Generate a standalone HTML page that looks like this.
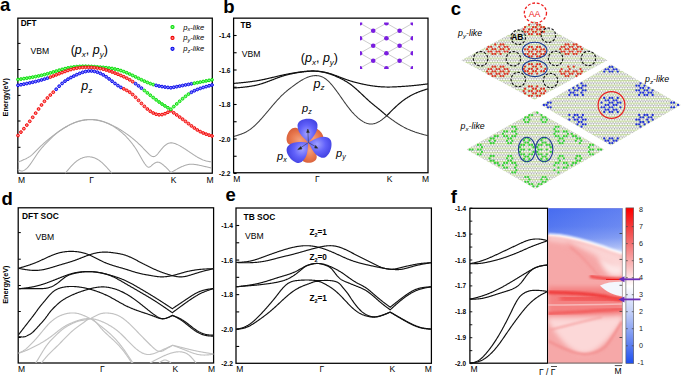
<!DOCTYPE html>
<html><head><meta charset="utf-8"><style>
html,body{margin:0;padding:0;background:#fff;}
svg{display:block;font-family:"Liberation Sans",sans-serif;}
</style></head><body>
<svg width="685" height="375" viewBox="0 0 685 375">
<rect width="685" height="375" fill="#fff"/>
<text x="0.0" y="10.6" font-size="18.5" font-weight="bold" font-style="normal" text-anchor="start" fill="#000" >a</text>
<text x="223.3" y="13.4" font-size="18.5" font-weight="bold" font-style="normal" text-anchor="start" fill="#000" >b</text>
<text x="450.8" y="14.8" font-size="18.5" font-weight="bold" font-style="normal" text-anchor="start" fill="#000" >c</text>
<text x="1.5" y="204.7" font-size="18.5" font-weight="bold" font-style="normal" text-anchor="start" fill="#000" >d</text>
<text x="225.6" y="201.0" font-size="18.5" font-weight="bold" font-style="normal" text-anchor="start" fill="#000" >e</text>
<text x="450.8" y="202.7" font-size="18.5" font-weight="bold" font-style="normal" text-anchor="start" fill="#000" >f</text>
<rect x="17.85" y="18.15" width="194.45" height="155.05" stroke="#000" stroke-width="1.25" fill="none"/>
<line x1="17.85" y1="43.4" x2="20.5" y2="43.4" stroke="#000" stroke-width="1"/>
<line x1="17.85" y1="69.5" x2="20.5" y2="69.5" stroke="#000" stroke-width="1"/>
<line x1="17.85" y1="95.4" x2="20.5" y2="95.4" stroke="#000" stroke-width="1"/>
<line x1="17.85" y1="121" x2="20.5" y2="121" stroke="#000" stroke-width="1"/>
<line x1="17.85" y1="147.3" x2="20.5" y2="147.3" stroke="#000" stroke-width="1"/>
<text x="20.7" y="26" font-size="8.2" font-weight="bold" font-style="normal" text-anchor="start" fill="#000" >DFT</text>
<text x="30.5" y="54.3" font-size="8.6" font-weight="normal" font-style="normal" text-anchor="start" fill="#000" >VBM</text>
<text x="70.7" y="54.2" font-size="12.5" fill="#000">(<tspan font-style="italic">p</tspan><tspan font-size="8" dy="2.5" font-style="italic">x</tspan><tspan dy="-2.5">, </tspan><tspan font-style="italic">p</tspan><tspan font-size="8" dy="2.5" font-style="italic">y</tspan><tspan dy="-2.5">)</tspan></text>
<text x="81.3" y="90" font-size="12.5" font-style="italic" fill="#000">p<tspan font-size="8" dy="2.5">z</tspan></text>
<circle cx="172.5" cy="27.0" r="1.55" fill="#80ff80" stroke="#00d800" stroke-width="1.1"/>
<text x="183.3" y="29.5" font-size="7.6" font-style="italic" fill="#000">p<tspan font-size="5.5" dy="1.6">x</tspan><tspan dy="-1.6">-like</tspan></text>
<circle cx="172.5" cy="37.9" r="1.55" fill="#ff8080" stroke="#f00000" stroke-width="1.1"/>
<text x="183.3" y="40.4" font-size="7.6" font-style="italic" fill="#000">p<tspan font-size="5.5" dy="1.6">y</tspan><tspan dy="-1.6">-like</tspan></text>
<circle cx="172.5" cy="48.8" r="1.55" fill="#8080ff" stroke="#0000e8" stroke-width="1.1"/>
<text x="183.3" y="51.3" font-size="7.6" font-style="italic" fill="#000">p<tspan font-size="5.5" dy="1.6">z</tspan><tspan dy="-1.6">-like</tspan></text>
<path d="M18.00,162.20L18.50,161.99L19.00,161.78L19.50,161.56L20.00,161.35L20.50,161.14L21.00,160.92L21.50,160.71L22.00,160.49L22.50,160.27L23.00,160.05L23.50,159.82L24.00,159.60L24.50,159.37L25.00,159.14L25.50,158.91L26.00,158.66L26.50,158.41L27.00,158.15L27.50,157.88L28.00,157.60L28.50,157.31L29.00,157.00L29.50,156.68L30.00,156.34L30.50,155.98L31.00,155.60L31.50,155.20L32.00,154.78L32.50,154.35L33.00,153.90L33.50,153.43L34.00,152.96L34.50,152.47L35.00,151.97L35.50,151.47L36.00,150.96L36.50,150.45L37.00,149.94L37.50,149.42L38.00,148.91L38.50,148.40L39.00,147.90L39.50,147.40L40.00,146.91L40.50,146.43L41.00,145.95L41.50,145.48L42.00,145.01L42.50,144.55L43.00,144.09L43.50,143.64L44.00,143.20L44.50,142.75L45.00,142.32L45.50,141.88L46.00,141.45L46.50,141.02L47.00,140.60L47.50,140.18L48.00,139.76L48.50,139.34L49.00,138.93L49.50,138.52L50.00,138.11L50.50,137.71L51.00,137.31L51.50,136.91L52.00,136.51L52.50,136.12L53.00,135.73L53.50,135.34L54.00,134.96L54.50,134.58L55.00,134.20L55.50,133.82L56.00,133.45L56.50,133.08L57.00,132.72L57.50,132.35L58.00,131.99L58.50,131.64L59.00,131.28L59.50,130.93L60.00,130.59L60.50,130.25L61.00,129.91L61.50,129.58L62.00,129.25L62.50,128.92L63.00,128.60L63.50,128.28L64.00,127.97L64.50,127.66L65.00,127.36L65.50,127.06L66.00,126.77L66.50,126.48L67.00,126.20L67.50,125.92L68.00,125.65L68.50,125.38L69.00,125.12L69.50,124.86L70.00,124.61L70.50,124.36L71.00,124.12L71.50,123.89L72.00,123.66L72.50,123.43L73.00,123.21L73.50,123.00L74.00,122.80L74.50,122.59L75.00,122.40L75.50,122.21L76.00,122.03L76.50,121.85L77.00,121.68L77.50,121.52L78.00,121.36L78.50,121.21L79.00,121.06L79.50,120.92L80.00,120.79L80.50,120.66L81.00,120.54L81.50,120.43L82.00,120.32L82.50,120.22L83.00,120.12L83.50,120.03L84.00,119.95L84.50,119.87L85.00,119.80L85.50,119.73L86.00,119.67L86.50,119.62L87.00,119.57L87.50,119.53L88.00,119.50L88.50,119.47L89.00,119.45L89.50,119.44L90.00,119.43L90.50,119.42L91.00,119.43L91.50,119.44L92.00,119.46L92.50,119.48L93.00,119.51L93.50,119.54L94.00,119.59L94.50,119.64L95.00,119.69L95.50,119.75L96.00,119.82L96.50,119.89L97.00,119.98L97.50,120.06L98.00,120.16L98.50,120.26L99.00,120.37L99.50,120.48L100.00,120.60L100.50,120.73L101.00,120.86L101.50,121.00L102.00,121.15L102.50,121.30L103.00,121.46L103.50,121.62L104.00,121.79L104.50,121.96L105.00,122.14L105.50,122.33L106.00,122.52L106.50,122.71L107.00,122.91L107.50,123.12L108.00,123.33L108.50,123.54L109.00,123.75L109.50,123.98L110.00,124.20L110.50,124.43L111.00,124.66L111.50,124.90L112.00,125.14L112.50,125.38L113.00,125.63L113.50,125.88L114.00,126.13L114.50,126.39L115.00,126.65L115.50,126.92L116.00,127.19L116.50,127.46L117.00,127.74L117.50,128.02L118.00,128.31L118.50,128.60L119.00,128.90L119.50,129.20L120.00,129.50L120.50,129.81L121.00,130.12L121.50,130.44L122.00,130.76L122.50,131.08L123.00,131.41L123.50,131.74L124.00,132.08L124.50,132.42L125.00,132.76L125.50,133.11L126.00,133.46L126.50,133.82L127.00,134.18L127.50,134.54L128.00,134.90L128.50,135.27L129.00,135.64L129.50,136.02L130.00,136.40L130.50,136.78L131.00,137.17L131.50,137.56L132.00,137.95L132.50,138.35L133.00,138.75L133.50,139.16L134.00,139.57L134.50,139.99L135.00,140.41L135.50,140.84L136.00,141.27L136.50,141.72L137.00,142.16L137.50,142.62L138.00,143.08L138.50,143.54L139.00,144.02L139.50,144.50L140.00,144.99L140.50,145.48L141.00,145.97L141.50,146.47L142.00,146.98L142.50,147.49L143.00,148.00L143.50,148.52L144.00,149.04L144.50,149.56L145.00,150.08L145.50,150.61L146.00,151.13L146.50,151.65L147.00,152.17L147.50,152.68L148.00,153.18L148.50,153.66L149.00,154.13L149.50,154.58L150.00,155.00L150.50,155.39L151.00,155.75L151.50,156.06L152.00,156.31L152.50,156.50L153.00,156.60L153.50,156.62L154.00,156.55L154.50,156.40L155.00,156.17L155.50,155.87L156.00,155.50L156.50,155.07L157.00,154.58L157.50,154.05L158.00,153.48L158.50,152.88L159.00,152.26L159.50,151.63L160.00,151.00L160.50,150.37L161.00,149.76L161.50,149.16L162.00,148.57L162.50,148.00L163.00,147.45L163.50,146.92L164.00,146.42L164.50,145.94L165.00,145.50L165.50,145.09L166.00,144.71L166.50,144.37L167.00,144.06L167.50,143.79L168.00,143.55L168.50,143.34L169.00,143.18L169.50,143.04L170.00,142.94L170.50,142.88L171.00,142.85L171.50,142.86L172.00,142.89L172.50,142.95L173.00,143.04L173.50,143.15L174.00,143.28L174.50,143.43L175.00,143.60L175.50,143.78L176.00,143.97L176.50,144.18L177.00,144.40L177.50,144.63L178.00,144.87L178.50,145.11L179.00,145.37L179.50,145.64L180.00,145.91L180.50,146.19L181.00,146.48L181.50,146.78L182.00,147.08L182.50,147.38L183.00,147.69L183.50,148.00L184.00,148.32L184.50,148.64L185.00,148.97L185.50,149.30L186.00,149.63L186.50,149.96L187.00,150.29L187.50,150.63L188.00,150.97L188.50,151.31L189.00,151.65L189.50,151.99L190.00,152.32L190.50,152.66L191.00,153.00L191.50,153.34L192.00,153.68L192.50,154.01L193.00,154.34L193.50,154.67L194.00,155.00L194.50,155.32L195.00,155.64L195.50,155.96L196.00,156.27L196.50,156.58L197.00,156.88L197.50,157.18L198.00,157.47L198.50,157.75L199.00,158.03L199.50,158.30L200.00,158.56L200.50,158.81L201.00,159.05L201.50,159.28L202.00,159.51L202.50,159.72L203.00,159.93L203.50,160.12L204.00,160.30L204.50,160.47L205.00,160.62L205.50,160.77L206.00,160.90L206.50,161.03L207.00,161.14L207.50,161.25L208.00,161.35L208.50,161.45L209.00,161.54L209.50,161.62L210.00,161.70L210.50,161.78L211.00,161.85L211.50,161.93L212.00,162.00" stroke="#acacac" stroke-width="1.05" fill="none"/>
<path d="M18.00,169.40L18.50,169.72L19.00,170.03L19.50,170.31L20.00,170.56L20.50,170.76L21.00,170.90L21.50,170.97L22.00,170.98L22.50,170.92L23.00,170.80L23.50,170.63L24.00,170.40L24.50,170.12L25.00,169.80L25.50,169.43L26.00,169.03L26.50,168.58L27.00,168.10L27.50,167.58L28.00,167.04L28.50,166.46L29.00,165.85L29.50,165.22L30.00,164.57L30.50,163.89L31.00,163.20L31.50,162.49L32.00,161.76L32.50,161.03L33.00,160.28L33.50,159.52L34.00,158.76L34.50,158.00L35.00,157.24L35.50,156.48L36.00,155.72L36.50,154.97L37.00,154.23L37.50,153.50L38.00,152.78L38.50,152.08L39.00,151.40L39.50,150.74L40.00,150.10L40.50,149.47L41.00,148.87L41.50,148.28L42.00,147.70L42.50,147.13L43.00,146.58L43.50,146.04L44.00,145.50L44.50,144.98L45.00,144.45L45.50,143.94L46.00,143.42L46.50,142.91L47.00,142.40L47.50,141.89L48.00,141.38L48.50,140.86L49.00,140.35L49.50,139.84L50.00,139.34L50.50,138.84L51.00,138.34L51.50,137.85L52.00,137.36L52.50,136.88L53.00,136.40L53.50,135.94L54.00,135.48L54.50,135.04L55.00,134.60L55.50,134.17L56.00,133.76L56.50,133.35L57.00,132.96L57.50,132.57L58.00,132.20L58.50,131.83L59.00,131.47L59.50,131.11L60.00,130.76L60.50,130.42L61.00,130.09L61.50,129.76L62.00,129.44L62.50,129.12L63.00,128.80L63.50,128.49L64.00,128.18L64.50,127.88L65.00,127.58L65.50,127.28L66.00,126.99L66.50,126.70L67.00,126.42L67.50,126.14L68.00,125.87L68.50,125.60L69.00,125.33L69.50,125.07L70.00,124.82L70.50,124.57L71.00,124.33L71.50,124.09L72.00,123.86L72.50,123.64L73.00,123.42L73.50,123.20L74.00,123.00L74.50,122.79L75.00,122.60L75.50,122.41L76.00,122.23L76.50,122.06L77.00,121.89L77.50,121.73L78.00,121.57L78.50,121.42L79.00,121.28L79.50,121.14L80.00,121.01L80.50,120.89L81.00,120.77L81.50,120.66L82.00,120.56L82.50,120.46L83.00,120.37L83.50,120.29L84.00,120.21L84.50,120.13L85.00,120.07L85.50,120.01L86.00,119.95L86.50,119.91L87.00,119.86L87.50,119.83L88.00,119.80L88.50,119.78L89.00,119.76L89.50,119.75L90.00,119.74L90.50,119.74L91.00,119.75L91.50,119.77L92.00,119.78L92.50,119.81L93.00,119.84L93.50,119.88L94.00,119.92L94.50,119.97L95.00,120.03L95.50,120.09L96.00,120.15L96.50,120.23L97.00,120.30L97.50,120.39L98.00,120.48L98.50,120.58L99.00,120.68L99.50,120.79L100.00,120.90L100.50,121.02L101.00,121.15L101.50,121.28L102.00,121.41L102.50,121.56L103.00,121.71L103.50,121.86L104.00,122.03L104.50,122.19L105.00,122.37L105.50,122.55L106.00,122.74L106.50,122.94L107.00,123.14L107.50,123.35L108.00,123.56L108.50,123.79L109.00,124.02L109.50,124.26L110.00,124.50L110.50,124.75L111.00,125.01L111.50,125.28L112.00,125.55L112.50,125.84L113.00,126.13L113.50,126.42L114.00,126.73L114.50,127.04L115.00,127.36L115.50,127.69L116.00,128.03L116.50,128.37L117.00,128.72L117.50,129.08L118.00,129.45L118.50,129.83L119.00,130.21L119.50,130.60L120.00,131.00L120.50,131.41L121.00,131.82L121.50,132.25L122.00,132.68L122.50,133.12L123.00,133.57L123.50,134.03L124.00,134.50L124.50,134.98L125.00,135.47L125.50,135.96L126.00,136.47L126.50,136.99L127.00,137.52L127.50,138.05L128.00,138.60L128.50,139.16L129.00,139.73L129.50,140.31L130.00,140.90L130.50,141.50L131.00,142.12L131.50,142.74L132.00,143.38L132.50,144.04L133.00,144.71L133.50,145.39L134.00,146.09L134.50,146.80L135.00,147.53L135.50,148.28L136.00,149.05L136.50,149.84L137.00,150.64L137.50,151.46L138.00,152.31L138.50,153.17L139.00,154.05L139.50,154.93L140.00,155.83L140.50,156.72L141.00,157.60L141.50,158.48L142.00,159.35L142.50,160.20L143.00,161.03L143.50,161.83L144.00,162.60L144.50,163.34L145.00,164.04L145.50,164.69L146.00,165.30L146.50,165.85L147.00,166.33L147.50,166.73L148.00,167.01L148.50,167.17L149.00,167.19L149.50,167.06L150.00,166.82L150.50,166.49L151.00,166.09L151.50,165.65L152.00,165.20L152.50,164.76L153.00,164.33L153.50,163.93L154.00,163.56L154.50,163.22L155.00,162.91L155.50,162.65L156.00,162.44L156.50,162.28L157.00,162.19L157.50,162.15L158.00,162.17L158.50,162.24L159.00,162.36L159.50,162.54L160.00,162.75L160.50,163.00L161.00,163.29L161.50,163.61L162.00,163.95L162.50,164.33L163.00,164.73L163.50,165.15L164.00,165.58L164.50,166.04L165.00,166.50L165.50,166.97L166.00,167.46L166.50,167.95L167.00,168.45L167.50,168.95L168.00,169.46L168.50,169.98L169.00,170.50L169.50,171.02L170.00,171.55L170.50,172.07L171.00,172.60L171.00,172.60L171.50,172.29L172.00,171.99L172.50,171.68L173.00,171.38L173.50,171.08L174.00,170.78L174.50,170.49L175.00,170.20L175.50,169.92L176.00,169.64L176.50,169.36L177.00,169.09L177.50,168.83L178.00,168.56L178.50,168.30L179.00,168.05L179.50,167.79L180.00,167.54L180.50,167.30L181.00,167.06L181.50,166.82L182.00,166.59L182.50,166.37L183.00,166.15L183.50,165.95L184.00,165.75L184.50,165.56L185.00,165.38L185.50,165.21L186.00,165.06L186.50,164.91L187.00,164.78L187.50,164.66L188.00,164.55L188.50,164.46L189.00,164.39L189.50,164.32L190.00,164.28L190.50,164.25L191.00,164.23L191.50,164.22L192.00,164.23L192.50,164.24L193.00,164.27L193.50,164.31L194.00,164.36L194.50,164.41L195.00,164.47L195.50,164.54L196.00,164.62L196.50,164.70L197.00,164.79L197.50,164.88L198.00,164.98L198.50,165.08L199.00,165.18L199.50,165.28L200.00,165.39L200.50,165.49L201.00,165.60L201.50,165.71L202.00,165.82L202.50,165.93L203.00,166.04L203.50,166.16L204.00,166.27L204.50,166.39L205.00,166.51L205.50,166.62L206.00,166.74L206.50,166.86L207.00,166.98L207.50,167.10L208.00,167.22L208.50,167.34L209.00,167.46L209.50,167.59L210.00,167.71L210.50,167.83L211.00,167.95L211.50,168.08L212.00,168.20" stroke="#acacac" stroke-width="1.05" fill="none"/>
<path d="M65.30,173.20L65.80,172.59L66.30,171.98L66.80,171.38L67.30,170.77L67.80,170.18L68.30,169.58L68.80,168.99L69.30,168.41L69.80,167.83L70.30,167.26L70.80,166.71L71.30,166.16L71.80,165.62L72.30,165.09L72.80,164.58L73.30,164.08L73.80,163.60L74.30,163.13L74.80,162.68L75.30,162.24L75.80,161.82L76.30,161.42L76.80,161.04L77.30,160.67L77.80,160.33L78.30,160.00L78.80,159.68L79.30,159.38L79.80,159.10L80.30,158.84L80.80,158.59L81.30,158.36L81.80,158.15L82.30,157.95L82.80,157.77L83.30,157.60L83.80,157.45L84.30,157.32L84.80,157.20L85.30,157.09L85.80,157.01L86.30,156.93L86.80,156.88L87.30,156.84L87.80,156.81L88.30,156.80L88.80,156.80L89.30,156.82L89.80,156.85L90.30,156.90L90.80,156.96L91.30,157.04L91.80,157.13L92.30,157.24L92.80,157.37L93.30,157.51L93.80,157.67L94.30,157.84L94.80,158.03L95.30,158.24L95.80,158.46L96.30,158.70L96.80,158.95L97.30,159.23L97.80,159.52L98.30,159.82L98.80,160.15L99.30,160.49L99.80,160.85L100.30,161.23L100.80,161.62L101.30,162.04L101.80,162.46L102.30,162.91L102.80,163.36L103.30,163.84L103.80,164.32L104.30,164.82L104.80,165.32L105.30,165.84L105.80,166.37L106.30,166.91L106.80,167.45L107.30,168.01L107.80,168.57L108.30,169.13L108.80,169.70L109.30,170.28L109.80,170.86L110.30,171.44L110.80,172.03L111.30,172.61L111.80,173.20" stroke="#acacac" stroke-width="1.05" fill="none"/>
<circle cx="18.00" cy="79.50" r="1.4" fill="#7cff7c" stroke="#00d800" stroke-width="0.95"/>
<circle cx="20.94" cy="79.06" r="1.4" fill="#7cff7c" stroke="#00d800" stroke-width="0.95"/>
<circle cx="23.88" cy="78.61" r="1.4" fill="#7cff7c" stroke="#00d800" stroke-width="0.95"/>
<circle cx="26.82" cy="78.14" r="1.4" fill="#7cff7c" stroke="#00d800" stroke-width="0.95"/>
<circle cx="29.76" cy="77.66" r="1.4" fill="#7cff7c" stroke="#00d800" stroke-width="0.95"/>
<circle cx="32.70" cy="77.14" r="1.4" fill="#7cff7c" stroke="#00d800" stroke-width="0.95"/>
<circle cx="35.64" cy="76.58" r="1.4" fill="#7cff7c" stroke="#00d800" stroke-width="0.95"/>
<circle cx="38.58" cy="75.97" r="1.4" fill="#7cff7c" stroke="#00d800" stroke-width="0.95"/>
<circle cx="41.52" cy="75.31" r="1.4" fill="#7cff7c" stroke="#00d800" stroke-width="0.95"/>
<circle cx="44.45" cy="74.58" r="1.4" fill="#7cff7c" stroke="#00d800" stroke-width="0.95"/>
<circle cx="47.39" cy="73.79" r="1.4" fill="#7cff7c" stroke="#00d800" stroke-width="0.95"/>
<circle cx="50.33" cy="72.93" r="1.4" fill="#7cff7c" stroke="#00d800" stroke-width="0.95"/>
<circle cx="53.27" cy="72.02" r="1.4" fill="#7cff7c" stroke="#00d800" stroke-width="0.95"/>
<circle cx="56.21" cy="71.11" r="1.4" fill="#7cff7c" stroke="#00d800" stroke-width="0.95"/>
<circle cx="59.15" cy="70.21" r="1.4" fill="#7cff7c" stroke="#00d800" stroke-width="0.95"/>
<circle cx="62.09" cy="69.38" r="1.4" fill="#7cff7c" stroke="#00d800" stroke-width="0.95"/>
<circle cx="65.03" cy="68.62" r="1.4" fill="#7cff7c" stroke="#00d800" stroke-width="0.95"/>
<circle cx="67.97" cy="67.96" r="1.4" fill="#7cff7c" stroke="#00d800" stroke-width="0.95"/>
<circle cx="70.91" cy="67.40" r="1.4" fill="#7cff7c" stroke="#00d800" stroke-width="0.95"/>
<circle cx="73.85" cy="66.95" r="1.4" fill="#7cff7c" stroke="#00d800" stroke-width="0.95"/>
<circle cx="76.79" cy="66.61" r="1.4" fill="#7cff7c" stroke="#00d800" stroke-width="0.95"/>
<circle cx="79.73" cy="66.39" r="1.4" fill="#7cff7c" stroke="#00d800" stroke-width="0.95"/>
<circle cx="82.67" cy="66.27" r="1.4" fill="#7cff7c" stroke="#00d800" stroke-width="0.95"/>
<circle cx="85.61" cy="66.25" r="1.4" fill="#7cff7c" stroke="#00d800" stroke-width="0.95"/>
<circle cx="88.55" cy="66.32" r="1.4" fill="#7cff7c" stroke="#00d800" stroke-width="0.95"/>
<circle cx="91.48" cy="66.45" r="1.4" fill="#7cff7c" stroke="#00d800" stroke-width="0.95"/>
<circle cx="94.42" cy="66.65" r="1.4" fill="#7cff7c" stroke="#00d800" stroke-width="0.95"/>
<circle cx="97.36" cy="66.88" r="1.4" fill="#7cff7c" stroke="#00d800" stroke-width="0.95"/>
<circle cx="100.30" cy="67.13" r="1.4" fill="#7cff7c" stroke="#00d800" stroke-width="0.95"/>
<circle cx="103.24" cy="67.39" r="1.4" fill="#7cff7c" stroke="#00d800" stroke-width="0.95"/>
<circle cx="106.18" cy="67.68" r="1.4" fill="#7cff7c" stroke="#00d800" stroke-width="0.95"/>
<circle cx="109.12" cy="68.04" r="1.4" fill="#7cff7c" stroke="#00d800" stroke-width="0.95"/>
<circle cx="112.06" cy="68.48" r="1.4" fill="#7cff7c" stroke="#00d800" stroke-width="0.95"/>
<circle cx="115.00" cy="69.03" r="1.4" fill="#7cff7c" stroke="#00d800" stroke-width="0.95"/>
<circle cx="117.94" cy="69.72" r="1.4" fill="#7cff7c" stroke="#00d800" stroke-width="0.95"/>
<circle cx="120.88" cy="70.57" r="1.4" fill="#7cff7c" stroke="#00d800" stroke-width="0.95"/>
<circle cx="123.82" cy="71.60" r="1.4" fill="#7cff7c" stroke="#00d800" stroke-width="0.95"/>
<circle cx="126.76" cy="72.77" r="1.4" fill="#7cff7c" stroke="#00d800" stroke-width="0.95"/>
<circle cx="129.70" cy="74.06" r="1.4" fill="#7cff7c" stroke="#00d800" stroke-width="0.95"/>
<circle cx="132.64" cy="75.44" r="1.4" fill="#7cff7c" stroke="#00d800" stroke-width="0.95"/>
<circle cx="135.58" cy="76.88" r="1.4" fill="#7cff7c" stroke="#00d800" stroke-width="0.95"/>
<circle cx="138.52" cy="78.34" r="1.4" fill="#7cff7c" stroke="#00d800" stroke-width="0.95"/>
<circle cx="141.45" cy="79.78" r="1.4" fill="#7cff7c" stroke="#00d800" stroke-width="0.95"/>
<circle cx="144.39" cy="81.16" r="1.4" fill="#7cff7c" stroke="#00d800" stroke-width="0.95"/>
<circle cx="147.33" cy="82.44" r="1.4" fill="#7cff7c" stroke="#00d800" stroke-width="0.95"/>
<circle cx="150.27" cy="83.60" r="1.4" fill="#7cff7c" stroke="#00d800" stroke-width="0.95"/>
<circle cx="153.21" cy="84.58" r="1.4" fill="#7cff7c" stroke="#00d800" stroke-width="0.95"/>
<circle cx="156.15" cy="85.39" r="1.4" fill="#8a8aff" stroke="#0000e8" stroke-width="0.95"/>
<circle cx="159.09" cy="86.05" r="1.4" fill="#8a8aff" stroke="#0000e8" stroke-width="0.95"/>
<circle cx="162.03" cy="86.59" r="1.4" fill="#8a8aff" stroke="#0000e8" stroke-width="0.95"/>
<circle cx="164.97" cy="87.04" r="1.4" fill="#8a8aff" stroke="#0000e8" stroke-width="0.95"/>
<circle cx="167.91" cy="87.43" r="1.4" fill="#8a8aff" stroke="#0000e8" stroke-width="0.95"/>
<circle cx="170.85" cy="87.78" r="1.4" fill="#8a8aff" stroke="#0000e8" stroke-width="0.95"/>
<circle cx="173.79" cy="87.26" r="1.4" fill="#8a8aff" stroke="#0000e8" stroke-width="0.95"/>
<circle cx="176.73" cy="86.68" r="1.4" fill="#8a8aff" stroke="#0000e8" stroke-width="0.95"/>
<circle cx="179.67" cy="86.11" r="1.4" fill="#8a8aff" stroke="#0000e8" stroke-width="0.95"/>
<circle cx="182.61" cy="85.54" r="1.4" fill="#8a8aff" stroke="#0000e8" stroke-width="0.95"/>
<circle cx="185.55" cy="84.96" r="1.4" fill="#8a8aff" stroke="#0000e8" stroke-width="0.95"/>
<circle cx="188.48" cy="84.39" r="1.4" fill="#8a8aff" stroke="#0000e8" stroke-width="0.95"/>
<circle cx="191.42" cy="83.82" r="1.4" fill="#8a8aff" stroke="#0000e8" stroke-width="0.95"/>
<circle cx="194.36" cy="83.24" r="1.4" fill="#7cff7c" stroke="#00d800" stroke-width="0.95"/>
<circle cx="197.30" cy="82.67" r="1.4" fill="#7cff7c" stroke="#00d800" stroke-width="0.95"/>
<circle cx="200.24" cy="82.10" r="1.4" fill="#7cff7c" stroke="#00d800" stroke-width="0.95"/>
<circle cx="203.18" cy="81.52" r="1.4" fill="#7cff7c" stroke="#00d800" stroke-width="0.95"/>
<circle cx="206.12" cy="80.95" r="1.4" fill="#7cff7c" stroke="#00d800" stroke-width="0.95"/>
<circle cx="209.06" cy="80.37" r="1.4" fill="#7cff7c" stroke="#00d800" stroke-width="0.95"/>
<circle cx="212.00" cy="79.80" r="1.4" fill="#7cff7c" stroke="#00d800" stroke-width="0.95"/>
<circle cx="18.00" cy="135.50" r="1.4" fill="#ff8a8a" stroke="#f00000" stroke-width="0.95"/>
<circle cx="20.94" cy="132.12" r="1.4" fill="#ff8a8a" stroke="#f00000" stroke-width="0.95"/>
<circle cx="23.88" cy="128.67" r="1.4" fill="#ff8a8a" stroke="#f00000" stroke-width="0.95"/>
<circle cx="26.82" cy="125.10" r="1.4" fill="#ff8a8a" stroke="#f00000" stroke-width="0.95"/>
<circle cx="29.76" cy="121.32" r="1.4" fill="#ff8a8a" stroke="#f00000" stroke-width="0.95"/>
<circle cx="32.70" cy="117.31" r="1.4" fill="#ff8a8a" stroke="#f00000" stroke-width="0.95"/>
<circle cx="35.64" cy="113.16" r="1.4" fill="#ff8a8a" stroke="#f00000" stroke-width="0.95"/>
<circle cx="38.58" cy="109.02" r="1.4" fill="#ff8a8a" stroke="#f00000" stroke-width="0.95"/>
<circle cx="41.52" cy="105.01" r="1.4" fill="#ff8a8a" stroke="#f00000" stroke-width="0.95"/>
<circle cx="44.45" cy="101.29" r="1.4" fill="#ff8a8a" stroke="#f00000" stroke-width="0.95"/>
<circle cx="47.39" cy="97.99" r="1.4" fill="#ff8a8a" stroke="#f00000" stroke-width="0.95"/>
<circle cx="50.33" cy="95.05" r="1.4" fill="#ff8a8a" stroke="#f00000" stroke-width="0.95"/>
<circle cx="53.27" cy="92.22" r="1.4" fill="#ff8a8a" stroke="#f00000" stroke-width="0.95"/>
<circle cx="56.21" cy="89.24" r="1.4" fill="#8a8aff" stroke="#0000e8" stroke-width="0.95"/>
<circle cx="59.15" cy="86.20" r="1.4" fill="#8a8aff" stroke="#0000e8" stroke-width="0.95"/>
<circle cx="62.09" cy="83.44" r="1.4" fill="#8a8aff" stroke="#0000e8" stroke-width="0.95"/>
<circle cx="65.03" cy="81.13" r="1.4" fill="#8a8aff" stroke="#0000e8" stroke-width="0.95"/>
<circle cx="67.97" cy="79.19" r="1.4" fill="#8a8aff" stroke="#0000e8" stroke-width="0.95"/>
<circle cx="70.91" cy="77.53" r="1.4" fill="#8a8aff" stroke="#0000e8" stroke-width="0.95"/>
<circle cx="73.85" cy="76.05" r="1.4" fill="#8a8aff" stroke="#0000e8" stroke-width="0.95"/>
<circle cx="76.79" cy="74.67" r="1.4" fill="#8a8aff" stroke="#0000e8" stroke-width="0.95"/>
<circle cx="79.73" cy="73.40" r="1.4" fill="#8a8aff" stroke="#0000e8" stroke-width="0.95"/>
<circle cx="82.67" cy="72.31" r="1.4" fill="#8a8aff" stroke="#0000e8" stroke-width="0.95"/>
<circle cx="85.61" cy="71.50" r="1.4" fill="#8a8aff" stroke="#0000e8" stroke-width="0.95"/>
<circle cx="88.55" cy="71.03" r="1.4" fill="#8a8aff" stroke="#0000e8" stroke-width="0.95"/>
<circle cx="91.48" cy="71.00" r="1.4" fill="#8a8aff" stroke="#0000e8" stroke-width="0.95"/>
<circle cx="94.42" cy="71.39" r="1.4" fill="#8a8aff" stroke="#0000e8" stroke-width="0.95"/>
<circle cx="97.36" cy="72.19" r="1.4" fill="#8a8aff" stroke="#0000e8" stroke-width="0.95"/>
<circle cx="100.30" cy="73.37" r="1.4" fill="#8a8aff" stroke="#0000e8" stroke-width="0.95"/>
<circle cx="103.24" cy="74.91" r="1.4" fill="#8a8aff" stroke="#0000e8" stroke-width="0.95"/>
<circle cx="106.18" cy="76.79" r="1.4" fill="#8a8aff" stroke="#0000e8" stroke-width="0.95"/>
<circle cx="109.12" cy="78.94" r="1.4" fill="#8a8aff" stroke="#0000e8" stroke-width="0.95"/>
<circle cx="112.06" cy="81.21" r="1.4" fill="#8a8aff" stroke="#0000e8" stroke-width="0.95"/>
<circle cx="115.00" cy="83.47" r="1.4" fill="#8a8aff" stroke="#0000e8" stroke-width="0.95"/>
<circle cx="117.94" cy="85.57" r="1.4" fill="#8a8aff" stroke="#0000e8" stroke-width="0.95"/>
<circle cx="120.88" cy="87.39" r="1.4" fill="#8a8aff" stroke="#0000e8" stroke-width="0.95"/>
<circle cx="123.82" cy="88.90" r="1.4" fill="#ff8a8a" stroke="#f00000" stroke-width="0.95"/>
<circle cx="126.76" cy="90.40" r="1.4" fill="#ff8a8a" stroke="#f00000" stroke-width="0.95"/>
<circle cx="129.70" cy="92.19" r="1.4" fill="#ff8a8a" stroke="#f00000" stroke-width="0.95"/>
<circle cx="132.64" cy="94.52" r="1.4" fill="#ff8a8a" stroke="#f00000" stroke-width="0.95"/>
<circle cx="135.58" cy="97.30" r="1.4" fill="#ff8a8a" stroke="#f00000" stroke-width="0.95"/>
<circle cx="138.52" cy="100.34" r="1.4" fill="#ff8a8a" stroke="#f00000" stroke-width="0.95"/>
<circle cx="141.45" cy="103.43" r="1.4" fill="#ff8a8a" stroke="#f00000" stroke-width="0.95"/>
<circle cx="144.39" cy="106.36" r="1.4" fill="#ff8a8a" stroke="#f00000" stroke-width="0.95"/>
<circle cx="147.33" cy="109.00" r="1.4" fill="#ff8a8a" stroke="#f00000" stroke-width="0.95"/>
<circle cx="150.27" cy="111.25" r="1.4" fill="#ff8a8a" stroke="#f00000" stroke-width="0.95"/>
<circle cx="153.21" cy="113.02" r="1.4" fill="#ff8a8a" stroke="#f00000" stroke-width="0.95"/>
<circle cx="156.15" cy="114.23" r="1.4" fill="#ff8a8a" stroke="#f00000" stroke-width="0.95"/>
<circle cx="159.09" cy="114.78" r="1.4" fill="#ff8a8a" stroke="#f00000" stroke-width="0.95"/>
<circle cx="162.03" cy="114.59" r="1.4" fill="#ff8a8a" stroke="#f00000" stroke-width="0.95"/>
<circle cx="164.97" cy="113.68" r="1.4" fill="#ff8a8a" stroke="#f00000" stroke-width="0.95"/>
<circle cx="167.91" cy="112.27" r="1.4" fill="#ff8a8a" stroke="#f00000" stroke-width="0.95"/>
<circle cx="170.85" cy="110.80" r="1.4" fill="#ff8a8a" stroke="#f00000" stroke-width="0.95"/>
<circle cx="173.79" cy="112.87" r="1.4" fill="#ff8a8a" stroke="#f00000" stroke-width="0.95"/>
<circle cx="176.73" cy="114.95" r="1.4" fill="#ff8a8a" stroke="#f00000" stroke-width="0.95"/>
<circle cx="179.67" cy="117.06" r="1.4" fill="#ff8a8a" stroke="#f00000" stroke-width="0.95"/>
<circle cx="182.61" cy="119.21" r="1.4" fill="#ff8a8a" stroke="#f00000" stroke-width="0.95"/>
<circle cx="185.55" cy="121.41" r="1.4" fill="#ff8a8a" stroke="#f00000" stroke-width="0.95"/>
<circle cx="188.48" cy="123.66" r="1.4" fill="#ff8a8a" stroke="#f00000" stroke-width="0.95"/>
<circle cx="191.42" cy="125.89" r="1.4" fill="#ff8a8a" stroke="#f00000" stroke-width="0.95"/>
<circle cx="194.36" cy="128.01" r="1.4" fill="#ff8a8a" stroke="#f00000" stroke-width="0.95"/>
<circle cx="197.30" cy="129.95" r="1.4" fill="#ff8a8a" stroke="#f00000" stroke-width="0.95"/>
<circle cx="200.24" cy="131.63" r="1.4" fill="#ff8a8a" stroke="#f00000" stroke-width="0.95"/>
<circle cx="203.18" cy="133.00" r="1.4" fill="#ff8a8a" stroke="#f00000" stroke-width="0.95"/>
<circle cx="206.12" cy="134.14" r="1.4" fill="#ff8a8a" stroke="#f00000" stroke-width="0.95"/>
<circle cx="209.06" cy="135.11" r="1.4" fill="#ff8a8a" stroke="#f00000" stroke-width="0.95"/>
<circle cx="212.00" cy="136.00" r="1.4" fill="#ff8a8a" stroke="#f00000" stroke-width="0.95"/>
<circle cx="18.00" cy="85.30" r="1.4" fill="#8a8aff" stroke="#0000e8" stroke-width="0.95"/>
<circle cx="20.94" cy="84.72" r="1.4" fill="#8a8aff" stroke="#0000e8" stroke-width="0.95"/>
<circle cx="23.88" cy="84.14" r="1.4" fill="#8a8aff" stroke="#0000e8" stroke-width="0.95"/>
<circle cx="26.82" cy="83.53" r="1.4" fill="#8a8aff" stroke="#0000e8" stroke-width="0.95"/>
<circle cx="29.76" cy="82.91" r="1.4" fill="#8a8aff" stroke="#0000e8" stroke-width="0.95"/>
<circle cx="32.70" cy="82.25" r="1.4" fill="#8a8aff" stroke="#0000e8" stroke-width="0.95"/>
<circle cx="35.64" cy="81.54" r="1.4" fill="#8a8aff" stroke="#0000e8" stroke-width="0.95"/>
<circle cx="38.58" cy="80.79" r="1.4" fill="#8a8aff" stroke="#0000e8" stroke-width="0.95"/>
<circle cx="41.52" cy="79.98" r="1.4" fill="#8a8aff" stroke="#0000e8" stroke-width="0.95"/>
<circle cx="44.45" cy="79.11" r="1.4" fill="#8a8aff" stroke="#0000e8" stroke-width="0.95"/>
<circle cx="47.39" cy="78.15" r="1.4" fill="#8a8aff" stroke="#0000e8" stroke-width="0.95"/>
<circle cx="50.33" cy="77.12" r="1.4" fill="#ff8a8a" stroke="#f00000" stroke-width="0.95"/>
<circle cx="53.27" cy="76.01" r="1.4" fill="#ff8a8a" stroke="#f00000" stroke-width="0.95"/>
<circle cx="56.21" cy="74.87" r="1.4" fill="#ff8a8a" stroke="#f00000" stroke-width="0.95"/>
<circle cx="59.15" cy="73.70" r="1.4" fill="#ff8a8a" stroke="#f00000" stroke-width="0.95"/>
<circle cx="62.09" cy="72.56" r="1.4" fill="#ff8a8a" stroke="#f00000" stroke-width="0.95"/>
<circle cx="65.03" cy="71.46" r="1.4" fill="#ff8a8a" stroke="#f00000" stroke-width="0.95"/>
<circle cx="67.97" cy="70.44" r="1.4" fill="#ff8a8a" stroke="#f00000" stroke-width="0.95"/>
<circle cx="70.91" cy="69.53" r="1.4" fill="#ff8a8a" stroke="#f00000" stroke-width="0.95"/>
<circle cx="73.85" cy="68.76" r="1.4" fill="#ff8a8a" stroke="#f00000" stroke-width="0.95"/>
<circle cx="76.79" cy="68.15" r="1.4" fill="#ff8a8a" stroke="#f00000" stroke-width="0.95"/>
<circle cx="79.73" cy="67.72" r="1.4" fill="#ff8a8a" stroke="#f00000" stroke-width="0.95"/>
<circle cx="82.67" cy="67.44" r="1.4" fill="#ff8a8a" stroke="#f00000" stroke-width="0.95"/>
<circle cx="85.61" cy="67.31" r="1.4" fill="#ff8a8a" stroke="#f00000" stroke-width="0.95"/>
<circle cx="88.55" cy="67.31" r="1.4" fill="#ff8a8a" stroke="#f00000" stroke-width="0.95"/>
<circle cx="91.48" cy="67.42" r="1.4" fill="#ff8a8a" stroke="#f00000" stroke-width="0.95"/>
<circle cx="94.42" cy="67.67" r="1.4" fill="#ff8a8a" stroke="#f00000" stroke-width="0.95"/>
<circle cx="97.36" cy="68.04" r="1.4" fill="#ff8a8a" stroke="#f00000" stroke-width="0.95"/>
<circle cx="100.30" cy="68.56" r="1.4" fill="#ff8a8a" stroke="#f00000" stroke-width="0.95"/>
<circle cx="103.24" cy="69.22" r="1.4" fill="#ff8a8a" stroke="#f00000" stroke-width="0.95"/>
<circle cx="106.18" cy="70.02" r="1.4" fill="#ff8a8a" stroke="#f00000" stroke-width="0.95"/>
<circle cx="109.12" cy="70.93" r="1.4" fill="#ff8a8a" stroke="#f00000" stroke-width="0.95"/>
<circle cx="112.06" cy="71.95" r="1.4" fill="#ff8a8a" stroke="#f00000" stroke-width="0.95"/>
<circle cx="115.00" cy="73.06" r="1.4" fill="#ff8a8a" stroke="#f00000" stroke-width="0.95"/>
<circle cx="117.94" cy="74.24" r="1.4" fill="#ff8a8a" stroke="#f00000" stroke-width="0.95"/>
<circle cx="120.88" cy="75.48" r="1.4" fill="#ff8a8a" stroke="#f00000" stroke-width="0.95"/>
<circle cx="123.82" cy="76.78" r="1.4" fill="#ff8a8a" stroke="#f00000" stroke-width="0.95"/>
<circle cx="126.76" cy="78.21" r="1.4" fill="#ff8a8a" stroke="#f00000" stroke-width="0.95"/>
<circle cx="129.70" cy="79.82" r="1.4" fill="#ff8a8a" stroke="#f00000" stroke-width="0.95"/>
<circle cx="132.64" cy="81.66" r="1.4" fill="#ff8a8a" stroke="#f00000" stroke-width="0.95"/>
<circle cx="135.58" cy="83.69" r="1.4" fill="#8a8aff" stroke="#0000e8" stroke-width="0.95"/>
<circle cx="138.52" cy="85.88" r="1.4" fill="#8a8aff" stroke="#0000e8" stroke-width="0.95"/>
<circle cx="141.45" cy="88.17" r="1.4" fill="#8a8aff" stroke="#0000e8" stroke-width="0.95"/>
<circle cx="144.39" cy="90.52" r="1.4" fill="#7cff7c" stroke="#00d800" stroke-width="0.95"/>
<circle cx="147.33" cy="92.89" r="1.4" fill="#7cff7c" stroke="#00d800" stroke-width="0.95"/>
<circle cx="150.27" cy="95.25" r="1.4" fill="#7cff7c" stroke="#00d800" stroke-width="0.95"/>
<circle cx="153.21" cy="97.58" r="1.4" fill="#7cff7c" stroke="#00d800" stroke-width="0.95"/>
<circle cx="156.15" cy="99.84" r="1.4" fill="#7cff7c" stroke="#00d800" stroke-width="0.95"/>
<circle cx="159.09" cy="102.01" r="1.4" fill="#7cff7c" stroke="#00d800" stroke-width="0.95"/>
<circle cx="162.03" cy="104.05" r="1.4" fill="#7cff7c" stroke="#00d800" stroke-width="0.95"/>
<circle cx="164.97" cy="105.96" r="1.4" fill="#7cff7c" stroke="#00d800" stroke-width="0.95"/>
<circle cx="167.91" cy="107.75" r="1.4" fill="#7cff7c" stroke="#00d800" stroke-width="0.95"/>
<circle cx="170.85" cy="109.26" r="1.4" fill="#7cff7c" stroke="#00d800" stroke-width="0.95"/>
<circle cx="173.79" cy="106.58" r="1.4" fill="#7cff7c" stroke="#00d800" stroke-width="0.95"/>
<circle cx="176.73" cy="103.92" r="1.4" fill="#7cff7c" stroke="#00d800" stroke-width="0.95"/>
<circle cx="179.67" cy="101.29" r="1.4" fill="#7cff7c" stroke="#00d800" stroke-width="0.95"/>
<circle cx="182.61" cy="98.74" r="1.4" fill="#7cff7c" stroke="#00d800" stroke-width="0.95"/>
<circle cx="185.55" cy="96.32" r="1.4" fill="#7cff7c" stroke="#00d800" stroke-width="0.95"/>
<circle cx="188.48" cy="94.13" r="1.4" fill="#7cff7c" stroke="#00d800" stroke-width="0.95"/>
<circle cx="191.42" cy="92.27" r="1.4" fill="#8a8aff" stroke="#0000e8" stroke-width="0.95"/>
<circle cx="194.36" cy="90.74" r="1.4" fill="#8a8aff" stroke="#0000e8" stroke-width="0.95"/>
<circle cx="197.30" cy="89.49" r="1.4" fill="#8a8aff" stroke="#0000e8" stroke-width="0.95"/>
<circle cx="200.24" cy="88.42" r="1.4" fill="#8a8aff" stroke="#0000e8" stroke-width="0.95"/>
<circle cx="203.18" cy="87.46" r="1.4" fill="#8a8aff" stroke="#0000e8" stroke-width="0.95"/>
<circle cx="206.12" cy="86.60" r="1.4" fill="#8a8aff" stroke="#0000e8" stroke-width="0.95"/>
<circle cx="209.06" cy="85.78" r="1.4" fill="#8a8aff" stroke="#0000e8" stroke-width="0.95"/>
<circle cx="212.00" cy="85.00" r="1.4" fill="#8a8aff" stroke="#0000e8" stroke-width="0.95"/>
<text x="18" y="182.5" font-size="8.5" font-weight="normal" font-style="normal" text-anchor="start" fill="#000" >M</text>
<text x="89.3" y="182.5" font-size="8.5" font-weight="normal" font-style="normal" text-anchor="start" fill="#000" >Γ</text>
<text x="170.7" y="182.5" font-size="8.5" font-weight="normal" font-style="normal" text-anchor="start" fill="#000" >K</text>
<text x="206.6" y="182.5" font-size="8.5" font-weight="normal" font-style="normal" text-anchor="start" fill="#000" >M</text>
<text transform="translate(8.4,97.3) rotate(-90)" font-size="7.25" font-weight="bold" text-anchor="middle">Energy(eV)</text>
<rect x="233.6" y="18.15" width="194.4" height="154.6" stroke="#000" stroke-width="1.25" fill="none"/>
<line x1="233.6" y1="35.50" x2="236.6" y2="35.50" stroke="#000" stroke-width="1.1"/>
<line x1="233.6" y1="52.75" x2="236.6" y2="52.75" stroke="#000" stroke-width="1.1"/>
<line x1="233.6" y1="70.00" x2="236.6" y2="70.00" stroke="#000" stroke-width="1.1"/>
<line x1="233.6" y1="87.25" x2="236.6" y2="87.25" stroke="#000" stroke-width="1.1"/>
<line x1="233.6" y1="104.50" x2="236.6" y2="104.50" stroke="#000" stroke-width="1.1"/>
<line x1="233.6" y1="121.75" x2="236.6" y2="121.75" stroke="#000" stroke-width="1.1"/>
<line x1="233.6" y1="139.00" x2="236.6" y2="139.00" stroke="#000" stroke-width="1.1"/>
<line x1="233.6" y1="156.25" x2="236.6" y2="156.25" stroke="#000" stroke-width="1.1"/>
<line x1="233.6" y1="173.50" x2="236.6" y2="173.50" stroke="#000" stroke-width="1.1"/>
<text x="230.5" y="38.0" font-size="7.4" font-weight="bold" font-style="normal" text-anchor="end" fill="#000" textLength="11.4" lengthAdjust="spacingAndGlyphs">-1.4</text>
<text x="230.5" y="72.50000000000003" font-size="7.4" font-weight="bold" font-style="normal" text-anchor="end" fill="#000" textLength="11.4" lengthAdjust="spacingAndGlyphs">-1.6</text>
<text x="230.5" y="107.00000000000003" font-size="7.4" font-weight="bold" font-style="normal" text-anchor="end" fill="#000" textLength="11.4" lengthAdjust="spacingAndGlyphs">-1.8</text>
<text x="230.5" y="141.5" font-size="7.4" font-weight="bold" font-style="normal" text-anchor="end" fill="#000" textLength="11.4" lengthAdjust="spacingAndGlyphs">-2.0</text>
<text x="230.5" y="176.00000000000006" font-size="7.4" font-weight="bold" font-style="normal" text-anchor="end" fill="#000" textLength="11.4" lengthAdjust="spacingAndGlyphs">-2.2</text>
<text x="240.5" y="28" font-size="8.2" font-weight="bold" font-style="normal" text-anchor="start" fill="#000" >TB</text>
<text x="241.8" y="57.2" font-size="8.6" font-weight="normal" font-style="normal" text-anchor="start" fill="#000" >VBM</text>
<text x="300.8" y="62" font-size="12.5" fill="#000">(<tspan font-style="italic">p</tspan><tspan font-size="8" dy="2.5" font-style="italic">x</tspan><tspan dy="-2.5">, </tspan><tspan font-style="italic">p</tspan><tspan font-size="8" dy="2.5" font-style="italic">y</tspan><tspan dy="-2.5">)</tspan></text>
<text x="313.6" y="87.5" font-size="12.5" font-style="italic" fill="#000">p<tspan font-size="8" dy="2.5">z</tspan></text>
<path d="M234.00,83.40L234.50,83.35L235.00,83.31L235.50,83.26L236.00,83.22L236.50,83.17L237.00,83.13L237.50,83.08L238.00,83.03L238.50,82.99L239.00,82.94L239.50,82.89L240.00,82.84L240.50,82.80L241.00,82.75L241.50,82.70L242.00,82.65L242.50,82.60L243.00,82.55L243.50,82.50L244.00,82.44L244.50,82.39L245.00,82.34L245.50,82.28L246.00,82.23L246.50,82.17L247.00,82.11L247.50,82.06L248.00,82.00L248.50,81.94L249.00,81.88L249.50,81.81L250.00,81.75L250.50,81.69L251.00,81.62L251.50,81.56L252.00,81.49L252.50,81.42L253.00,81.35L253.50,81.28L254.00,81.20L254.50,81.13L255.00,81.05L255.50,80.97L256.00,80.89L256.50,80.81L257.00,80.73L257.50,80.65L258.00,80.56L258.50,80.47L259.00,80.38L259.50,80.29L260.00,80.20L260.50,80.11L261.00,80.01L261.50,79.91L262.00,79.81L262.50,79.71L263.00,79.61L263.50,79.50L264.00,79.40L264.50,79.29L265.00,79.18L265.50,79.07L266.00,78.96L266.50,78.85L267.00,78.73L267.50,78.62L268.00,78.51L268.50,78.39L269.00,78.27L269.50,78.16L270.00,78.04L270.50,77.92L271.00,77.80L271.50,77.69L272.00,77.57L272.50,77.45L273.00,77.33L273.50,77.21L274.00,77.09L274.50,76.97L275.00,76.85L275.50,76.73L276.00,76.61L276.50,76.49L277.00,76.37L277.50,76.25L278.00,76.14L278.50,76.02L279.00,75.90L279.50,75.79L280.00,75.67L280.50,75.56L281.00,75.44L281.50,75.33L282.00,75.22L282.50,75.11L283.00,75.00L283.50,74.89L284.00,74.79L284.50,74.68L285.00,74.58L285.50,74.47L286.00,74.37L286.50,74.27L287.00,74.17L287.50,74.07L288.00,73.97L288.50,73.88L289.00,73.78L289.50,73.69L290.00,73.60L290.50,73.51L291.00,73.42L291.50,73.33L292.00,73.24L292.50,73.15L293.00,73.07L293.50,72.98L294.00,72.90L294.50,72.82L295.00,72.74L295.50,72.66L296.00,72.58L296.50,72.51L297.00,72.43L297.50,72.36L298.00,72.28L298.50,72.21L299.00,72.14L299.50,72.07L300.00,72.00L300.50,71.93L301.00,71.87L301.50,71.80L302.00,71.74L302.50,71.68L303.00,71.62L303.50,71.56L304.00,71.50L304.50,71.45L305.00,71.40L305.50,71.35L306.00,71.30L306.50,71.25L307.00,71.21L307.50,71.17L308.00,71.14L308.50,71.10L309.00,71.07L309.50,71.05L310.00,71.02L310.50,71.00L311.00,70.99L311.50,70.97L312.00,70.97L312.50,70.96L313.00,70.96L313.50,70.96L314.00,70.97L314.50,70.98L315.00,71.00L315.50,71.02L316.00,71.05L316.50,71.08L317.00,71.11L317.50,71.15L318.00,71.20L318.50,71.25L319.00,71.30L319.50,71.36L320.00,71.42L320.50,71.49L321.00,71.56L321.50,71.63L322.00,71.71L322.50,71.80L323.00,71.89L323.50,71.98L324.00,72.08L324.50,72.18L325.00,72.29L325.50,72.40L326.00,72.52L326.50,72.64L327.00,72.76L327.50,72.89L328.00,73.02L328.50,73.16L329.00,73.30L329.50,73.45L330.00,73.60L330.50,73.75L331.00,73.91L331.50,74.08L332.00,74.24L332.50,74.41L333.00,74.58L333.50,74.76L334.00,74.94L334.50,75.12L335.00,75.30L335.50,75.49L336.00,75.67L336.50,75.86L337.00,76.05L337.50,76.24L338.00,76.43L338.50,76.62L339.00,76.82L339.50,77.01L340.00,77.20L340.50,77.39L341.00,77.58L341.50,77.77L342.00,77.96L342.50,78.15L343.00,78.34L343.50,78.53L344.00,78.71L344.50,78.90L345.00,79.08L345.50,79.26L346.00,79.44L346.50,79.62L347.00,79.80L347.50,79.97L348.00,80.14L348.50,80.31L349.00,80.48L349.50,80.64L350.00,80.80L350.50,80.96L351.00,81.11L351.50,81.26L352.00,81.41L352.50,81.56L353.00,81.71L353.50,81.85L354.00,81.99L354.50,82.12L355.00,82.26L355.50,82.39L356.00,82.52L356.50,82.65L357.00,82.78L357.50,82.90L358.00,83.02L358.50,83.15L359.00,83.27L359.50,83.38L360.00,83.50L360.50,83.62L361.00,83.73L361.50,83.84L362.00,83.95L362.50,84.06L363.00,84.17L363.50,84.28L364.00,84.38L364.50,84.48L365.00,84.58L365.50,84.68L366.00,84.78L366.50,84.88L367.00,84.97L367.50,85.07L368.00,85.16L368.50,85.25L369.00,85.33L369.50,85.42L370.00,85.50L370.50,85.58L371.00,85.66L371.50,85.74L372.00,85.81L372.50,85.88L373.00,85.96L373.50,86.02L374.00,86.09L374.50,86.16L375.00,86.22L375.50,86.28L376.00,86.34L376.50,86.39L377.00,86.44L377.50,86.50L378.00,86.55L378.50,86.59L379.00,86.64L379.50,86.68L380.00,86.72L380.50,86.76L381.00,86.79L381.50,86.82L382.00,86.86L382.50,86.88L383.00,86.91L383.50,86.93L384.00,86.95L384.50,86.97L385.00,86.99L385.50,87.00L386.00,87.01L386.50,87.02L387.00,87.03L387.50,87.03L388.00,87.04L388.50,87.04L389.00,87.03L389.50,87.03L390.00,87.02L390.50,87.01L391.00,87.00L391.50,86.99L392.00,86.98L392.50,86.97L393.00,86.95L393.50,86.93L394.00,86.91L394.50,86.89L395.00,86.87L395.50,86.85L396.00,86.82L396.50,86.80L397.00,86.77L397.50,86.75L398.00,86.72L398.50,86.69L399.00,86.66L399.50,86.63L400.00,86.60L400.50,86.57L401.00,86.54L401.50,86.51L402.00,86.47L402.50,86.44L403.00,86.41L403.50,86.37L404.00,86.34L404.50,86.30L405.00,86.27L405.50,86.23L406.00,86.19L406.50,86.15L407.00,86.12L407.50,86.08L408.00,86.04L408.50,86.00L409.00,85.95L409.50,85.91L410.00,85.87L410.50,85.83L411.00,85.78L411.50,85.74L412.00,85.69L412.50,85.64L413.00,85.60L413.50,85.55L414.00,85.50L414.50,85.45L415.00,85.40L415.50,85.35L416.00,85.30L416.50,85.24L417.00,85.19L417.50,85.14L418.00,85.08L418.50,85.03L419.00,84.97L419.50,84.91L420.00,84.86L420.50,84.80L421.00,84.74L421.50,84.68L422.00,84.62L422.50,84.56L423.00,84.51L423.50,84.45L424.00,84.39L424.50,84.33L425.00,84.27L425.50,84.20L426.00,84.14L426.50,84.08L427.00,84.02L427.50,83.96L428.00,83.90" stroke="#111" stroke-width="1.2" fill="none"/>
<path d="M234.00,88.00L234.50,87.96L235.00,87.92L235.50,87.89L236.00,87.85L236.50,87.81L237.00,87.77L237.50,87.73L238.01,87.69L238.51,87.65L239.01,87.61L239.51,87.56L240.01,87.52L240.51,87.48L241.01,87.43L241.51,87.38L242.01,87.34L242.51,87.29L243.01,87.24L243.51,87.19L244.01,87.13L244.51,87.08L245.01,87.02L245.52,86.96L246.02,86.91L246.52,86.84L247.02,86.78L247.52,86.71L248.02,86.65L248.52,86.58L249.02,86.51L249.52,86.43L250.02,86.35L250.52,86.27L251.02,86.19L251.52,86.11L252.02,86.02L252.52,85.93L253.02,85.84L253.53,85.74L254.03,85.64L254.53,85.54L255.03,85.44L255.53,85.33L256.03,85.22L256.53,85.10L257.03,84.98L257.53,84.86L258.03,84.73L258.53,84.60L259.03,84.47L259.53,84.33L260.03,84.19L260.53,84.04L261.04,83.90L261.54,83.74L262.04,83.59L262.54,83.43L263.04,83.26L263.54,83.10L264.04,82.93L264.54,82.75L265.04,82.58L265.54,82.40L266.04,82.22L266.54,82.04L267.04,81.86L267.54,81.68L268.04,81.49L268.55,81.30L269.05,81.11L269.55,80.92L270.05,80.73L270.55,80.54L271.05,80.35L271.55,80.15L272.05,79.96L272.55,79.77L273.05,79.57L273.55,79.38L274.05,79.19L274.55,79.00L275.05,78.81L275.55,78.62L276.06,78.43L276.56,78.24L277.06,78.05L277.56,77.87L278.06,77.68L278.56,77.50L279.06,77.32L279.56,77.15L280.06,76.97L280.56,76.80L281.06,76.63L281.56,76.46L282.06,76.30L282.56,76.14L283.06,75.98L283.56,75.83L284.07,75.68L284.57,75.53L285.07,75.39L285.57,75.24L286.07,75.11L286.57,74.97L287.07,74.84L287.57,74.71L288.07,74.59L288.57,74.47L289.07,74.35L289.57,74.23L290.07,74.12L290.57,74.00L291.07,73.89L291.58,73.79L292.08,73.68L292.58,73.58L293.08,73.48L293.58,73.38L294.08,73.29L294.58,73.20L295.08,73.10L295.58,73.01L296.08,72.93L296.58,72.84L297.08,72.76L297.58,72.68L298.08,72.59L298.58,72.52L299.09,72.44L299.59,72.36L300.09,72.29L300.59,72.21L301.09,72.14L301.59,72.07L302.09,72.00L302.59,71.94L303.09,71.87L303.59,71.81L304.09,71.75L304.59,71.69L305.09,71.63L305.59,71.58L306.09,71.53L306.60,71.48L307.10,71.43L307.60,71.39L308.10,71.35L308.60,71.32L309.10,71.28L309.60,71.26L310.10,71.23L310.60,71.21L311.10,71.19L311.60,71.18L312.10,71.17L312.60,71.16L313.10,71.16L313.60,71.17L314.10,71.17L314.61,71.19L315.11,71.20L315.61,71.23L316.11,71.25L316.61,71.29L317.11,71.32L317.61,71.37L318.11,71.41L318.61,71.47L319.11,71.52L319.61,71.59L320.11,71.65L320.61,71.72L321.11,71.80L321.61,71.88L322.12,71.97L322.62,72.06L323.12,72.16L323.62,72.26L324.12,72.37L324.62,72.48L325.12,72.60L325.62,72.72L326.12,72.85L326.62,72.98L327.12,73.12L327.62,73.26L328.12,73.40L328.62,73.56L329.12,73.71L329.63,73.88L330.13,74.04L330.63,74.21L331.13,74.39L331.63,74.57L332.13,74.76L332.63,74.95L333.13,75.15L333.63,75.35L334.13,75.55L334.63,75.76L335.13,75.97L335.63,76.18L336.13,76.40L336.63,76.62L337.14,76.85L337.64,77.08L338.14,77.31L338.64,77.55L339.14,77.78L339.64,78.02L340.14,78.27L340.64,78.51L341.14,78.76L341.64,79.01L342.14,79.27L342.64,79.53L343.14,79.79L343.64,80.06L344.14,80.33L344.64,80.61L345.15,80.90L345.65,81.19L346.15,81.48L346.65,81.78L347.15,82.09L347.65,82.41L348.15,82.73L348.65,83.06L349.15,83.40L349.65,83.75L350.15,84.11L350.65,84.48L351.15,84.85L351.65,85.23L352.15,85.62L352.66,86.02L353.16,86.42L353.66,86.84L354.16,87.25L354.66,87.68L355.16,88.11L355.66,88.54L356.16,88.99L356.66,89.43L357.16,89.88L357.66,90.34L358.16,90.79L358.66,91.25L359.16,91.72L359.66,92.19L360.17,92.66L360.67,93.13L361.17,93.60L361.67,94.07L362.17,94.55L362.67,95.03L363.17,95.50L363.67,95.98L364.17,96.45L364.67,96.93L365.17,97.40L365.67,97.87L366.17,98.34L366.67,98.80L367.17,99.26L367.68,99.72L368.18,100.18L368.68,100.63L369.18,101.08L369.68,101.52L370.18,101.95L370.68,102.39L371.18,102.81L371.68,103.23L372.18,103.65L372.68,104.06L373.18,104.47L373.68,104.88L374.18,105.29L374.68,105.69L375.18,106.10L375.69,106.50L376.19,106.90L376.69,107.30L377.19,107.70L377.69,108.11L378.19,108.51L378.69,108.92L379.19,109.33L379.69,109.74L380.19,110.16L380.69,110.58L381.19,111.00L381.69,111.43L382.19,111.86L382.69,112.29L383.20,112.72L383.70,113.16L384.20,113.60L384.70,114.04L385.20,114.48L385.70,114.92L386.20,115.36L386.70,115.80L386.70,115.80L387.20,115.28L387.71,114.77L388.21,114.25L388.71,113.73L389.22,113.22L389.72,112.71L390.23,112.19L390.73,111.69L391.23,111.18L391.74,110.67L392.24,110.17L392.74,109.67L393.25,109.18L393.75,108.69L394.25,108.20L394.76,107.71L395.26,107.23L395.77,106.76L396.27,106.29L396.77,105.83L397.28,105.37L397.78,104.92L398.28,104.47L398.79,104.03L399.29,103.60L399.80,103.17L400.30,102.75L400.80,102.34L401.31,101.94L401.81,101.54L402.31,101.15L402.82,100.77L403.32,100.39L403.82,100.02L404.33,99.66L404.83,99.31L405.34,98.96L405.84,98.62L406.34,98.28L406.85,97.96L407.35,97.63L407.85,97.32L408.36,97.01L408.86,96.71L409.36,96.41L409.87,96.12L410.37,95.84L410.88,95.56L411.38,95.29L411.88,95.02L412.39,94.76L412.89,94.51L413.39,94.26L413.90,94.01L414.40,93.78L414.90,93.54L415.41,93.32L415.91,93.09L416.42,92.88L416.92,92.67L417.42,92.46L417.93,92.26L418.43,92.06L418.93,91.86L419.44,91.67L419.94,91.48L420.45,91.30L420.95,91.12L421.45,90.94L421.96,90.77L422.46,90.59L422.96,90.42L423.47,90.26L423.97,90.09L424.47,89.92L424.98,89.76L425.48,89.60L425.99,89.44L426.49,89.28L426.99,89.12L427.50,88.96L428.00,88.80" stroke="#111" stroke-width="1.2" fill="none"/>
<path d="M234.00,136.40L234.50,136.25L235.00,136.11L235.50,135.96L236.00,135.81L236.50,135.66L237.00,135.51L237.50,135.35L238.01,135.19L238.51,135.03L239.01,134.87L239.51,134.70L240.01,134.53L240.51,134.35L241.01,134.17L241.51,133.98L242.01,133.78L242.51,133.58L243.01,133.37L243.51,133.15L244.01,132.93L244.51,132.70L245.01,132.46L245.52,132.21L246.02,131.95L246.52,131.68L247.02,131.40L247.52,131.11L248.02,130.81L248.52,130.50L249.02,130.17L249.52,129.83L250.02,129.49L250.52,129.12L251.02,128.75L251.52,128.36L252.02,127.96L252.52,127.55L253.02,127.13L253.53,126.70L254.03,126.25L254.53,125.80L255.03,125.33L255.53,124.86L256.03,124.38L256.53,123.89L257.03,123.39L257.53,122.88L258.03,122.36L258.53,121.84L259.03,121.31L259.53,120.77L260.03,120.23L260.53,119.68L261.04,119.13L261.54,118.57L262.04,118.00L262.54,117.43L263.04,116.86L263.54,116.28L264.04,115.70L264.54,115.12L265.04,114.53L265.54,113.94L266.04,113.35L266.54,112.76L267.04,112.16L267.54,111.57L268.04,110.97L268.55,110.37L269.05,109.78L269.55,109.18L270.05,108.58L270.55,107.99L271.05,107.39L271.55,106.80L272.05,106.21L272.55,105.62L273.05,105.03L273.55,104.45L274.05,103.87L274.55,103.29L275.05,102.72L275.55,102.15L276.06,101.58L276.56,101.02L277.06,100.46L277.56,99.91L278.06,99.37L278.56,98.83L279.06,98.29L279.56,97.77L280.06,97.25L280.56,96.73L281.06,96.23L281.56,95.73L282.06,95.24L282.56,94.76L283.06,94.28L283.56,93.82L284.07,93.36L284.57,92.91L285.07,92.46L285.57,92.03L286.07,91.59L286.57,91.17L287.07,90.75L287.57,90.34L288.07,89.93L288.57,89.52L289.07,89.13L289.57,88.73L290.07,88.34L290.57,87.96L291.07,87.57L291.58,87.20L292.08,86.82L292.58,86.45L293.08,86.08L293.58,85.71L294.08,85.34L294.58,84.98L295.08,84.62L295.58,84.26L296.08,83.90L296.58,83.55L297.08,83.20L297.58,82.85L298.08,82.51L298.58,82.17L299.09,81.84L299.59,81.51L300.09,81.19L300.59,80.88L301.09,80.57L301.59,80.26L302.09,79.97L302.59,79.68L303.09,79.40L303.59,79.12L304.09,78.86L304.59,78.60L305.09,78.35L305.59,78.12L306.09,77.89L306.60,77.67L307.10,77.46L307.60,77.26L308.10,77.07L308.60,76.89L309.10,76.72L309.60,76.56L310.10,76.41L310.60,76.28L311.10,76.16L311.60,76.04L312.10,75.94L312.60,75.86L313.10,75.78L313.60,75.72L314.10,75.67L314.61,75.63L315.11,75.61L315.61,75.60L316.11,75.60L316.61,75.62L317.11,75.65L317.61,75.70L318.11,75.76L318.61,75.84L319.11,75.94L319.61,76.05L320.11,76.18L320.61,76.32L321.11,76.49L321.61,76.67L322.12,76.88L322.62,77.10L323.12,77.35L323.62,77.61L324.12,77.90L324.62,78.20L325.12,78.53L325.62,78.89L326.12,79.26L326.62,79.66L327.12,80.08L327.62,80.52L328.12,80.98L328.62,81.46L329.12,81.96L329.63,82.47L330.13,83.00L330.63,83.55L331.13,84.11L331.63,84.69L332.13,85.28L332.63,85.88L333.13,86.50L333.63,87.13L334.13,87.76L334.63,88.41L335.13,89.07L335.63,89.73L336.13,90.41L336.63,91.08L337.14,91.77L337.64,92.46L338.14,93.16L338.64,93.86L339.14,94.57L339.64,95.27L340.14,95.98L340.64,96.70L341.14,97.41L341.64,98.12L342.14,98.84L342.64,99.55L343.14,100.26L343.64,100.97L344.14,101.68L344.64,102.38L345.15,103.08L345.65,103.77L346.15,104.46L346.65,105.14L347.15,105.82L347.65,106.48L348.15,107.14L348.65,107.79L349.15,108.44L349.65,109.07L350.15,109.69L350.65,110.30L351.15,110.89L351.65,111.48L352.15,112.06L352.66,112.62L353.16,113.17L353.66,113.71L354.16,114.24L354.66,114.75L355.16,115.26L355.66,115.75L356.16,116.23L356.66,116.70L357.16,117.15L357.66,117.60L358.16,118.03L358.66,118.45L359.16,118.85L359.66,119.24L360.17,119.62L360.67,119.99L361.17,120.34L361.67,120.68L362.17,121.01L362.67,121.32L363.17,121.62L363.67,121.90L364.17,122.16L364.67,122.41L365.17,122.65L365.67,122.86L366.17,123.06L366.67,123.24L367.17,123.40L367.68,123.55L368.18,123.67L368.68,123.78L369.18,123.87L369.68,123.93L370.18,123.98L370.68,124.01L371.18,124.01L371.68,124.00L372.18,123.96L372.68,123.90L373.18,123.83L373.68,123.73L374.18,123.62L374.68,123.49L375.18,123.34L375.69,123.17L376.19,122.98L376.69,122.77L377.19,122.55L377.69,122.31L378.19,122.06L378.69,121.79L379.19,121.50L379.69,121.20L380.19,120.88L380.69,120.54L381.19,120.20L381.69,119.84L382.19,119.46L382.69,119.08L383.20,118.69L383.70,118.29L384.20,117.89L384.70,117.48L385.20,117.06L385.70,116.64L386.20,116.22L386.70,115.80L386.70,115.80L387.20,116.17L387.71,116.54L388.21,116.91L388.71,117.28L389.22,117.65L389.72,118.02L390.23,118.38L390.73,118.75L391.23,119.11L391.74,119.48L392.24,119.84L392.74,120.19L393.25,120.55L393.75,120.90L394.25,121.25L394.76,121.60L395.26,121.95L395.77,122.29L396.27,122.63L396.77,122.96L397.28,123.29L397.78,123.62L398.28,123.94L398.79,124.26L399.29,124.57L399.80,124.88L400.30,125.18L400.80,125.48L401.31,125.77L401.81,126.06L402.31,126.34L402.82,126.62L403.32,126.89L403.82,127.16L404.33,127.42L404.83,127.68L405.34,127.94L405.84,128.19L406.34,128.43L406.85,128.68L407.35,128.91L407.85,129.14L408.36,129.37L408.86,129.60L409.36,129.82L409.87,130.03L410.37,130.24L410.88,130.45L411.38,130.65L411.88,130.85L412.39,131.05L412.89,131.24L413.39,131.43L413.90,131.61L414.40,131.79L414.90,131.97L415.41,132.14L415.91,132.31L416.42,132.48L416.92,132.64L417.42,132.80L417.93,132.96L418.43,133.11L418.93,133.26L419.44,133.41L419.94,133.56L420.45,133.70L420.95,133.85L421.45,133.99L421.96,134.12L422.46,134.26L422.96,134.40L423.47,134.53L423.97,134.66L424.47,134.80L424.98,134.93L425.48,135.06L425.99,135.19L426.49,135.32L426.99,135.44L427.50,135.57L428.00,135.70" stroke="#3c3c3c" stroke-width="1.05" fill="none"/>
<text x="233.3" y="182.3" font-size="8.5" font-weight="normal" font-style="normal" text-anchor="start" fill="#000" >M</text>
<text x="315" y="182.3" font-size="8.5" font-weight="normal" font-style="normal" text-anchor="start" fill="#000" >Γ</text>
<text x="386.7" y="182.3" font-size="8.5" font-weight="normal" font-style="normal" text-anchor="start" fill="#000" >K</text>
<text x="422" y="182.3" font-size="8.5" font-weight="normal" font-style="normal" text-anchor="start" fill="#000" >M</text>
<clipPath id="latclip"><rect x="360" y="22.5" width="53" height="46.5"/></clipPath>
<g clip-path="url(#latclip)"><line x1="360" y1="23.2" x2="373.2" y2="30.7" stroke="#aaa" stroke-width="0.6"/><line x1="360" y1="38.2" x2="373.2" y2="30.7" stroke="#aaa" stroke-width="0.6"/><line x1="360" y1="38.2" x2="373.2" y2="45.7" stroke="#aaa" stroke-width="0.6"/><line x1="360" y1="53.2" x2="373.2" y2="45.7" stroke="#aaa" stroke-width="0.6"/><line x1="360" y1="53.2" x2="373.2" y2="60.7" stroke="#aaa" stroke-width="0.6"/><line x1="360" y1="68.2" x2="373.2" y2="60.7" stroke="#aaa" stroke-width="0.6"/><line x1="373.2" y1="30.7" x2="386.4" y2="23.2" stroke="#aaa" stroke-width="0.6"/><line x1="373.2" y1="30.7" x2="386.4" y2="38.2" stroke="#aaa" stroke-width="0.6"/><line x1="373.2" y1="45.7" x2="386.4" y2="38.2" stroke="#aaa" stroke-width="0.6"/><line x1="373.2" y1="45.7" x2="386.4" y2="53.2" stroke="#aaa" stroke-width="0.6"/><line x1="373.2" y1="60.7" x2="386.4" y2="53.2" stroke="#aaa" stroke-width="0.6"/><line x1="373.2" y1="60.7" x2="386.4" y2="68.2" stroke="#aaa" stroke-width="0.6"/><line x1="386.4" y1="23.2" x2="399.6" y2="30.7" stroke="#aaa" stroke-width="0.6"/><line x1="386.4" y1="38.2" x2="399.6" y2="30.7" stroke="#aaa" stroke-width="0.6"/><line x1="386.4" y1="38.2" x2="399.6" y2="45.7" stroke="#aaa" stroke-width="0.6"/><line x1="386.4" y1="53.2" x2="399.6" y2="45.7" stroke="#aaa" stroke-width="0.6"/><line x1="386.4" y1="53.2" x2="399.6" y2="60.7" stroke="#aaa" stroke-width="0.6"/><line x1="386.4" y1="68.2" x2="399.6" y2="60.7" stroke="#aaa" stroke-width="0.6"/><line x1="399.6" y1="30.7" x2="412.8" y2="23.2" stroke="#aaa" stroke-width="0.6"/><line x1="399.6" y1="30.7" x2="412.8" y2="38.2" stroke="#aaa" stroke-width="0.6"/><line x1="399.6" y1="45.7" x2="412.8" y2="38.2" stroke="#aaa" stroke-width="0.6"/><line x1="399.6" y1="45.7" x2="412.8" y2="53.2" stroke="#aaa" stroke-width="0.6"/><line x1="399.6" y1="60.7" x2="412.8" y2="53.2" stroke="#aaa" stroke-width="0.6"/><line x1="399.6" y1="60.7" x2="412.8" y2="68.2" stroke="#aaa" stroke-width="0.6"/><circle cx="360" cy="23.2" r="2.3" fill="#7a1de0"/><circle cx="360" cy="38.2" r="2.3" fill="#7a1de0"/><circle cx="360" cy="53.2" r="2.3" fill="#7a1de0"/><circle cx="360" cy="68.2" r="2.3" fill="#7a1de0"/><circle cx="373.2" cy="30.7" r="2.3" fill="#7a1de0"/><circle cx="373.2" cy="45.7" r="2.3" fill="#7a1de0"/><circle cx="373.2" cy="60.7" r="2.3" fill="#7a1de0"/><circle cx="386.4" cy="23.2" r="2.3" fill="#7a1de0"/><circle cx="386.4" cy="38.2" r="2.3" fill="#7a1de0"/><circle cx="386.4" cy="53.2" r="2.3" fill="#7a1de0"/><circle cx="386.4" cy="68.2" r="2.3" fill="#7a1de0"/><circle cx="399.6" cy="30.7" r="2.3" fill="#7a1de0"/><circle cx="399.6" cy="45.7" r="2.3" fill="#7a1de0"/><circle cx="399.6" cy="60.7" r="2.3" fill="#7a1de0"/><circle cx="412.8" cy="23.2" r="2.3" fill="#7a1de0"/><circle cx="412.8" cy="38.2" r="2.3" fill="#7a1de0"/><circle cx="412.8" cy="53.2" r="2.3" fill="#7a1de0"/><circle cx="412.8" cy="68.2" r="2.3" fill="#7a1de0"/></g>
<defs>
<radialGradient id="blu" cx="45%" cy="62%" r="65%"><stop offset="0" stop-color="#a0a0ff"/><stop offset="0.55" stop-color="#6262fa"/><stop offset="1" stop-color="#4444e4"/></radialGradient>
<radialGradient id="org" cx="45%" cy="60%" r="65%"><stop offset="0" stop-color="#f4a07c"/><stop offset="0.6" stop-color="#e8784e"/><stop offset="1" stop-color="#d8603a"/></radialGradient>
</defs>
<g transform="translate(308.4,142.6)">
<path d="M0,0 C-2.76,-3.60 -9.20,-8.40 -9.02,-16.32 C-8.74,-24.48 8.74,-24.48 9.02,-16.32 C9.20,-8.40 2.76,-3.60 0,0 Z" fill="url(#org)" transform="rotate(-67.5)"/>
<path d="M0,0 C-2.25,-2.62 -7.50,-6.12 -7.35,-11.90 C-7.12,-17.85 7.12,-17.85 7.35,-11.90 C7.50,-6.12 2.25,-2.62 0,0 Z" fill="url(#org)" transform="rotate(50)"/>
<path d="M0,0 C-2.40,-3.23 -8.00,-7.52 -7.84,-14.62 C-7.60,-21.93 7.60,-21.93 7.84,-14.62 C8.00,-7.52 2.40,-3.23 0,0 Z" fill="url(#org)" transform="rotate(178)"/>
<path d="M0,0 C-3.06,-3.82 -10.20,-8.92 -10.00,-17.34 C-9.69,-26.01 9.69,-26.01 10.00,-17.34 C10.20,-8.92 3.06,-3.82 0,0 Z" fill="url(#blu)" transform="rotate(-3)"/>
<path d="M0,0 C-3.24,-3.82 -10.80,-8.92 -10.58,-17.34 C-10.26,-26.01 10.26,-26.01 10.58,-17.34 C10.80,-8.92 3.24,-3.82 0,0 Z" fill="url(#blu)" transform="rotate(-130)"/>
<path d="M0,0 C-3.24,-3.75 -10.80,-8.75 -10.58,-17.00 C-10.26,-25.50 10.26,-25.50 10.58,-17.00 C10.80,-8.75 3.24,-3.75 0,0 Z" fill="url(#blu)" transform="rotate(107)"/>
<g stroke="#333" stroke-width="0.55" fill="#222">
<line x1="0" y1="0" x2="-0.5" y2="-11"/><path d="M-1.8,-10 L-0.6,-13.6 L0.9,-10 Z"/>
<line x1="0" y1="0" x2="-8.4" y2="5.6"/><path d="M-7.6,4 L-10.7,7 L-6.4,6.4 Z"/>
<line x1="0" y1="0" x2="7.4" y2="4.1"/><path d="M6.2,5.4 L9.4,5.6 L7.2,2.8 Z"/>
</g>
</g>
<text x="302" y="112" font-size="11" font-style="italic">p<tspan font-size="7" dy="2">z</tspan></text>
<text x="277" y="160" font-size="11" font-style="italic">p<tspan font-size="7" dy="2">x</tspan></text>
<text x="336" y="157" font-size="11" font-style="italic">p<tspan font-size="7" dy="2">y</tspan></text>
<rect x="18.2" y="207.8" width="195.4" height="155.2" stroke="#000" stroke-width="1.25" fill="none"/>
<line x1="18.2" y1="232.6" x2="20.8" y2="232.6" stroke="#000" stroke-width="1"/>
<line x1="18.2" y1="259.2" x2="20.8" y2="259.2" stroke="#000" stroke-width="1"/>
<line x1="18.2" y1="285.5" x2="20.8" y2="285.5" stroke="#000" stroke-width="1"/>
<line x1="18.2" y1="311.5" x2="20.8" y2="311.5" stroke="#000" stroke-width="1"/>
<line x1="18.2" y1="337.5" x2="20.8" y2="337.5" stroke="#000" stroke-width="1"/>
<text x="22" y="219.3" font-size="8.4" font-weight="bold" font-style="normal" text-anchor="start" fill="#000" >DFT SOC</text>
<text x="35.5" y="239.5" font-size="8.6" font-weight="normal" font-style="normal" text-anchor="start" fill="#000" >VBM</text>
<text transform="translate(8.4,284.6) rotate(-90)" font-size="7.25" font-weight="bold" text-anchor="middle">Energy(eV)</text>
<text x="18" y="372" font-size="8.5" font-weight="normal" font-style="normal" text-anchor="start" fill="#000" >M</text>
<text x="100" y="372" font-size="8.5" font-weight="normal" font-style="normal" text-anchor="start" fill="#000" >Γ</text>
<text x="172.4" y="372" font-size="8.5" font-weight="normal" font-style="normal" text-anchor="start" fill="#000" >K</text>
<text x="208" y="372" font-size="8.5" font-weight="normal" font-style="normal" text-anchor="start" fill="#000" >M</text>
<rect x="236.0" y="208.0" width="195.4" height="155.3" stroke="#000" stroke-width="1.25" fill="none"/>
<line x1="236.2" y1="225.50" x2="239.2" y2="225.50" stroke="#000" stroke-width="1.1"/>
<line x1="236.2" y1="242.78" x2="239.2" y2="242.78" stroke="#000" stroke-width="1.1"/>
<line x1="236.2" y1="260.06" x2="239.2" y2="260.06" stroke="#000" stroke-width="1.1"/>
<line x1="236.2" y1="277.34" x2="239.2" y2="277.34" stroke="#000" stroke-width="1.1"/>
<line x1="236.2" y1="294.62" x2="239.2" y2="294.62" stroke="#000" stroke-width="1.1"/>
<line x1="236.2" y1="311.90" x2="239.2" y2="311.90" stroke="#000" stroke-width="1.1"/>
<line x1="236.2" y1="329.18" x2="239.2" y2="329.18" stroke="#000" stroke-width="1.1"/>
<line x1="236.2" y1="346.46" x2="239.2" y2="346.46" stroke="#000" stroke-width="1.1"/>
<text x="232.9" y="228.0" font-size="7.4" font-weight="bold" font-style="normal" text-anchor="end" fill="#000" textLength="11.6" lengthAdjust="spacingAndGlyphs">-1.4</text>
<text x="232.9" y="262.56000000000006" font-size="7.4" font-weight="bold" font-style="normal" text-anchor="end" fill="#000" textLength="11.6" lengthAdjust="spacingAndGlyphs">-1.6</text>
<text x="232.9" y="297.12" font-size="7.4" font-weight="bold" font-style="normal" text-anchor="end" fill="#000" textLength="11.6" lengthAdjust="spacingAndGlyphs">-1.8</text>
<text x="232.9" y="331.68" font-size="7.4" font-weight="bold" font-style="normal" text-anchor="end" fill="#000" textLength="11.6" lengthAdjust="spacingAndGlyphs">-2.0</text>
<text x="232.9" y="366.24000000000007" font-size="7.4" font-weight="bold" font-style="normal" text-anchor="end" fill="#000" textLength="11.6" lengthAdjust="spacingAndGlyphs">-2.2</text>
<text x="243.6" y="220" font-size="8.4" font-weight="bold" font-style="normal" text-anchor="start" fill="#000" >TB SOC</text>
<text x="245" y="239.3" font-size="8.6" font-weight="normal" font-style="normal" text-anchor="start" fill="#000" >VBM</text>
<text x="309.5" y="235" font-size="8.2" font-weight="bold">Z<tspan font-size="5.5" dy="1.8">2</tspan><tspan dy="-1.8">=1</tspan></text>
<text x="309.5" y="259.8" font-size="8.2" font-weight="bold">Z<tspan font-size="5.5" dy="1.8">2</tspan><tspan dy="-1.8">=0</tspan></text>
<text x="309.5" y="301" font-size="8.2" font-weight="bold">Z<tspan font-size="5.5" dy="1.8">2</tspan><tspan dy="-1.8">=1</tspan></text>
<text x="236.2" y="372" font-size="8.5" font-weight="normal" font-style="normal" text-anchor="start" fill="#000" >M</text>
<text x="319.5" y="372" font-size="8.5" font-weight="normal" font-style="normal" text-anchor="start" fill="#000" >Γ</text>
<text x="389.5" y="372" font-size="8.5" font-weight="normal" font-style="normal" text-anchor="start" fill="#000" >K</text>
<text x="424.8" y="372" font-size="8.5" font-weight="normal" font-style="normal" text-anchor="start" fill="#000" >M</text>
<rect x="469.9" y="208.3" width="77.7" height="154.9" stroke="#000" stroke-width="1.25" fill="none"/>
<line x1="469.9" y1="208.20" x2="472.3" y2="208.20" stroke="#000" stroke-width="0.9"/>
<line x1="469.9" y1="221.15" x2="472.3" y2="221.15" stroke="#000" stroke-width="0.9"/>
<line x1="469.9" y1="234.10" x2="472.3" y2="234.10" stroke="#000" stroke-width="0.9"/>
<line x1="469.9" y1="247.05" x2="472.3" y2="247.05" stroke="#000" stroke-width="0.9"/>
<line x1="469.9" y1="260.00" x2="472.3" y2="260.00" stroke="#000" stroke-width="0.9"/>
<line x1="469.9" y1="272.95" x2="472.3" y2="272.95" stroke="#000" stroke-width="0.9"/>
<line x1="469.9" y1="285.90" x2="472.3" y2="285.90" stroke="#000" stroke-width="0.9"/>
<line x1="469.9" y1="298.85" x2="472.3" y2="298.85" stroke="#000" stroke-width="0.9"/>
<line x1="469.9" y1="311.80" x2="472.3" y2="311.80" stroke="#000" stroke-width="0.9"/>
<line x1="469.9" y1="324.75" x2="472.3" y2="324.75" stroke="#000" stroke-width="0.9"/>
<line x1="469.9" y1="337.70" x2="472.3" y2="337.70" stroke="#000" stroke-width="0.9"/>
<line x1="469.9" y1="350.65" x2="472.3" y2="350.65" stroke="#000" stroke-width="0.9"/>
<line x1="469.9" y1="363.60" x2="472.3" y2="363.60" stroke="#000" stroke-width="0.9"/>
<text x="466" y="210.7" font-size="7.4" font-weight="bold" font-style="normal" text-anchor="end" fill="#000" textLength="11.0" lengthAdjust="spacingAndGlyphs">-1.4</text>
<text x="466" y="236.60000000000002" font-size="7.4" font-weight="bold" font-style="normal" text-anchor="end" fill="#000" textLength="11.0" lengthAdjust="spacingAndGlyphs">-1.5</text>
<text x="466" y="262.5" font-size="7.4" font-weight="bold" font-style="normal" text-anchor="end" fill="#000" textLength="11.0" lengthAdjust="spacingAndGlyphs">-1.6</text>
<text x="466" y="288.4" font-size="7.4" font-weight="bold" font-style="normal" text-anchor="end" fill="#000" textLength="11.0" lengthAdjust="spacingAndGlyphs">-1.7</text>
<text x="466" y="314.29999999999995" font-size="7.4" font-weight="bold" font-style="normal" text-anchor="end" fill="#000" textLength="11.0" lengthAdjust="spacingAndGlyphs">-1.8</text>
<text x="466" y="340.2" font-size="7.4" font-weight="bold" font-style="normal" text-anchor="end" fill="#000" textLength="11.0" lengthAdjust="spacingAndGlyphs">-1.9</text>
<text x="466" y="366.1" font-size="7.4" font-weight="bold" font-style="normal" text-anchor="end" fill="#000" textLength="11.0" lengthAdjust="spacingAndGlyphs">-2.0</text>
<text x="470.5" y="372.3" font-size="8.5" font-weight="normal" font-style="normal" text-anchor="start" fill="#000" >M</text>
<path d="M18.50,268.30L19.00,268.15L19.50,268.01L20.00,267.86L20.50,267.72L21.00,267.57L21.50,267.42L22.01,267.28L22.51,267.13L23.01,266.98L23.51,266.83L24.01,266.68L24.51,266.53L25.01,266.38L25.51,266.22L26.01,266.07L26.51,265.91L27.01,265.75L27.51,265.59L28.01,265.43L28.52,265.26L29.02,265.10L29.52,264.93L30.02,264.76L30.52,264.59L31.02,264.41L31.52,264.23L32.02,264.05L32.52,263.87L33.02,263.69L33.52,263.50L34.02,263.31L34.52,263.11L35.03,262.92L35.53,262.72L36.03,262.51L36.53,262.31L37.03,262.09L37.53,261.88L38.03,261.66L38.53,261.44L39.03,261.22L39.53,261.00L40.03,260.77L40.53,260.54L41.03,260.32L41.54,260.08L42.04,259.85L42.54,259.62L43.04,259.39L43.54,259.15L44.04,258.92L44.54,258.68L45.04,258.45L45.54,258.22L46.04,257.98L46.54,257.75L47.04,257.52L47.54,257.29L48.05,257.06L48.55,256.84L49.05,256.61L49.55,256.39L50.05,256.17L50.55,255.96L51.05,255.74L51.55,255.53L52.05,255.33L52.55,255.12L53.05,254.92L53.55,254.73L54.05,254.54L54.56,254.35L55.06,254.17L55.56,253.99L56.06,253.82L56.56,253.66L57.06,253.50L57.56,253.34L58.06,253.19L58.56,253.05L59.06,252.92L59.56,252.79L60.06,252.66L60.56,252.54L61.07,252.43L61.57,252.33L62.07,252.23L62.57,252.13L63.07,252.04L63.57,251.96L64.07,251.88L64.57,251.81L65.07,251.75L65.57,251.69L66.07,251.63L66.57,251.58L67.07,251.54L67.58,251.50L68.08,251.46L68.58,251.43L69.08,251.41L69.58,251.39L70.08,251.38L70.58,251.37L71.08,251.37L71.58,251.37L72.08,251.38L72.58,251.39L73.08,251.40L73.58,251.42L74.09,251.45L74.59,251.48L75.09,251.52L75.59,251.56L76.09,251.60L76.59,251.65L77.09,251.71L77.59,251.77L78.09,251.84L78.59,251.91L79.09,251.99L79.59,252.07L80.09,252.16L80.60,252.26L81.10,252.36L81.60,252.47L82.10,252.58L82.60,252.70L83.10,252.83L83.60,252.96L84.10,253.10L84.60,253.25L85.10,253.40L85.60,253.56L86.10,253.72L86.60,253.90L87.11,254.07L87.61,254.26L88.11,254.45L88.61,254.65L89.11,254.86L89.61,255.08L90.11,255.30L90.61,255.53L91.11,255.76L91.61,256.00L92.11,256.24L92.61,256.49L93.11,256.74L93.62,257.00L94.12,257.25L94.62,257.51L95.12,257.77L95.62,258.04L96.12,258.30L96.62,258.56L97.12,258.82L97.62,259.09L98.12,259.35L98.62,259.60L99.12,259.86L99.62,260.11L100.13,260.36L100.63,260.61L101.13,260.85L101.63,261.09L102.13,261.32L102.63,261.55L103.13,261.77L103.63,262.00L104.13,262.21L104.63,262.43L105.13,262.64L105.63,262.85L106.13,263.05L106.64,263.25L107.14,263.45L107.64,263.64L108.14,263.83L108.64,264.01L109.14,264.19L109.64,264.37L110.14,264.55L110.64,264.72L111.14,264.89L111.64,265.06L112.14,265.22L112.64,265.38L113.15,265.54L113.65,265.69L114.15,265.85L114.65,266.00L115.15,266.15L115.65,266.30L116.15,266.44L116.65,266.59L117.15,266.73L117.65,266.88L118.15,267.02L118.65,267.16L119.15,267.31L119.66,267.45L120.16,267.59L120.66,267.73L121.16,267.88L121.66,268.02L122.16,268.16L122.66,268.31L123.16,268.45L123.66,268.60L124.16,268.75L124.66,268.90L125.16,269.05L125.66,269.20L126.17,269.36L126.67,269.51L127.17,269.67L127.67,269.83L128.17,269.99L128.67,270.15L129.17,270.31L129.67,270.47L130.17,270.63L130.67,270.79L131.17,270.95L131.67,271.11L132.17,271.27L132.68,271.43L133.18,271.58L133.68,271.74L134.18,271.89L134.68,272.05L135.18,272.20L135.68,272.34L136.18,272.49L136.68,272.63L137.18,272.77L137.68,272.91L138.18,273.04L138.68,273.17L139.19,273.30L139.69,273.42L140.19,273.54L140.69,273.66L141.19,273.77L141.69,273.88L142.19,273.99L142.69,274.09L143.19,274.19L143.69,274.28L144.19,274.38L144.69,274.47L145.19,274.56L145.70,274.65L146.20,274.74L146.70,274.83L147.20,274.92L147.70,275.00L148.20,275.09L148.70,275.17L149.20,275.26L149.70,275.35L150.20,275.44L150.70,275.52L151.20,275.61L151.70,275.70L152.21,275.79L152.71,275.88L153.21,275.96L153.71,276.05L154.21,276.13L154.71,276.21L155.21,276.28L155.71,276.36L156.21,276.43L156.71,276.49L157.21,276.56L157.71,276.61L158.21,276.66L158.72,276.71L159.22,276.75L159.72,276.78L160.22,276.81L160.72,276.83L161.22,276.84L161.72,276.85L162.22,276.85L162.72,276.84L163.22,276.83L163.72,276.81L164.22,276.78L164.72,276.75L165.23,276.71L165.73,276.67L166.23,276.62L166.73,276.57L167.23,276.50L167.73,276.44L168.23,276.37L168.73,276.29L169.23,276.21L169.73,276.12L170.23,276.03L170.73,275.93L171.23,275.83L171.74,275.72L172.24,275.61L172.74,275.50L173.24,275.38L173.74,275.26L174.24,275.13L174.74,275.00L175.24,274.87L175.74,274.73L176.24,274.60L176.74,274.46L177.24,274.31L177.74,274.17L178.25,274.03L178.75,273.88L179.25,273.74L179.75,273.59L180.25,273.44L180.75,273.30L181.25,273.15L181.75,273.00L182.25,272.86L182.75,272.72L183.25,272.58L183.75,272.44L184.25,272.30L184.76,272.16L185.26,272.03L185.76,271.90L186.26,271.78L186.76,271.65L187.26,271.53L187.76,271.42L188.26,271.30L188.76,271.19L189.26,271.08L189.76,270.97L190.26,270.87L190.76,270.77L191.27,270.67L191.77,270.58L192.27,270.48L192.77,270.39L193.27,270.31L193.77,270.22L194.27,270.14L194.77,270.06L195.27,269.99L195.77,269.91L196.27,269.84L196.77,269.77L197.27,269.71L197.78,269.65L198.28,269.59L198.78,269.53L199.28,269.47L199.78,269.42L200.28,269.37L200.78,269.33L201.28,269.28L201.78,269.24L202.28,269.20L202.78,269.16L203.28,269.13L203.78,269.09L204.29,269.06L204.79,269.03L205.29,269.00L205.79,268.98L206.29,268.95L206.79,268.93L207.29,268.91L207.79,268.89L208.29,268.87L208.79,268.85L209.29,268.83L209.79,268.81L210.29,268.80L210.80,268.78L211.30,268.77L211.80,268.75L212.30,268.74L212.80,268.73L213.30,268.71L213.80,268.70" stroke="#111" stroke-width="1.15" fill="none"/>
<path d="M18.50,268.30L19.00,268.40L19.50,268.49L20.00,268.59L20.50,268.69L21.00,268.78L21.50,268.88L22.01,268.97L22.51,269.06L23.01,269.15L23.51,269.24L24.01,269.33L24.51,269.41L25.01,269.50L25.51,269.58L26.01,269.65L26.51,269.73L27.01,269.80L27.51,269.87L28.01,269.94L28.52,270.00L29.02,270.06L29.52,270.11L30.02,270.16L30.52,270.21L31.02,270.25L31.52,270.29L32.02,270.33L32.52,270.35L33.02,270.38L33.52,270.40L34.02,270.41L34.52,270.42L35.03,270.42L35.53,270.42L36.03,270.41L36.53,270.39L37.03,270.37L37.53,270.34L38.03,270.31L38.53,270.27L39.03,270.22L39.53,270.17L40.03,270.11L40.53,270.05L41.03,269.98L41.54,269.91L42.04,269.83L42.54,269.75L43.04,269.66L43.54,269.57L44.04,269.47L44.54,269.37L45.04,269.26L45.54,269.15L46.04,269.03L46.54,268.91L47.04,268.79L47.54,268.66L48.05,268.53L48.55,268.39L49.05,268.25L49.55,268.11L50.05,267.97L50.55,267.82L51.05,267.67L51.55,267.52L52.05,267.37L52.55,267.21L53.05,267.05L53.55,266.90L54.05,266.74L54.56,266.58L55.06,266.43L55.56,266.27L56.06,266.11L56.56,265.95L57.06,265.80L57.56,265.64L58.06,265.49L58.56,265.34L59.06,265.19L59.56,265.04L60.06,264.89L60.56,264.74L61.07,264.60L61.57,264.45L62.07,264.30L62.57,264.16L63.07,264.01L63.57,263.87L64.07,263.72L64.57,263.58L65.07,263.43L65.57,263.29L66.07,263.14L66.57,263.00L67.07,262.85L67.58,262.70L68.08,262.55L68.58,262.40L69.08,262.25L69.58,262.09L70.08,261.94L70.58,261.78L71.08,261.62L71.58,261.46L72.08,261.30L72.58,261.13L73.08,260.97L73.58,260.80L74.09,260.62L74.59,260.45L75.09,260.27L75.59,260.09L76.09,259.90L76.59,259.72L77.09,259.53L77.59,259.34L78.09,259.15L78.59,258.95L79.09,258.76L79.59,258.56L80.09,258.36L80.60,258.16L81.10,257.97L81.60,257.77L82.10,257.57L82.60,257.37L83.10,257.17L83.60,256.98L84.10,256.78L84.60,256.59L85.10,256.39L85.60,256.20L86.10,256.01L86.60,255.83L87.11,255.64L87.61,255.46L88.11,255.28L88.61,255.10L89.11,254.93L89.61,254.76L90.11,254.60L90.61,254.44L91.11,254.28L91.61,254.13L92.11,253.98L92.61,253.83L93.11,253.70L93.62,253.56L94.12,253.43L94.62,253.31L95.12,253.19L95.62,253.08L96.12,252.97L96.62,252.87L97.12,252.78L97.62,252.69L98.12,252.61L98.62,252.53L99.12,252.46L99.62,252.40L100.13,252.34L100.63,252.29L101.13,252.25L101.63,252.21L102.13,252.18L102.63,252.15L103.13,252.13L103.63,252.11L104.13,252.10L104.63,252.10L105.13,252.10L105.63,252.11L106.13,252.12L106.64,252.14L107.14,252.16L107.64,252.19L108.14,252.22L108.64,252.26L109.14,252.30L109.64,252.34L110.14,252.39L110.64,252.44L111.14,252.50L111.64,252.56L112.14,252.62L112.64,252.68L113.15,252.74L113.65,252.81L114.15,252.88L114.65,252.95L115.15,253.02L115.65,253.09L116.15,253.17L116.65,253.25L117.15,253.32L117.65,253.41L118.15,253.49L118.65,253.58L119.15,253.67L119.66,253.76L120.16,253.86L120.66,253.96L121.16,254.07L121.66,254.19L122.16,254.31L122.66,254.43L123.16,254.56L123.66,254.70L124.16,254.84L124.66,254.99L125.16,255.15L125.66,255.32L126.17,255.49L126.67,255.67L127.17,255.86L127.67,256.06L128.17,256.26L128.67,256.46L129.17,256.67L129.67,256.89L130.17,257.11L130.67,257.34L131.17,257.57L131.67,257.81L132.17,258.05L132.68,258.29L133.18,258.54L133.68,258.79L134.18,259.04L134.68,259.30L135.18,259.56L135.68,259.82L136.18,260.08L136.68,260.34L137.18,260.60L137.68,260.87L138.18,261.14L138.68,261.40L139.19,261.67L139.69,261.93L140.19,262.20L140.69,262.46L141.19,262.73L141.69,262.99L142.19,263.25L142.69,263.51L143.19,263.78L143.69,264.03L144.19,264.29L144.69,264.55L145.19,264.81L145.70,265.06L146.20,265.32L146.70,265.57L147.20,265.82L147.70,266.07L148.20,266.31L148.70,266.56L149.20,266.81L149.70,267.05L150.20,267.29L150.70,267.53L151.20,267.77L151.70,268.00L152.21,268.24L152.71,268.47L153.21,268.70L153.71,268.92L154.21,269.15L154.71,269.37L155.21,269.59L155.71,269.81L156.21,270.03L156.71,270.24L157.21,270.45L157.71,270.66L158.21,270.87L158.72,271.07L159.22,271.27L159.72,271.47L160.22,271.67L160.72,271.86L161.22,272.05L161.72,272.24L162.22,272.43L162.72,272.61L163.22,272.79L163.72,272.97L164.22,273.14L164.72,273.32L165.23,273.49L165.73,273.66L166.23,273.82L166.73,273.98L167.23,274.14L167.73,274.30L168.23,274.45L168.73,274.60L169.23,274.75L169.73,274.90L170.23,275.04L170.73,275.18L171.23,275.32L171.74,275.45L172.24,275.58L172.74,275.71L173.24,275.84L173.74,275.96L174.24,276.07L174.74,276.18L175.24,276.29L175.74,276.39L176.24,276.48L176.74,276.57L177.24,276.64L177.74,276.71L178.25,276.77L178.75,276.82L179.25,276.86L179.75,276.89L180.25,276.90L180.75,276.91L181.25,276.90L181.75,276.88L182.25,276.85L182.75,276.80L183.25,276.75L183.75,276.68L184.25,276.60L184.76,276.52L185.26,276.42L185.76,276.32L186.26,276.21L186.76,276.09L187.26,275.96L187.76,275.83L188.26,275.70L188.76,275.56L189.26,275.42L189.76,275.27L190.26,275.12L190.76,274.97L191.27,274.82L191.77,274.66L192.27,274.51L192.77,274.35L193.27,274.19L193.77,274.03L194.27,273.88L194.77,273.72L195.27,273.56L195.77,273.40L196.27,273.24L196.77,273.08L197.27,272.93L197.78,272.77L198.28,272.62L198.78,272.46L199.28,272.31L199.78,272.16L200.28,272.02L200.78,271.88L201.28,271.73L201.78,271.60L202.28,271.46L202.78,271.32L203.28,271.19L203.78,271.06L204.29,270.93L204.79,270.80L205.29,270.68L205.79,270.55L206.29,270.43L206.79,270.31L207.29,270.19L207.79,270.07L208.29,269.95L208.79,269.84L209.29,269.72L209.79,269.60L210.29,269.49L210.80,269.38L211.30,269.26L211.80,269.15L212.30,269.04L212.80,268.92L213.30,268.81L213.80,268.70" stroke="#111" stroke-width="1.15" fill="none"/>
<path d="M18.50,288.80L19.00,288.75L19.50,288.69L20.00,288.64L20.50,288.58L21.00,288.53L21.51,288.47L22.01,288.42L22.51,288.36L23.01,288.30L23.51,288.24L24.01,288.18L24.51,288.12L25.01,288.06L25.51,287.99L26.01,287.93L26.52,287.86L27.02,287.79L27.52,287.72L28.02,287.65L28.52,287.58L29.02,287.50L29.52,287.42L30.02,287.34L30.52,287.26L31.02,287.18L31.53,287.09L32.03,287.00L32.53,286.90L33.03,286.81L33.53,286.71L34.03,286.61L34.53,286.50L35.03,286.39L35.53,286.28L36.03,286.16L36.54,286.04L37.04,285.92L37.54,285.79L38.04,285.66L38.54,285.53L39.04,285.39L39.54,285.25L40.04,285.11L40.54,284.96L41.04,284.81L41.54,284.66L42.05,284.50L42.55,284.35L43.05,284.19L43.55,284.02L44.05,283.86L44.55,283.69L45.05,283.52L45.55,283.35L46.05,283.17L46.55,282.99L47.06,282.82L47.56,282.64L48.06,282.45L48.56,282.27L49.06,282.08L49.56,281.89L50.06,281.71L50.56,281.52L51.06,281.32L51.56,281.13L52.07,280.94L52.57,280.74L53.07,280.55L53.57,280.35L54.07,280.15L54.57,279.95L55.07,279.75L55.57,279.55L56.07,279.35L56.57,279.15L57.08,278.95L57.58,278.75L58.08,278.55L58.58,278.35L59.08,278.15L59.58,277.94L60.08,277.74L60.58,277.54L61.08,277.35L61.58,277.15L62.09,276.95L62.59,276.76L63.09,276.56L63.59,276.37L64.09,276.18L64.59,275.99L65.09,275.80L65.59,275.62L66.09,275.44L66.59,275.26L67.09,275.08L67.60,274.91L68.10,274.74L68.60,274.57L69.10,274.41L69.60,274.25L70.10,274.09L70.60,273.94L71.10,273.79L71.60,273.65L72.10,273.51L72.61,273.38L73.11,273.25L73.61,273.12L74.11,273.00L74.61,272.89L75.11,272.78L75.61,272.67L76.11,272.57L76.61,272.48L77.11,272.39L77.62,272.31L78.12,272.23L78.62,272.16L79.12,272.09L79.62,272.03L80.12,271.97L80.62,271.92L81.12,271.87L81.62,271.82L82.12,271.78L82.63,271.75L83.13,271.71L83.63,271.68L84.13,271.66L84.63,271.64L85.13,271.62L85.63,271.61L86.13,271.60L86.63,271.59L87.13,271.58L87.63,271.58L88.14,271.59L88.64,271.59L89.14,271.60L89.64,271.61L90.14,271.62L90.64,271.64L91.14,271.66L91.64,271.68L92.14,271.71L92.64,271.74L93.15,271.77L93.65,271.80L94.15,271.84L94.65,271.89L95.15,271.93L95.65,271.98L96.15,272.04L96.65,272.10L97.15,272.16L97.65,272.23L98.16,272.30L98.66,272.37L99.16,272.45L99.66,272.54L100.16,272.63L100.66,272.72L101.16,272.82L101.66,272.93L102.16,273.03L102.66,273.14L103.17,273.26L103.67,273.38L104.17,273.50L104.67,273.63L105.17,273.75L105.67,273.88L106.17,274.02L106.67,274.15L107.17,274.29L107.67,274.43L108.17,274.57L108.68,274.72L109.18,274.86L109.68,275.01L110.18,275.15L110.68,275.30L111.18,275.45L111.68,275.60L112.18,275.75L112.68,275.90L113.18,276.05L113.69,276.21L114.19,276.37L114.69,276.52L115.19,276.69L115.69,276.85L116.19,277.01L116.69,277.18L117.19,277.35L117.69,277.52L118.19,277.70L118.70,277.87L119.20,278.05L119.70,278.24L120.20,278.43L120.70,278.62L121.20,278.81L121.70,279.01L122.20,279.21L122.70,279.41L123.20,279.62L123.71,279.83L124.21,280.05L124.71,280.27L125.21,280.49L125.71,280.72L126.21,280.96L126.71,281.20L127.21,281.44L127.71,281.68L128.21,281.93L128.71,282.18L129.22,282.44L129.72,282.70L130.22,282.96L130.72,283.23L131.22,283.50L131.72,283.77L132.22,284.04L132.72,284.32L133.22,284.59L133.72,284.87L134.23,285.16L134.73,285.44L135.23,285.73L135.73,286.01L136.23,286.30L136.73,286.59L137.23,286.88L137.73,287.17L138.23,287.47L138.73,287.76L139.24,288.05L139.74,288.35L140.24,288.64L140.74,288.93L141.24,289.23L141.74,289.52L142.24,289.82L142.74,290.11L143.24,290.41L143.74,290.70L144.25,291.00L144.75,291.30L145.25,291.59L145.75,291.89L146.25,292.19L146.75,292.49L147.25,292.78L147.75,293.08L148.25,293.38L148.75,293.68L149.26,293.99L149.76,294.29L150.26,294.59L150.76,294.89L151.26,295.20L151.76,295.50L152.26,295.81L152.76,296.12L153.26,296.42L153.76,296.73L154.26,297.04L154.77,297.35L155.27,297.67L155.77,297.98L156.27,298.29L156.77,298.61L157.27,298.92L157.77,299.24L158.27,299.56L158.77,299.88L159.27,300.20L159.78,300.52L160.28,300.84L160.78,301.16L161.28,301.48L161.78,301.81L162.28,302.13L162.78,302.46L163.28,302.78L163.78,303.11L164.28,303.43L164.79,303.76L165.29,304.09L165.79,304.41L166.29,304.74L166.79,305.07L167.29,305.40L167.79,305.73L168.29,306.06L168.79,306.39L169.29,306.72L169.80,307.05L170.30,307.38L170.80,307.71L171.30,308.04L171.80,308.37L172.30,308.70L172.30,308.70L172.80,308.36L173.31,308.03L173.81,307.69L174.31,307.36L174.82,307.02L175.32,306.69L175.83,306.35L176.33,306.02L176.83,305.68L177.34,305.35L177.84,305.01L178.34,304.67L178.85,304.34L179.35,304.00L179.85,303.66L180.36,303.32L180.86,302.99L181.37,302.65L181.87,302.31L182.37,301.97L182.88,301.63L183.38,301.29L183.88,300.95L184.39,300.61L184.89,300.27L185.40,299.93L185.90,299.59L186.40,299.25L186.91,298.91L187.41,298.57L187.91,298.23L188.42,297.90L188.92,297.56L189.42,297.23L189.93,296.90L190.43,296.57L190.94,296.25L191.44,295.93L191.94,295.61L192.45,295.30L192.95,294.99L193.45,294.69L193.96,294.40L194.46,294.11L194.96,293.82L195.47,293.54L195.97,293.27L196.48,293.01L196.98,292.76L197.48,292.51L197.99,292.27L198.49,292.04L198.99,291.81L199.50,291.60L200.00,291.40L200.50,291.21L201.01,291.02L201.51,290.85L202.02,290.68L202.52,290.53L203.02,290.38L203.53,290.24L204.03,290.11L204.53,289.98L205.04,289.86L205.54,289.75L206.05,289.64L206.55,289.54L207.05,289.44L207.56,289.35L208.06,289.27L208.56,289.18L209.07,289.10L209.57,289.03L210.07,288.96L210.58,288.89L211.08,288.82L211.59,288.75L212.09,288.69L212.59,288.62L213.10,288.56L213.60,288.50" stroke="#111" stroke-width="1.15" fill="none"/>
<path d="M18.50,288.80L19.00,288.79L19.50,288.78L20.00,288.76L20.50,288.75L21.00,288.74L21.51,288.73L22.01,288.72L22.51,288.71L23.01,288.70L23.51,288.69L24.01,288.68L24.51,288.67L25.01,288.66L25.51,288.65L26.01,288.64L26.52,288.63L27.02,288.62L27.52,288.62L28.02,288.61L28.52,288.60L29.02,288.60L29.52,288.59L30.02,288.59L30.52,288.58L31.02,288.58L31.53,288.58L32.03,288.58L32.53,288.58L33.03,288.58L33.53,288.58L34.03,288.58L34.53,288.58L35.03,288.59L35.53,288.59L36.03,288.60L36.54,288.60L37.04,288.61L37.54,288.62L38.04,288.63L38.54,288.63L39.04,288.64L39.54,288.64L40.04,288.64L40.54,288.64L41.04,288.63L41.54,288.62L42.05,288.61L42.55,288.59L43.05,288.56L43.55,288.53L44.05,288.49L44.55,288.44L45.05,288.38L45.55,288.32L46.05,288.24L46.55,288.16L47.06,288.07L47.56,287.96L48.06,287.84L48.56,287.71L49.06,287.57L49.56,287.42L50.06,287.25L50.56,287.07L51.06,286.87L51.56,286.66L52.07,286.43L52.57,286.19L53.07,285.94L53.57,285.67L54.07,285.40L54.57,285.10L55.07,284.80L55.57,284.48L56.07,284.15L56.57,283.81L57.08,283.46L57.58,283.09L58.08,282.72L58.58,282.33L59.08,281.93L59.58,281.53L60.08,281.13L60.58,280.72L61.08,280.31L61.58,279.90L62.09,279.49L62.59,279.09L63.09,278.70L63.59,278.31L64.09,277.93L64.59,277.57L65.09,277.22L65.59,276.88L66.09,276.57L66.59,276.27L67.09,275.99L67.60,275.72L68.10,275.48L68.60,275.25L69.10,275.04L69.60,274.84L70.10,274.65L70.60,274.47L71.10,274.31L71.60,274.15L72.10,274.01L72.61,273.87L73.11,273.74L73.61,273.62L74.11,273.50L74.61,273.39L75.11,273.28L75.61,273.17L76.11,273.06L76.61,272.96L77.11,272.86L77.62,272.76L78.12,272.67L78.62,272.58L79.12,272.49L79.62,272.40L80.12,272.32L80.62,272.25L81.12,272.17L81.62,272.10L82.12,272.04L82.63,271.98L83.13,271.92L83.63,271.87L84.13,271.82L84.63,271.77L85.13,271.73L85.63,271.70L86.13,271.67L86.63,271.64L87.13,271.62L87.63,271.61L88.14,271.60L88.64,271.60L89.14,271.60L89.64,271.61L90.14,271.62L90.64,271.64L91.14,271.66L91.64,271.69L92.14,271.73L92.64,271.76L93.15,271.81L93.65,271.86L94.15,271.91L94.65,271.97L95.15,272.03L95.65,272.09L96.15,272.16L96.65,272.23L97.15,272.31L97.65,272.39L98.16,272.47L98.66,272.56L99.16,272.64L99.66,272.74L100.16,272.83L100.66,272.93L101.16,273.03L101.66,273.13L102.16,273.24L102.66,273.34L103.17,273.46L103.67,273.58L104.17,273.70L104.67,273.82L105.17,273.95L105.67,274.09L106.17,274.23L106.67,274.38L107.17,274.53L107.67,274.69L108.17,274.85L108.68,275.02L109.18,275.20L109.68,275.38L110.18,275.57L110.68,275.77L111.18,275.97L111.68,276.18L112.18,276.40L112.68,276.62L113.18,276.85L113.69,277.08L114.19,277.32L114.69,277.57L115.19,277.81L115.69,278.07L116.19,278.33L116.69,278.59L117.19,278.85L117.69,279.12L118.19,279.40L118.70,279.67L119.20,279.95L119.70,280.23L120.20,280.51L120.70,280.80L121.20,281.09L121.70,281.38L122.20,281.67L122.70,281.96L123.20,282.25L123.71,282.54L124.21,282.84L124.71,283.13L125.21,283.42L125.71,283.71L126.21,284.01L126.71,284.30L127.21,284.59L127.71,284.88L128.21,285.17L128.71,285.46L129.22,285.76L129.72,286.05L130.22,286.34L130.72,286.63L131.22,286.92L131.72,287.21L132.22,287.50L132.72,287.79L133.22,288.08L133.72,288.37L134.23,288.66L134.73,288.95L135.23,289.24L135.73,289.53L136.23,289.82L136.73,290.11L137.23,290.40L137.73,290.69L138.23,290.98L138.73,291.27L139.24,291.56L139.74,291.85L140.24,292.14L140.74,292.43L141.24,292.72L141.74,293.01L142.24,293.30L142.74,293.59L143.24,293.89L143.74,294.18L144.25,294.47L144.75,294.77L145.25,295.06L145.75,295.36L146.25,295.65L146.75,295.95L147.25,296.25L147.75,296.54L148.25,296.84L148.75,297.14L149.26,297.45L149.76,297.75L150.26,298.05L150.76,298.36L151.26,298.66L151.76,298.97L152.26,299.28L152.76,299.59L153.26,299.90L153.76,300.22L154.26,300.53L154.77,300.85L155.27,301.17L155.77,301.49L156.27,301.81L156.77,302.14L157.27,302.46L157.77,302.79L158.27,303.12L158.77,303.45L159.27,303.78L159.78,304.11L160.28,304.44L160.78,304.78L161.28,305.11L161.78,305.45L162.28,305.79L162.78,306.13L163.28,306.47L163.78,306.81L164.28,307.15L164.79,307.50L165.29,307.84L165.79,308.18L166.29,308.53L166.79,308.87L167.29,309.22L167.79,309.57L168.29,309.91L168.79,310.26L169.29,310.61L169.80,310.96L170.30,311.31L170.80,311.65L171.30,312.00L171.80,312.35L172.30,312.70L172.30,312.70L172.80,312.33L173.31,311.96L173.81,311.58L174.31,311.21L174.82,310.84L175.32,310.47L175.83,310.10L176.33,309.73L176.83,309.35L177.34,308.98L177.84,308.61L178.34,308.24L178.85,307.87L179.35,307.50L179.85,307.14L180.36,306.77L180.86,306.40L181.37,306.03L181.87,305.67L182.37,305.30L182.88,304.93L183.38,304.57L183.88,304.20L184.39,303.84L184.89,303.48L185.40,303.12L185.90,302.76L186.40,302.40L186.91,302.04L187.41,301.68L187.91,301.32L188.42,300.97L188.92,300.62L189.42,300.27L189.93,299.92L190.43,299.58L190.94,299.24L191.44,298.90L191.94,298.57L192.45,298.23L192.95,297.91L193.45,297.58L193.96,297.26L194.46,296.95L194.96,296.63L195.47,296.33L195.97,296.02L196.48,295.73L196.98,295.43L197.48,295.15L197.99,294.87L198.49,294.59L198.99,294.32L199.50,294.06L200.00,293.80L200.50,293.55L201.01,293.30L201.51,293.06L202.02,292.83L202.52,292.60L203.02,292.38L203.53,292.16L204.03,291.95L204.53,291.74L205.04,291.54L205.54,291.34L206.05,291.14L206.55,290.95L207.05,290.76L207.56,290.58L208.06,290.39L208.56,290.21L209.07,290.03L209.57,289.86L210.07,289.68L210.58,289.51L211.08,289.34L211.59,289.17L212.09,289.00L212.59,288.83L213.10,288.67L213.60,288.50" stroke="#111" stroke-width="1.15" fill="none"/>
<path d="M18.50,334.80L19.00,334.15L19.50,333.50L20.00,332.84L20.50,332.19L21.00,331.54L21.51,330.89L22.01,330.24L22.51,329.59L23.01,328.94L23.51,328.29L24.01,327.64L24.51,327.00L25.01,326.35L25.51,325.71L26.01,325.06L26.52,324.42L27.02,323.78L27.52,323.14L28.02,322.50L28.52,321.86L29.02,321.22L29.52,320.58L30.02,319.94L30.52,319.30L31.02,318.66L31.53,318.01L32.03,317.36L32.53,316.70L33.03,316.05L33.53,315.38L34.03,314.71L34.53,314.04L35.03,313.36L35.53,312.67L36.03,311.98L36.54,311.28L37.04,310.59L37.54,309.89L38.04,309.21L38.54,308.52L39.04,307.85L39.54,307.19L40.04,306.55L40.54,305.91L41.04,305.30L41.54,304.69L42.05,304.09L42.55,303.50L43.05,302.91L43.55,302.32L44.05,301.73L44.55,301.14L45.05,300.54L45.55,299.93L46.05,299.32L46.55,298.71L47.06,298.09L47.56,297.48L48.06,296.88L48.56,296.28L49.06,295.70L49.56,295.13L50.06,294.58L50.56,294.05L51.06,293.54L51.56,293.05L52.07,292.59L52.57,292.16L53.07,291.74L53.57,291.35L54.07,290.99L54.57,290.64L55.07,290.31L55.57,290.01L56.07,289.72L56.57,289.46L57.08,289.21L57.58,288.98L58.08,288.76L58.58,288.56L59.08,288.38L59.58,288.21L60.08,288.05L60.58,287.90L61.08,287.76L61.58,287.63L62.09,287.51L62.59,287.39L63.09,287.29L63.59,287.19L64.09,287.10L64.59,287.01L65.09,286.94L65.59,286.86L66.09,286.80L66.59,286.74L67.09,286.69L67.60,286.65L68.10,286.61L68.60,286.57L69.10,286.54L69.60,286.52L70.10,286.50L70.60,286.49L71.10,286.49L71.60,286.48L72.10,286.49L72.61,286.50L73.11,286.51L73.61,286.53L74.11,286.55L74.61,286.58L75.11,286.61L75.61,286.64L76.11,286.68L76.61,286.73L77.11,286.77L77.62,286.82L78.12,286.88L78.62,286.94L79.12,287.00L79.62,287.07L80.12,287.14L80.62,287.21L81.12,287.29L81.62,287.37L82.12,287.46L82.63,287.55L83.13,287.64L83.63,287.73L84.13,287.83L84.63,287.93L85.13,288.04L85.63,288.14L86.13,288.26L86.63,288.37L87.13,288.49L87.63,288.61L88.14,288.73L88.64,288.86L89.14,288.98L89.64,289.12L90.14,289.25L90.64,289.39L91.14,289.53L91.64,289.67L92.14,289.81L92.64,289.96L93.15,290.11L93.65,290.26L94.15,290.42L94.65,290.58L95.15,290.74L95.65,290.91L96.15,291.08L96.65,291.25L97.15,291.42L97.65,291.60L98.16,291.78L98.66,291.96L99.16,292.15L99.66,292.34L100.16,292.53L100.66,292.73L101.16,292.93L101.66,293.13L102.16,293.34L102.66,293.55L103.17,293.76L103.67,293.98L104.17,294.20L104.67,294.42L105.17,294.64L105.67,294.87L106.17,295.11L106.67,295.34L107.17,295.58L107.67,295.82L108.17,296.07L108.68,296.32L109.18,296.58L109.68,296.83L110.18,297.09L110.68,297.36L111.18,297.63L111.68,297.90L112.18,298.17L112.68,298.45L113.18,298.72L113.69,299.00L114.19,299.29L114.69,299.57L115.19,299.85L115.69,300.14L116.19,300.42L116.69,300.71L117.19,301.00L117.69,301.28L118.19,301.57L118.70,301.86L119.20,302.14L119.70,302.43L120.20,302.71L120.70,302.99L121.20,303.27L121.70,303.55L122.20,303.82L122.70,304.09L123.20,304.36L123.71,304.63L124.21,304.89L124.71,305.15L125.21,305.41L125.71,305.66L126.21,305.90L126.71,306.15L127.21,306.39L127.71,306.62L128.21,306.86L128.71,307.08L129.22,307.31L129.72,307.53L130.22,307.75L130.72,307.97L131.22,308.18L131.72,308.39L132.22,308.60L132.72,308.80L133.22,309.00L133.72,309.20L134.23,309.40L134.73,309.59L135.23,309.78L135.73,309.97L136.23,310.16L136.73,310.34L137.23,310.52L137.73,310.71L138.23,310.88L138.73,311.06L139.24,311.24L139.74,311.41L140.24,311.58L140.74,311.75L141.24,311.92L141.74,312.09L142.24,312.26L142.74,312.42L143.24,312.59L143.74,312.75L144.25,312.92L144.75,313.08L145.25,313.25L145.75,313.41L146.25,313.58L146.75,313.74L147.25,313.91L147.75,314.08L148.25,314.25L148.75,314.42L149.26,314.59L149.76,314.76L150.26,314.94L150.76,315.11L151.26,315.29L151.76,315.47L152.26,315.65L152.76,315.84L153.26,316.03L153.76,316.22L154.26,316.41L154.77,316.61L155.27,316.81L155.77,317.01L156.27,317.21L156.77,317.41L157.27,317.61L157.77,317.79L158.27,317.97L158.77,318.14L159.27,318.30L159.78,318.43L160.28,318.56L160.78,318.66L161.28,318.73L161.78,318.79L162.28,318.81L162.78,318.81L163.28,318.78L163.78,318.73L164.28,318.65L164.79,318.56L165.29,318.44L165.79,318.30L166.29,318.15L166.79,317.98L167.29,317.79L167.79,317.59L168.29,317.38L168.79,317.15L169.29,316.92L169.80,316.68L170.30,316.43L170.80,316.18L171.30,315.92L171.80,315.66L172.30,315.40L172.30,315.40L172.80,315.58L173.31,315.77L173.81,315.95L174.31,316.14L174.82,316.33L175.32,316.52L175.83,316.72L176.33,316.92L176.83,317.13L177.34,317.34L177.84,317.56L178.34,317.79L178.85,318.03L179.35,318.27L179.85,318.52L180.36,318.79L180.86,319.06L181.37,319.35L181.87,319.64L182.37,319.95L182.88,320.26L183.38,320.58L183.88,320.91L184.39,321.25L184.89,321.59L185.40,321.95L185.90,322.31L186.40,322.68L186.91,323.05L187.41,323.43L187.91,323.81L188.42,324.20L188.92,324.59L189.42,324.99L189.93,325.38L190.43,325.78L190.94,326.17L191.44,326.57L191.94,326.96L192.45,327.35L192.95,327.73L193.45,328.12L193.96,328.49L194.46,328.86L194.96,329.22L195.47,329.58L195.97,329.92L196.48,330.26L196.98,330.59L197.48,330.90L197.99,331.20L198.49,331.50L198.99,331.78L199.50,332.05L200.00,332.30L200.50,332.55L201.01,332.78L201.51,333.00L202.02,333.21L202.52,333.41L203.02,333.59L203.53,333.77L204.03,333.93L204.53,334.07L205.04,334.21L205.54,334.33L206.05,334.44L206.55,334.54L207.05,334.63L207.56,334.71L208.06,334.79L208.56,334.85L209.07,334.91L209.57,334.95L210.07,335.00L210.58,335.04L211.08,335.07L211.59,335.10L212.09,335.13L212.59,335.15L213.10,335.18L213.60,335.20" stroke="#111" stroke-width="1.15" fill="none"/>
<path d="M18.50,336.60L19.00,336.67L19.50,336.74L20.00,336.80L20.50,336.85L21.00,336.90L21.51,336.93L22.01,336.95L22.51,336.96L23.01,336.94L23.51,336.89L24.01,336.83L24.51,336.73L25.01,336.60L25.51,336.43L26.01,336.24L26.52,336.02L27.02,335.79L27.52,335.54L28.02,335.29L28.52,335.04L29.02,334.78L29.52,334.51L30.02,334.22L30.52,333.92L31.02,333.58L31.53,333.22L32.03,332.82L32.53,332.40L33.03,331.95L33.53,331.48L34.03,330.99L34.53,330.49L35.03,329.97L35.53,329.43L36.03,328.89L36.54,328.34L37.04,327.78L37.54,327.22L38.04,326.66L38.54,326.11L39.04,325.56L39.54,325.01L40.04,324.47L40.54,323.93L41.04,323.39L41.54,322.85L42.05,322.30L42.55,321.74L43.05,321.17L43.55,320.59L44.05,319.99L44.55,319.37L45.05,318.73L45.55,318.07L46.05,317.40L46.55,316.70L47.06,316.01L47.56,315.30L48.06,314.60L48.56,313.91L49.06,313.23L49.56,312.57L50.06,311.92L50.56,311.30L51.06,310.71L51.56,310.14L52.07,309.58L52.57,309.04L53.07,308.52L53.57,308.01L54.07,307.51L54.57,307.02L55.07,306.53L55.57,306.05L56.07,305.57L56.57,305.10L57.08,304.64L57.58,304.18L58.08,303.73L58.58,303.29L59.08,302.86L59.58,302.44L60.08,302.03L60.58,301.64L61.08,301.25L61.58,300.88L62.09,300.53L62.59,300.19L63.09,299.86L63.59,299.54L64.09,299.23L64.59,298.93L65.09,298.64L65.59,298.36L66.09,298.09L66.59,297.82L67.09,297.55L67.60,297.29L68.10,297.03L68.60,296.77L69.10,296.52L69.60,296.27L70.10,296.02L70.60,295.78L71.10,295.54L71.60,295.30L72.10,295.07L72.61,294.84L73.11,294.62L73.61,294.39L74.11,294.18L74.61,293.96L75.11,293.75L75.61,293.55L76.11,293.35L76.61,293.15L77.11,292.95L77.62,292.76L78.12,292.57L78.62,292.39L79.12,292.20L79.62,292.02L80.12,291.85L80.62,291.67L81.12,291.50L81.62,291.33L82.12,291.16L82.63,290.99L83.13,290.83L83.63,290.66L84.13,290.50L84.63,290.34L85.13,290.19L85.63,290.03L86.13,289.88L86.63,289.73L87.13,289.58L87.63,289.44L88.14,289.30L88.64,289.15L89.14,289.02L89.64,288.88L90.14,288.75L90.64,288.62L91.14,288.49L91.64,288.37L92.14,288.25L92.64,288.14L93.15,288.02L93.65,287.92L94.15,287.81L94.65,287.71L95.15,287.62L95.65,287.53L96.15,287.45L96.65,287.37L97.15,287.29L97.65,287.22L98.16,287.16L98.66,287.11L99.16,287.06L99.66,287.01L100.16,286.98L100.66,286.95L101.16,286.92L101.66,286.91L102.16,286.90L102.66,286.90L103.17,286.90L103.67,286.92L104.17,286.94L104.67,286.97L105.17,287.00L105.67,287.04L106.17,287.09L106.67,287.15L107.17,287.21L107.67,287.28L108.17,287.35L108.68,287.44L109.18,287.52L109.68,287.62L110.18,287.72L110.68,287.83L111.18,287.94L111.68,288.06L112.18,288.19L112.68,288.32L113.18,288.46L113.69,288.60L114.19,288.75L114.69,288.90L115.19,289.06L115.69,289.23L116.19,289.40L116.69,289.57L117.19,289.75L117.69,289.94L118.19,290.13L118.70,290.33L119.20,290.53L119.70,290.74L120.20,290.96L120.70,291.18L121.20,291.40L121.70,291.64L122.20,291.87L122.70,292.12L123.20,292.36L123.71,292.62L124.21,292.88L124.71,293.14L125.21,293.41L125.71,293.69L126.21,293.97L126.71,294.26L127.21,294.55L127.71,294.85L128.21,295.15L128.71,295.46L129.22,295.78L129.72,296.09L130.22,296.42L130.72,296.74L131.22,297.07L131.72,297.41L132.22,297.75L132.72,298.10L133.22,298.44L133.72,298.80L134.23,299.15L134.73,299.51L135.23,299.88L135.73,300.24L136.23,300.61L136.73,300.99L137.23,301.36L137.73,301.74L138.23,302.13L138.73,302.51L139.24,302.90L139.74,303.29L140.24,303.69L140.74,304.08L141.24,304.48L141.74,304.88L142.24,305.28L142.74,305.69L143.24,306.09L143.74,306.49L144.25,306.90L144.75,307.30L145.25,307.71L145.75,308.11L146.25,308.52L146.75,308.92L147.25,309.32L147.75,309.73L148.25,310.12L148.75,310.52L149.26,310.92L149.76,311.31L150.26,311.70L150.76,312.09L151.26,312.47L151.76,312.85L152.26,313.22L152.76,313.60L153.26,313.96L153.76,314.33L154.26,314.68L154.77,315.04L155.27,315.38L155.77,315.72L156.27,316.06L156.77,316.38L157.27,316.69L157.77,316.98L158.27,317.26L158.77,317.52L159.27,317.75L159.78,317.97L160.28,318.16L160.78,318.32L161.28,318.46L161.78,318.56L162.28,318.64L162.78,318.68L163.28,318.68L163.78,318.66L164.28,318.62L164.79,318.54L165.29,318.44L165.79,318.32L166.29,318.18L166.79,318.01L167.29,317.83L167.79,317.64L168.29,317.43L168.79,317.20L169.29,316.96L169.80,316.72L170.30,316.46L170.80,316.20L171.30,315.94L171.80,315.67L172.30,315.40L172.30,315.40L172.80,315.63L173.31,315.87L173.81,316.10L174.31,316.34L174.82,316.58L175.32,316.83L175.83,317.08L176.33,317.33L176.83,317.59L177.34,317.86L177.84,318.13L178.34,318.41L178.85,318.70L179.35,319.00L179.85,319.31L180.36,319.63L180.86,319.96L181.37,320.30L181.87,320.65L182.37,321.00L182.88,321.37L183.38,321.74L183.88,322.12L184.39,322.50L184.89,322.89L185.40,323.28L185.90,323.68L186.40,324.08L186.91,324.48L187.41,324.89L187.91,325.29L188.42,325.70L188.92,326.10L189.42,326.51L189.93,326.91L190.43,327.31L190.94,327.71L191.44,328.10L191.94,328.49L192.45,328.88L192.95,329.25L193.45,329.63L193.96,329.99L194.46,330.35L194.96,330.69L195.47,331.03L195.97,331.36L196.48,331.68L196.98,331.99L197.48,332.28L197.99,332.57L198.49,332.84L198.99,333.10L199.50,333.35L200.00,333.58L200.50,333.81L201.01,334.02L201.51,334.22L202.02,334.41L202.52,334.59L203.02,334.76L203.53,334.91L204.03,335.05L204.53,335.19L205.04,335.31L205.54,335.42L206.05,335.52L206.55,335.61L207.05,335.69L207.56,335.76L208.06,335.83L208.56,335.88L209.07,335.93L209.57,335.98L210.07,336.02L210.58,336.05L211.08,336.08L211.59,336.11L212.09,336.13L212.59,336.16L213.10,336.18L213.60,336.20" stroke="#111" stroke-width="1.15" fill="none"/>
<clipPath id="clipd"><rect x="18.2" y="207.8" width="195.4" height="155.2"/></clipPath>
<g clip-path="url(#clipd)">
<path d="M18.50,353.20L19.00,352.97L19.50,352.73L20.00,352.49L20.50,352.25L21.00,352.00L21.50,351.74L22.00,351.47L22.50,351.20L23.00,350.91L23.50,350.60L24.00,350.29L24.50,349.95L25.00,349.60L25.50,349.23L26.00,348.84L26.50,348.43L27.00,348.01L27.50,347.57L28.00,347.12L28.50,346.66L29.00,346.18L29.50,345.70L30.00,345.20L30.50,344.71L31.00,344.20L31.50,343.69L32.00,343.18L32.50,342.66L33.00,342.13L33.50,341.60L34.00,341.07L34.50,340.53L35.00,339.98L35.50,339.43L36.00,338.87L36.50,338.31L37.00,337.74L37.50,337.16L38.00,336.58L38.50,335.99L39.00,335.40L39.50,334.80L40.00,334.19L40.50,333.58L41.00,332.97L41.50,332.35L42.00,331.74L42.50,331.12L43.00,330.51L43.50,329.90L44.00,329.29L44.50,328.69L45.00,328.09L45.50,327.51L46.00,326.93L46.50,326.36L47.00,325.80L47.50,325.25L48.00,324.72L48.50,324.20L49.00,323.69L49.50,323.20L50.00,322.71L50.50,322.24L51.00,321.79L51.50,321.34L52.00,320.91L52.50,320.49L53.00,320.09L53.50,319.70L54.00,319.32L54.50,318.95L55.00,318.60L55.50,318.26L56.00,317.94L56.50,317.63L57.00,317.33L57.50,317.04L58.00,316.76L58.50,316.50L59.00,316.25L59.50,316.01L60.00,315.78L60.50,315.56L61.00,315.35L61.50,315.15L62.00,314.96L62.50,314.77L63.00,314.60L63.50,314.44L64.00,314.28L64.50,314.13L65.00,313.99L65.50,313.86L66.00,313.74L66.50,313.63L67.00,313.52L67.50,313.43L68.00,313.34L68.50,313.26L69.00,313.19L69.50,313.13L70.00,313.08L70.50,313.03L71.00,313.00L71.50,312.97L72.00,312.96L72.50,312.95L73.00,312.95L73.50,312.97L74.00,312.99L74.50,313.02L75.00,313.07L75.50,313.12L76.00,313.18L76.50,313.26L77.00,313.34L77.50,313.44L78.00,313.55L78.50,313.67L79.00,313.80L79.50,313.94L80.00,314.10L80.50,314.26L81.00,314.44L81.50,314.62L82.00,314.81L82.50,315.01L83.00,315.22L83.50,315.43L84.00,315.64L84.50,315.86L85.00,316.09L85.50,316.31L86.00,316.54L86.50,316.77L87.00,317.00L87.50,317.23L88.00,317.46L88.50,317.69L89.00,317.93L89.50,318.18L90.00,318.44L90.50,318.71L91.00,318.99L91.50,319.29L92.00,319.60L92.50,319.91L93.00,320.24L93.50,320.58L94.00,320.93L94.50,321.28L95.00,321.65L95.50,322.01L96.00,322.39L96.50,322.77L97.00,323.15L97.50,323.54L98.00,323.93L98.50,324.32L99.00,324.71L99.50,325.11L100.00,325.50L100.50,325.89L101.00,326.28L101.50,326.68L102.00,327.07L102.50,327.46L103.00,327.85L103.50,328.25L104.00,328.65L104.50,329.05L105.00,329.45L105.50,329.85L106.00,330.26L106.50,330.67L107.00,331.09L107.50,331.51L108.00,331.94L108.50,332.37L109.00,332.81L109.50,333.25L110.00,333.70L110.50,334.16L111.00,334.62L111.50,335.10L112.00,335.58L112.50,336.07L113.00,336.56L113.50,337.07L114.00,337.58L114.50,338.11L115.00,338.64L115.50,339.18L116.00,339.73L116.50,340.29L117.00,340.85L117.50,341.43L118.00,342.01L118.50,342.60L119.00,343.20L119.50,343.81L120.00,344.43L120.50,345.06L121.00,345.70L121.50,346.34L122.00,347.00L122.50,347.66L123.00,348.34L123.50,349.02L124.00,349.71L124.50,350.41L125.00,351.11L125.50,351.82L126.00,352.54L126.50,353.26L127.00,353.99L127.50,354.72L128.00,355.46L128.50,356.20L129.00,356.95L129.50,357.70L130.00,358.45L130.50,359.20L131.00,359.96L131.50,360.72L132.00,361.48L132.50,362.24L133.00,363.00" stroke="#c2c2c2" stroke-width="1.15" fill="none"/>
<path d="M35.80,363.00L36.30,362.17L36.80,361.33L37.30,360.50L37.81,359.66L38.31,358.83L38.81,357.99L39.31,357.15L39.81,356.31L40.31,355.48L40.81,354.64L41.32,353.80L41.82,352.97L42.32,352.14L42.82,351.32L43.32,350.51L43.82,349.71L44.32,348.92L44.83,348.14L45.33,347.39L45.83,346.65L46.33,345.93L46.83,345.23L47.33,344.55L47.84,343.90L48.34,343.27L48.84,342.66L49.34,342.07L49.84,341.49L50.34,340.93L50.84,340.38L51.35,339.85L51.85,339.33L52.35,338.82L52.85,338.31L53.35,337.81L53.85,337.32L54.35,336.83L54.86,336.34L55.36,335.85L55.86,335.37L56.36,334.88L56.86,334.40L57.36,333.92L57.86,333.44L58.37,332.97L58.87,332.51L59.37,332.05L59.87,331.60L60.37,331.16L60.87,330.72L61.37,330.30L61.88,329.88L62.38,329.48L62.88,329.09L63.38,328.72L63.88,328.35L64.38,328.00L64.88,327.66L65.39,327.33L65.89,327.01L66.39,326.70L66.89,326.40L67.39,326.11L67.89,325.83L68.40,325.55L68.90,325.28L69.40,325.01L69.90,324.75L70.40,324.50L70.90,324.25L71.40,324.00L71.91,323.76L72.41,323.52L72.91,323.28L73.41,323.05L73.91,322.83L74.41,322.61L74.91,322.40L75.42,322.19L75.92,322.00L76.42,321.81L76.92,321.63L77.42,321.46L77.92,321.30L78.42,321.16L78.93,321.02L79.43,320.89L79.93,320.78L80.43,320.68L80.93,320.58L81.43,320.49L81.93,320.41L82.44,320.33L82.94,320.25L83.44,320.17L83.94,320.10L84.44,320.02L84.94,319.94L85.45,319.86L85.95,319.77L86.45,319.68L86.95,319.58L87.45,319.46L87.95,319.34L88.45,319.21L88.96,319.07L89.46,318.90L89.96,318.73L90.46,318.54L90.96,318.33L91.46,318.10L91.96,317.86L92.47,317.62L92.97,317.36L93.47,317.09L93.97,316.82L94.47,316.55L94.97,316.28L95.47,316.01L95.98,315.74L96.48,315.47L96.98,315.22L97.48,314.97L97.98,314.73L98.48,314.51L98.98,314.31L99.49,314.12L99.99,313.94L100.49,313.79L100.99,313.65L101.49,313.53L101.99,313.42L102.49,313.32L103.00,313.24L103.50,313.17L104.00,313.12L104.50,313.08L105.00,313.05L105.50,313.03L106.01,313.02L106.51,313.02L107.01,313.03L107.51,313.05L108.01,313.07L108.51,313.11L109.01,313.15L109.52,313.20L110.02,313.26L110.52,313.33L111.02,313.40L111.52,313.49L112.02,313.58L112.52,313.68L113.03,313.79L113.53,313.91L114.03,314.05L114.53,314.19L115.03,314.34L115.53,314.51L116.03,314.68L116.54,314.87L117.04,315.07L117.54,315.28L118.04,315.50L118.54,315.74L119.04,315.99L119.54,316.25L120.05,316.53L120.55,316.82L121.05,317.12L121.55,317.43L122.05,317.76L122.55,318.10L123.05,318.45L123.56,318.82L124.06,319.19L124.56,319.58L125.06,319.97L125.56,320.38L126.06,320.79L126.57,321.21L127.07,321.64L127.57,322.08L128.07,322.53L128.57,322.99L129.07,323.45L129.57,323.92L130.08,324.39L130.58,324.87L131.08,325.36L131.58,325.85L132.08,326.35L132.58,326.85L133.08,327.35L133.59,327.86L134.09,328.37L134.59,328.88L135.09,329.40L135.59,329.92L136.09,330.43L136.59,330.95L137.10,331.48L137.60,332.00L138.10,332.52L138.60,333.04L139.10,333.56L139.60,334.08L140.10,334.60L140.61,335.12L141.11,335.64L141.61,336.16L142.11,336.67L142.61,337.19L143.11,337.71L143.62,338.22L144.12,338.73L144.62,339.24L145.12,339.75L145.62,340.26L146.12,340.76L146.62,341.27L147.13,341.77L147.63,342.27L148.13,342.76L148.63,343.26L149.13,343.75L149.63,344.24L150.13,344.73L150.64,345.21L151.14,345.69L151.64,346.17L152.14,346.64L152.64,347.11L153.14,347.58L153.64,348.03L154.15,348.48L154.65,348.90L155.15,349.31L155.65,349.69L156.15,350.04L156.65,350.37L157.15,350.66L157.66,350.91L158.16,351.12L158.66,351.29L159.16,351.41L159.66,351.48L160.16,351.50L160.66,351.46L161.17,351.37L161.67,351.24L162.17,351.07L162.67,350.86L163.17,350.63L163.67,350.37L164.18,350.09L164.68,349.80L165.18,349.50L165.68,349.19L166.18,348.89L166.68,348.60L167.18,348.30L167.69,348.02L168.19,347.73L168.69,347.45L169.19,347.18L169.69,346.90L170.19,346.63L170.69,346.36L171.20,346.10L171.70,345.83L172.20,345.57L172.70,345.30L172.70,345.30L173.20,345.41L173.71,345.53L174.21,345.64L174.72,345.76L175.22,345.87L175.73,345.99L176.23,346.10L176.74,346.22L177.24,346.34L177.75,346.46L178.25,346.58L178.76,346.70L179.26,346.82L179.77,346.94L180.27,347.07L180.78,347.19L181.28,347.32L181.79,347.45L182.29,347.58L182.80,347.71L183.30,347.84L183.81,347.97L184.31,348.10L184.82,348.23L185.32,348.37L185.83,348.50L186.33,348.63L186.84,348.76L187.34,348.89L187.85,349.02L188.35,349.14L188.86,349.27L189.36,349.40L189.87,349.52L190.37,349.64L190.88,349.76L191.38,349.88L191.89,350.00L192.39,350.11L192.90,350.23L193.40,350.34L193.91,350.45L194.41,350.56L194.92,350.67L195.42,350.77L195.93,350.88L196.43,350.98L196.94,351.09L197.44,351.19L197.95,351.29L198.45,351.39L198.96,351.48L199.46,351.58L199.97,351.68L200.47,351.77L200.98,351.87L201.48,351.96L201.99,352.05L202.49,352.14L203.00,352.23L203.50,352.32L204.01,352.41L204.51,352.50L205.02,352.58L205.52,352.67L206.03,352.76L206.53,352.84L207.04,352.93L207.54,353.01L208.05,353.10L208.55,353.18L209.06,353.26L209.56,353.35L210.07,353.43L210.57,353.51L211.08,353.59L211.58,353.67L212.09,353.76L212.59,353.84L213.10,353.92L213.60,354.00" stroke="#c2c2c2" stroke-width="1.15" fill="none"/>
<path d="M18.50,353.20L19.00,353.05L19.50,352.89L20.00,352.74L20.50,352.58L21.00,352.43L21.50,352.26L22.00,352.10L22.51,351.93L23.01,351.76L23.51,351.58L24.01,351.39L24.51,351.20L25.01,351.00L25.51,350.79L26.01,350.57L26.51,350.35L27.01,350.13L27.51,349.89L28.01,349.66L28.51,349.42L29.01,349.17L29.51,348.93L30.01,348.68L30.52,348.44L31.02,348.19L31.52,347.95L32.02,347.70L32.52,347.46L33.02,347.21L33.52,346.97L34.02,346.73L34.52,346.48L35.02,346.23L35.52,345.99L36.02,345.74L36.52,345.48L37.02,345.23L37.52,344.97L38.03,344.71L38.53,344.45L39.03,344.19L39.53,343.92L40.03,343.64L40.53,343.37L41.03,343.08L41.53,342.80L42.03,342.51L42.53,342.22L43.03,341.92L43.53,341.62L44.03,341.31L44.53,341.00L45.03,340.68L45.54,340.36L46.04,340.04L46.54,339.71L47.04,339.38L47.54,339.04L48.04,338.69L48.54,338.34L49.04,337.99L49.54,337.64L50.04,337.27L50.54,336.91L51.04,336.54L51.54,336.17L52.04,335.79L52.54,335.41L53.04,335.03L53.55,334.64L54.05,334.25L54.55,333.86L55.05,333.46L55.55,333.06L56.05,332.66L56.55,332.26L57.05,331.86L57.55,331.46L58.05,331.06L58.55,330.67L59.05,330.28L59.55,329.89L60.05,329.50L60.55,329.13L61.06,328.76L61.56,328.39L62.06,328.04L62.56,327.70L63.06,327.36L63.56,327.04L64.06,326.73L64.56,326.42L65.06,326.13L65.56,325.85L66.06,325.57L66.56,325.30L67.06,325.04L67.56,324.79L68.06,324.54L68.56,324.30L69.07,324.07L69.57,323.84L70.07,323.61L70.57,323.39L71.07,323.17L71.57,322.95L72.07,322.74L72.57,322.53L73.07,322.33L73.57,322.12L74.07,321.92L74.57,321.73L75.07,321.54L75.57,321.35L76.07,321.17L76.58,320.99L77.08,320.82L77.58,320.65L78.08,320.49L78.58,320.33L79.08,320.18L79.58,320.03L80.08,319.89L80.58,319.75L81.08,319.62L81.58,319.50L82.08,319.38L82.58,319.27L83.08,319.17L83.58,319.08L84.09,318.99L84.59,318.91L85.09,318.83L85.59,318.77L86.09,318.71L86.59,318.67L87.09,318.63L87.59,318.60L88.09,318.58L88.59,318.57L89.09,318.56L89.59,318.57L90.09,318.59L90.59,318.62L91.09,318.66L91.59,318.70L92.10,318.76L92.60,318.83L93.10,318.91L93.60,319.00L94.10,319.09L94.60,319.19L95.10,319.31L95.60,319.43L96.10,319.56L96.60,319.70L97.10,319.84L97.60,319.99L98.10,320.15L98.60,320.32L99.10,320.50L99.61,320.68L100.11,320.86L100.61,321.06L101.11,321.26L101.61,321.46L102.11,321.68L102.61,321.89L103.11,322.12L103.61,322.34L104.11,322.58L104.61,322.81L105.11,323.05L105.61,323.30L106.11,323.55L106.61,323.81L107.11,324.07L107.62,324.33L108.12,324.60L108.62,324.88L109.12,325.16L109.62,325.45L110.12,325.74L110.62,326.04L111.12,326.35L111.62,326.66L112.12,326.98L112.62,327.30L113.12,327.64L113.62,327.98L114.12,328.32L114.62,328.68L115.13,329.04L115.63,329.41L116.13,329.79L116.63,330.17L117.13,330.57L117.63,330.97L118.13,331.38L118.63,331.80L119.13,332.23L119.63,332.67L120.13,333.12L120.63,333.58L121.13,334.04L121.63,334.52L122.13,335.00L122.64,335.48L123.14,335.98L123.64,336.48L124.14,336.98L124.64,337.49L125.14,338.00L125.64,338.52L126.14,339.03L126.64,339.55L127.14,340.07L127.64,340.59L128.14,341.11L128.64,341.63L129.14,342.15L129.64,342.66L130.14,343.17L130.65,343.68L131.15,344.18L131.65,344.68L132.15,345.17L132.65,345.66L133.15,346.14L133.65,346.61L134.15,347.08L134.65,347.53L135.15,347.98L135.65,348.41L136.15,348.84L136.65,349.25L137.15,349.65L137.65,350.04L138.16,350.42L138.66,350.78L139.16,351.13L139.66,351.46L140.16,351.78L140.66,352.08L141.16,352.37L141.66,352.64L142.16,352.90L142.66,353.13L143.16,353.35L143.66,353.56L144.16,353.74L144.66,353.91L145.16,354.06L145.66,354.18L146.17,354.29L146.67,354.38L147.17,354.45L147.67,354.49L148.17,354.52L148.67,354.52L149.17,354.50L149.67,354.47L150.17,354.42L150.67,354.34L151.17,354.26L151.67,354.15L152.17,354.04L152.67,353.91L153.17,353.76L153.68,353.61L154.18,353.44L154.68,353.27L155.18,353.08L155.68,352.89L156.18,352.68L156.68,352.48L157.18,352.26L157.68,352.05L158.18,351.82L158.68,351.60L159.18,351.37L159.68,351.14L160.18,350.92L160.68,350.69L161.19,350.46L161.69,350.23L162.19,350.01L162.69,349.78L163.19,349.56L163.69,349.33L164.19,349.10L164.69,348.88L165.19,348.65L165.69,348.43L166.19,348.21L166.69,347.98L167.19,347.76L167.69,347.53L168.19,347.31L168.69,347.09L169.20,346.86L169.70,346.64L170.20,346.42L170.70,346.19L171.20,345.97L171.70,345.75L172.20,345.52L172.70,345.30L172.70,345.30L173.20,345.49L173.71,345.68L174.21,345.87L174.72,346.06L175.22,346.25L175.73,346.43L176.23,346.62L176.74,346.81L177.24,347.00L177.75,347.20L178.25,347.39L178.76,347.58L179.26,347.77L179.77,347.96L180.27,348.16L180.78,348.35L181.28,348.54L181.79,348.74L182.29,348.94L182.80,349.13L183.30,349.33L183.81,349.53L184.31,349.73L184.82,349.93L185.32,350.13L185.83,350.33L186.33,350.53L186.84,350.74L187.34,350.94L187.85,351.14L188.35,351.34L188.86,351.54L189.36,351.74L189.87,351.93L190.37,352.12L190.88,352.31L191.38,352.50L191.89,352.68L192.39,352.86L192.90,353.03L193.40,353.20L193.91,353.37L194.41,353.52L194.92,353.68L195.42,353.82L195.93,353.96L196.43,354.09L196.94,354.22L197.44,354.34L197.95,354.45L198.45,354.55L198.96,354.64L199.46,354.72L199.97,354.80L200.47,354.86L200.98,354.91L201.48,354.96L201.99,354.99L202.49,355.02L203.00,355.04L203.50,355.05L204.01,355.05L204.51,355.05L205.02,355.04L205.52,355.02L206.03,355.00L206.53,354.97L207.04,354.94L207.54,354.90L208.05,354.86L208.55,354.81L209.06,354.76L209.56,354.71L210.07,354.65L210.57,354.59L211.08,354.53L211.58,354.46L212.09,354.40L212.59,354.33L213.10,354.27L213.60,354.20" stroke="#c2c2c2" stroke-width="1.15" fill="none"/>
<path d="M41.40,363.00L41.90,362.37L42.40,361.73L42.91,361.10L43.41,360.48L43.91,359.86L44.41,359.24L44.92,358.63L45.42,358.03L45.92,357.44L46.42,356.86L46.92,356.28L47.43,355.73L47.93,355.18L48.43,354.65L48.93,354.12L49.44,353.60L49.94,353.10L50.44,352.59L50.94,352.10L51.44,351.61L51.95,351.12L52.45,350.64L52.95,350.16L53.45,349.68L53.96,349.20L54.46,348.72L54.96,348.24L55.46,347.75L55.96,347.27L56.47,346.78L56.97,346.28L57.47,345.79L57.97,345.29L58.48,344.79L58.98,344.29L59.48,343.79L59.98,343.28L60.48,342.77L60.99,342.26L61.49,341.75L61.99,341.24L62.49,340.72L63.00,340.20L63.50,339.69L64.00,339.17L64.50,338.65L65.00,338.13L65.51,337.61L66.01,337.09L66.51,336.58L67.01,336.07L67.52,335.56L68.02,335.06L68.52,334.56L69.02,334.07L69.52,333.58L70.03,333.11L70.53,332.63L71.03,332.17L71.53,331.72L72.04,331.27L72.54,330.84L73.04,330.41L73.54,329.98L74.04,329.57L74.55,329.16L75.05,328.76L75.55,328.37L76.05,327.98L76.56,327.60L77.06,327.22L77.56,326.85L78.06,326.48L78.56,326.11L79.07,325.75L79.57,325.40L80.07,325.04L80.57,324.69L81.08,324.34L81.58,323.98L82.08,323.63L82.58,323.27L83.08,322.91L83.59,322.55L84.09,322.18L84.59,321.81L85.09,321.43L85.60,321.04L86.10,320.66L86.60,320.28L87.10,319.93L87.60,319.60L88.11,319.30L88.61,319.04L89.11,318.84L89.61,318.69L90.12,318.61L90.62,318.60L91.12,318.67L91.62,318.81L92.12,319.01L92.63,319.27L93.13,319.58L93.63,319.95L94.13,320.36L94.64,320.82L95.14,321.31L95.64,321.83L96.14,322.38L96.64,322.95L97.15,323.54L97.65,324.14L98.15,324.76L98.65,325.37L99.16,325.98L99.66,326.59L100.16,327.19L100.66,327.77L101.16,328.35L101.67,328.90L102.17,329.45L102.67,329.99L103.17,330.52L103.68,331.04L104.18,331.55L104.68,332.05L105.18,332.54L105.68,333.03L106.19,333.51L106.69,333.98L107.19,334.45L107.69,334.92L108.20,335.38L108.70,335.84L109.20,336.30L109.70,336.75L110.20,337.21L110.71,337.66L111.21,338.11L111.71,338.57L112.21,339.03L112.72,339.49L113.22,339.95L113.72,340.42L114.22,340.89L114.72,341.36L115.23,341.84L115.73,342.33L116.23,342.82L116.73,343.33L117.24,343.84L117.74,344.36L118.24,344.88L118.74,345.42L119.24,345.97L119.75,346.52L120.25,347.09L120.75,347.67L121.25,348.26L121.76,348.85L122.26,349.46L122.76,350.09L123.26,350.72L123.76,351.36L124.27,352.02L124.77,352.69L125.27,353.37L125.77,354.06L126.28,354.77L126.78,355.48L127.28,356.21L127.78,356.94L128.28,357.68L128.79,358.43L129.29,359.18L129.79,359.94L130.29,360.70L130.80,361.47L131.30,362.23L131.80,363.00" stroke="#c2c2c2" stroke-width="1.15" fill="none"/>
<path d="M150.00,363.00L150.50,362.73L151.00,362.46L151.50,362.19L152.00,361.92L152.50,361.65L153.00,361.38L153.50,361.11L154.00,360.84L154.50,360.58L155.00,360.31L155.50,360.04L156.00,359.78L156.50,359.52L157.00,359.26L157.50,359.00L158.00,358.74L158.50,358.49L159.00,358.24L159.50,357.99L160.00,357.74L160.50,357.49L161.00,357.25L161.50,357.01L162.00,356.77L162.50,356.53L163.00,356.30L163.50,356.07L164.00,355.84L164.50,355.62L165.00,355.40L165.50,355.18L166.00,354.97L166.50,354.76L167.00,354.56L167.50,354.36L168.00,354.17L168.50,353.98L169.00,353.79L169.50,353.62L170.00,353.45L170.50,353.28L171.00,353.13L171.50,352.97L172.00,352.83L172.50,352.70L173.00,352.57L173.50,352.45L174.00,352.34L174.50,352.24L175.00,352.15L175.50,352.06L176.00,351.99L176.50,351.93L177.00,351.88L177.50,351.84L178.00,351.81L178.50,351.79L179.00,351.78L179.50,351.78L180.00,351.80L180.50,351.83L181.00,351.87L181.50,351.93L182.00,352.00L182.50,352.09L183.00,352.20L183.50,352.32L184.00,352.46L184.50,352.63L185.00,352.81L185.50,353.02L186.00,353.24L186.50,353.50L187.00,353.77L187.50,354.07L188.00,354.40L188.50,354.76L189.00,355.14L189.50,355.56L190.00,356.00L190.50,356.47L191.00,356.98L191.50,357.51L192.00,358.06L192.50,358.63L193.00,359.22L193.50,359.83L194.00,360.45L194.50,361.08L195.00,361.71L195.50,362.35L196.00,363.00" stroke="#c2c2c2" stroke-width="1.15" fill="none"/>
<path d="M159.00,363.00L159.50,362.63L160.00,362.26L160.50,361.90L161.00,361.56L161.50,361.23L162.00,360.94L162.50,360.67L163.00,360.44L163.50,360.26L164.00,360.12L164.50,360.03L165.00,360.00L165.50,360.03L166.00,360.12L166.50,360.26L167.00,360.44L167.50,360.67L168.00,360.94L168.50,361.23L169.00,361.56L169.50,361.90L170.00,362.26L170.50,362.63L171.00,363.00" stroke="#c2c2c2" stroke-width="1.15" fill="none"/>
</g>
<g transform="translate(236,0) scale(1.0046,1) translate(-236,0)">
<path d="M236.00,262.50L236.50,262.48L237.00,262.45L237.50,262.43L238.00,262.41L238.50,262.38L239.00,262.35L239.50,262.33L240.00,262.30L240.50,262.27L241.00,262.24L241.50,262.20L242.00,262.16L242.50,262.13L243.00,262.08L243.50,262.04L244.00,261.99L244.50,261.94L245.00,261.88L245.50,261.83L246.00,261.76L246.50,261.70L247.00,261.63L247.50,261.55L248.00,261.47L248.50,261.39L249.00,261.30L249.50,261.20L250.00,261.10L250.50,260.99L251.00,260.88L251.50,260.76L252.00,260.64L252.50,260.51L253.00,260.38L253.50,260.24L254.00,260.10L254.50,259.96L255.00,259.81L255.50,259.65L256.00,259.50L256.50,259.34L257.00,259.17L257.50,259.01L258.00,258.84L258.50,258.67L259.00,258.49L259.50,258.32L260.00,258.14L260.50,257.96L261.00,257.78L261.50,257.59L262.00,257.41L262.50,257.23L263.00,257.04L263.50,256.86L264.00,256.67L264.50,256.49L265.00,256.30L265.50,256.11L266.00,255.93L266.50,255.75L267.00,255.56L267.50,255.38L268.00,255.19L268.50,255.01L269.00,254.83L269.50,254.65L270.00,254.47L270.50,254.29L271.00,254.11L271.50,253.93L272.00,253.75L272.50,253.57L273.00,253.39L273.50,253.22L274.00,253.04L274.50,252.87L275.00,252.69L275.50,252.52L276.00,252.35L276.50,252.18L277.00,252.00L277.50,251.83L278.00,251.67L278.50,251.50L279.00,251.33L279.50,251.16L280.00,251.00L280.50,250.84L281.00,250.67L281.50,250.51L282.00,250.35L282.50,250.19L283.00,250.04L283.50,249.88L284.00,249.72L284.50,249.57L285.00,249.42L285.50,249.27L286.00,249.12L286.50,248.98L287.00,248.84L287.50,248.69L288.00,248.56L288.50,248.42L289.00,248.28L289.50,248.15L290.00,248.02L290.50,247.89L291.00,247.77L291.50,247.65L292.00,247.53L292.50,247.41L293.00,247.30L293.50,247.19L294.00,247.08L294.50,246.98L295.00,246.88L295.50,246.78L296.00,246.69L296.50,246.60L297.00,246.51L297.50,246.43L298.00,246.35L298.50,246.27L299.00,246.20L299.50,246.14L300.00,246.07L300.50,246.02L301.00,245.96L301.50,245.91L302.00,245.87L302.50,245.83L303.00,245.80L303.50,245.77L304.00,245.74L304.50,245.72L305.00,245.71L305.50,245.70L306.00,245.70L306.50,245.70L307.00,245.71L307.50,245.72L308.00,245.74L308.50,245.77L309.00,245.80L309.50,245.83L310.00,245.88L310.50,245.92L311.00,245.97L311.50,246.03L312.00,246.09L312.50,246.16L313.00,246.23L313.50,246.31L314.00,246.39L314.50,246.48L315.00,246.57L315.50,246.67L316.00,246.77L316.50,246.88L317.00,246.99L317.50,247.10L318.00,247.23L318.50,247.35L319.00,247.48L319.50,247.62L320.00,247.76L320.50,247.90L321.00,248.05L321.50,248.20L322.00,248.36L322.50,248.52L323.00,248.68L323.50,248.85L324.00,249.02L324.50,249.19L325.00,249.37L325.50,249.55L326.00,249.74L326.50,249.93L327.00,250.12L327.50,250.31L328.00,250.51L328.50,250.71L329.00,250.91L329.50,251.11L330.00,251.32L330.50,251.53L331.00,251.74L331.50,251.96L332.00,252.17L332.50,252.39L333.00,252.61L333.50,252.83L334.00,253.05L334.50,253.27L335.00,253.50L335.50,253.73L336.00,253.95L336.50,254.18L337.00,254.41L337.50,254.64L338.00,254.87L338.50,255.10L339.00,255.33L339.50,255.57L340.00,255.80L340.50,256.03L341.00,256.26L341.50,256.49L342.00,256.71L342.50,256.94L343.00,257.17L343.50,257.39L344.00,257.61L344.50,257.83L345.00,258.05L345.50,258.27L346.00,258.48L346.50,258.70L347.00,258.91L347.50,259.11L348.00,259.32L348.50,259.52L349.00,259.72L349.50,259.91L350.00,260.10L350.50,260.29L351.00,260.47L351.50,260.65L352.00,260.83L352.50,261.00L353.00,261.17L353.50,261.33L354.00,261.50L354.50,261.66L355.00,261.81L355.50,261.97L356.00,262.12L356.50,262.27L357.00,262.41L357.50,262.56L358.00,262.70L358.50,262.84L359.00,262.97L359.50,263.11L360.00,263.24L360.50,263.37L361.00,263.50L361.50,263.63L362.00,263.75L362.50,263.88L363.00,264.00L363.50,264.12L364.00,264.24L364.50,264.36L365.00,264.47L365.50,264.59L366.00,264.70L366.50,264.82L367.00,264.93L367.50,265.04L368.00,265.16L368.50,265.27L369.00,265.38L369.50,265.49L370.00,265.60L370.50,265.71L371.00,265.82L371.50,265.93L372.00,266.04L372.50,266.15L373.00,266.26L373.50,266.37L374.00,266.47L374.50,266.58L375.00,266.69L375.50,266.79L376.00,266.90L376.50,267.00L377.00,267.10L377.50,267.21L378.00,267.31L378.50,267.41L379.00,267.50L379.50,267.60L380.00,267.69L380.50,267.79L381.00,267.88L381.50,267.97L382.00,268.06L382.50,268.15L383.00,268.23L383.50,268.31L384.00,268.40L384.50,268.48L385.00,268.55L385.50,268.63L386.00,268.70L386.50,268.77L387.00,268.84L387.50,268.90L388.00,268.97L388.50,269.03L389.00,269.09L389.50,269.14L390.00,269.20L390.50,269.25L391.00,269.30L391.50,269.35L392.00,269.39L392.50,269.43L393.00,269.47L393.50,269.51L394.00,269.54L394.50,269.56L395.00,269.58L395.50,269.59L396.00,269.60L396.50,269.60L397.00,269.60L397.50,269.59L398.00,269.57L398.50,269.54L399.00,269.50L399.50,269.45L400.00,269.40L400.50,269.34L401.00,269.26L401.50,269.18L402.00,269.09L402.50,268.99L403.00,268.89L403.50,268.77L404.00,268.66L404.50,268.54L405.00,268.41L405.50,268.28L406.00,268.14L406.50,268.00L407.00,267.86L407.50,267.72L408.00,267.58L408.50,267.43L409.00,267.29L409.50,267.14L410.00,267.00L410.50,266.86L411.00,266.72L411.50,266.58L412.00,266.44L412.50,266.30L413.00,266.17L413.50,266.04L414.00,265.91L414.50,265.78L415.00,265.65L415.50,265.53L416.00,265.40L416.50,265.28L417.00,265.16L417.50,265.05L418.00,264.93L418.50,264.82L419.00,264.71L419.50,264.60L420.00,264.50L420.50,264.40L421.00,264.30L421.50,264.20L422.00,264.11L422.50,264.01L423.00,263.92L423.50,263.83L424.00,263.74L424.50,263.66L425.00,263.57L425.50,263.49L426.00,263.41L426.50,263.33L427.00,263.24L427.50,263.17L428.00,263.09L428.50,263.01L429.00,262.93L429.50,262.85L430.00,262.78L430.50,262.70" stroke="#111" stroke-width="1.15" fill="none"/>
<path d="M236.00,262.50L236.50,262.52L237.00,262.54L237.50,262.55L238.00,262.57L238.50,262.59L239.00,262.60L239.50,262.62L240.00,262.64L240.50,262.65L241.00,262.66L241.50,262.68L242.00,262.69L242.50,262.70L243.00,262.71L243.50,262.72L244.00,262.73L244.50,262.74L245.00,262.74L245.50,262.75L246.00,262.75L246.50,262.75L247.00,262.75L247.50,262.74L248.00,262.74L248.50,262.73L249.00,262.72L249.50,262.71L250.00,262.70L250.50,262.68L251.00,262.67L251.50,262.65L252.00,262.62L252.50,262.60L253.00,262.57L253.50,262.54L254.00,262.51L254.50,262.47L255.00,262.44L255.50,262.40L256.00,262.35L256.50,262.31L257.00,262.26L257.50,262.21L258.00,262.16L258.50,262.10L259.00,262.04L259.50,261.98L260.00,261.91L260.50,261.85L261.00,261.78L261.50,261.70L262.00,261.63L262.50,261.55L263.00,261.46L263.50,261.38L264.00,261.29L264.50,261.20L265.00,261.10L265.50,261.00L266.00,260.90L266.50,260.80L267.00,260.69L267.50,260.58L268.00,260.47L268.50,260.35L269.00,260.23L269.50,260.11L270.00,259.99L270.50,259.87L271.00,259.75L271.50,259.62L272.00,259.49L272.50,259.36L273.00,259.24L273.50,259.10L274.00,258.97L274.50,258.84L275.00,258.71L275.50,258.58L276.00,258.45L276.50,258.31L277.00,258.18L277.50,258.05L278.00,257.92L278.50,257.79L279.00,257.66L279.50,257.53L280.00,257.40L280.50,257.27L281.00,257.15L281.50,257.02L282.00,256.90L282.50,256.77L283.00,256.65L283.50,256.53L284.00,256.41L284.50,256.29L285.00,256.17L285.50,256.05L286.00,255.93L286.50,255.81L287.00,255.69L287.50,255.57L288.00,255.44L288.50,255.32L289.00,255.20L289.50,255.08L290.00,254.96L290.50,254.83L291.00,254.71L291.50,254.58L292.00,254.46L292.50,254.33L293.00,254.20L293.50,254.07L294.00,253.94L294.50,253.81L295.00,253.67L295.50,253.54L296.00,253.40L296.50,253.26L297.00,253.13L297.50,252.99L298.00,252.85L298.50,252.71L299.00,252.57L299.50,252.43L300.00,252.28L300.50,252.14L301.00,252.00L301.50,251.86L302.00,251.71L302.50,251.57L303.00,251.43L303.50,251.28L304.00,251.14L304.50,251.00L305.00,250.85L305.50,250.71L306.00,250.57L306.50,250.42L307.00,250.28L307.50,250.14L308.00,250.00L308.50,249.86L309.00,249.72L309.50,249.58L310.00,249.44L310.50,249.30L311.00,249.16L311.50,249.03L312.00,248.89L312.50,248.76L313.00,248.62L313.50,248.49L314.00,248.36L314.50,248.23L315.00,248.11L315.50,247.98L316.00,247.85L316.50,247.73L317.00,247.61L317.50,247.49L318.00,247.37L318.50,247.25L319.00,247.14L319.50,247.03L320.00,246.92L320.50,246.81L321.00,246.71L321.50,246.61L322.00,246.51L322.50,246.42L323.00,246.33L323.50,246.24L324.00,246.16L324.50,246.09L325.00,246.02L325.50,245.96L326.00,245.90L326.50,245.85L327.00,245.80L327.50,245.77L328.00,245.74L328.50,245.71L329.00,245.70L329.50,245.69L330.00,245.69L330.50,245.70L331.00,245.71L331.50,245.74L332.00,245.78L332.50,245.82L333.00,245.87L333.50,245.93L334.00,246.00L334.50,246.08L335.00,246.17L335.50,246.26L336.00,246.37L336.50,246.48L337.00,246.60L337.50,246.73L338.00,246.87L338.50,247.01L339.00,247.17L339.50,247.33L340.00,247.50L340.50,247.68L341.00,247.87L341.50,248.06L342.00,248.26L342.50,248.47L343.00,248.69L343.50,248.91L344.00,249.13L344.50,249.36L345.00,249.60L345.50,249.84L346.00,250.08L346.50,250.33L347.00,250.57L347.50,250.82L348.00,251.08L348.50,251.33L349.00,251.59L349.50,251.84L350.00,252.10L350.50,252.36L351.00,252.61L351.50,252.87L352.00,253.12L352.50,253.38L353.00,253.63L353.50,253.89L354.00,254.14L354.50,254.40L355.00,254.65L355.50,254.91L356.00,255.16L356.50,255.42L357.00,255.67L357.50,255.93L358.00,256.18L358.50,256.43L359.00,256.69L359.50,256.94L360.00,257.20L360.50,257.45L361.00,257.71L361.50,257.96L362.00,258.21L362.50,258.47L363.00,258.72L363.50,258.98L364.00,259.23L364.50,259.49L365.00,259.74L365.50,260.00L366.00,260.25L366.50,260.51L367.00,260.76L367.50,261.02L368.00,261.27L368.50,261.53L369.00,261.79L369.50,262.04L370.00,262.30L370.50,262.56L371.00,262.81L371.50,263.07L372.00,263.33L372.50,263.58L373.00,263.83L373.50,264.08L374.00,264.33L374.50,264.58L375.00,264.83L375.50,265.07L376.00,265.30L376.50,265.54L377.00,265.77L377.50,266.00L378.00,266.22L378.50,266.43L379.00,266.65L379.50,266.85L380.00,267.05L380.50,267.25L381.00,267.43L381.50,267.61L382.00,267.79L382.50,267.95L383.00,268.11L383.50,268.26L384.00,268.40L384.50,268.53L385.00,268.65L385.50,268.77L386.00,268.87L386.50,268.97L387.00,269.05L387.50,269.12L388.00,269.18L388.50,269.23L389.00,269.27L389.50,269.30L390.00,269.31L390.50,269.31L391.00,269.30L391.50,269.27L392.00,269.24L392.50,269.19L393.00,269.13L393.50,269.06L394.00,268.98L394.50,268.89L395.00,268.79L395.50,268.69L396.00,268.58L396.50,268.47L397.00,268.35L397.50,268.23L398.00,268.11L398.50,267.98L399.00,267.85L399.50,267.73L400.00,267.60L400.50,267.47L401.00,267.35L401.50,267.23L402.00,267.11L402.50,266.99L403.00,266.87L403.50,266.75L404.00,266.63L404.50,266.52L405.00,266.40L405.50,266.29L406.00,266.17L406.50,266.06L407.00,265.95L407.50,265.84L408.00,265.73L408.50,265.62L409.00,265.51L409.50,265.41L410.00,265.30L410.50,265.19L411.00,265.09L411.50,264.98L412.00,264.88L412.50,264.78L413.00,264.68L413.50,264.58L414.00,264.48L414.50,264.39L415.00,264.29L415.50,264.20L416.00,264.11L416.50,264.03L417.00,263.94L417.50,263.86L418.00,263.78L418.50,263.71L419.00,263.63L419.50,263.57L420.00,263.50L420.50,263.44L421.00,263.38L421.50,263.32L422.00,263.27L422.50,263.22L423.00,263.18L423.50,263.13L424.00,263.09L424.50,263.05L425.00,263.02L425.50,262.98L426.00,262.95L426.50,262.92L427.00,262.89L427.50,262.86L428.00,262.83L428.50,262.80L429.00,262.78L429.50,262.75L430.00,262.73L430.50,262.70" stroke="#111" stroke-width="1.15" fill="none"/>
<path d="M236.00,286.80L236.50,286.74L237.00,286.69L237.50,286.63L238.00,286.57L238.50,286.52L239.00,286.46L239.50,286.40L240.00,286.34L240.50,286.29L241.00,286.23L241.50,286.17L242.00,286.11L242.50,286.05L243.00,285.98L243.50,285.92L244.00,285.86L244.50,285.79L245.00,285.73L245.50,285.66L246.00,285.59L246.50,285.52L247.00,285.45L247.50,285.38L248.00,285.31L248.50,285.24L249.00,285.16L249.50,285.08L250.00,285.00L250.50,284.92L251.00,284.84L251.50,284.76L252.00,284.67L252.50,284.58L253.00,284.49L253.50,284.40L254.00,284.31L254.50,284.21L255.00,284.11L255.50,284.01L256.00,283.91L256.50,283.81L257.00,283.70L257.50,283.59L258.00,283.48L258.50,283.36L259.00,283.24L259.50,283.12L260.00,283.00L260.50,282.87L261.00,282.74L261.50,282.61L262.00,282.48L262.50,282.34L263.00,282.20L263.50,282.06L264.00,281.92L264.50,281.78L265.00,281.63L265.50,281.48L266.00,281.33L266.50,281.18L267.00,281.02L267.50,280.87L268.00,280.71L268.50,280.56L269.00,280.40L269.50,280.24L270.00,280.08L270.50,279.92L271.00,279.76L271.50,279.60L272.00,279.44L272.50,279.28L273.00,279.11L273.50,278.95L274.00,278.79L274.50,278.63L275.00,278.47L275.50,278.31L276.00,278.15L276.50,277.99L277.00,277.83L277.50,277.67L278.00,277.52L278.50,277.36L279.00,277.21L279.50,277.05L280.00,276.90L280.50,276.75L281.00,276.60L281.50,276.45L282.00,276.30L282.50,276.16L283.00,276.01L283.50,275.86L284.00,275.71L284.50,275.57L285.00,275.42L285.50,275.26L286.00,275.11L286.50,274.96L287.00,274.80L287.50,274.64L288.00,274.47L288.50,274.31L289.00,274.14L289.50,273.96L290.00,273.78L290.50,273.60L291.00,273.41L291.50,273.22L292.00,273.02L292.50,272.82L293.00,272.61L293.50,272.39L294.00,272.17L294.50,271.94L295.00,271.70L295.50,271.46L296.00,271.20L296.50,270.95L297.00,270.68L297.50,270.42L298.00,270.15L298.50,269.87L299.00,269.59L299.50,269.31L300.00,269.03L300.50,268.75L301.00,268.47L301.50,268.19L302.00,267.92L302.50,267.64L303.00,267.37L303.50,267.10L304.00,266.84L304.50,266.58L305.00,266.33L305.50,266.08L306.00,265.85L306.50,265.62L307.00,265.40L307.50,265.19L308.00,264.99L308.50,264.80L309.00,264.62L309.50,264.45L310.00,264.30L310.50,264.16L311.00,264.04L311.50,263.92L312.00,263.82L312.50,263.74L313.00,263.66L313.50,263.60L314.00,263.55L314.50,263.51L315.00,263.47L315.50,263.45L316.00,263.44L316.50,263.44L317.00,263.45L317.50,263.46L318.00,263.48L318.50,263.51L319.00,263.55L319.50,263.60L320.00,263.65L320.50,263.71L321.00,263.78L321.50,263.86L322.00,263.95L322.50,264.05L323.00,264.15L323.50,264.27L324.00,264.40L324.50,264.53L325.00,264.68L325.50,264.83L326.00,265.00L326.50,265.18L327.00,265.37L327.50,265.56L328.00,265.77L328.50,265.98L329.00,266.19L329.50,266.41L330.00,266.64L330.50,266.87L331.00,267.10L331.50,267.33L332.00,267.57L332.50,267.80L333.00,268.04L333.50,268.28L334.00,268.53L334.50,268.78L335.00,269.03L335.50,269.28L336.00,269.54L336.50,269.81L337.00,270.08L337.50,270.35L338.00,270.63L338.50,270.91L339.00,271.21L339.50,271.50L340.00,271.81L340.50,272.12L341.00,272.44L341.50,272.77L342.00,273.10L342.50,273.44L343.00,273.79L343.50,274.15L344.00,274.51L344.50,274.87L345.00,275.23L345.50,275.60L346.00,275.97L346.50,276.33L347.00,276.70L347.50,277.06L348.00,277.42L348.50,277.78L349.00,278.14L349.50,278.49L350.00,278.84L350.50,279.19L351.00,279.53L351.50,279.87L352.00,280.20L352.50,280.53L353.00,280.86L353.50,281.18L354.00,281.50L354.50,281.81L355.00,282.11L355.50,282.41L356.00,282.71L356.50,282.99L357.00,283.27L357.50,283.55L358.00,283.81L358.50,284.07L359.00,284.33L359.50,284.58L360.00,284.83L360.50,285.08L361.00,285.34L361.50,285.59L362.00,285.85L362.50,286.12L363.00,286.39L363.50,286.68L364.00,286.97L364.50,287.28L365.00,287.60L365.50,287.94L366.00,288.29L366.50,288.65L367.00,289.02L367.50,289.41L368.00,289.81L368.50,290.21L369.00,290.62L369.50,291.04L370.00,291.47L370.50,291.90L371.00,292.33L371.50,292.76L372.00,293.20L372.50,293.64L373.00,294.07L373.50,294.51L374.00,294.94L374.50,295.37L375.00,295.80L375.50,296.24L376.00,296.66L376.50,297.09L377.00,297.51L377.50,297.94L378.00,298.36L378.50,298.77L379.00,299.18L379.50,299.59L380.00,300.00L380.50,300.40L381.00,300.80L381.50,301.19L382.00,301.59L382.50,301.97L383.00,302.36L383.50,302.74L384.00,303.12L384.50,303.50L385.00,303.88L385.50,304.25L386.00,304.62L386.50,304.99L387.00,305.36L387.50,305.73L388.00,306.10L388.50,306.47L389.00,306.83L389.50,307.20L389.50,307.20L390.00,306.80L390.50,306.40L391.00,306.00L391.50,305.60L392.00,305.20L392.50,304.80L393.00,304.40L393.50,304.01L394.00,303.61L394.50,303.21L395.00,302.81L395.50,302.42L396.00,302.02L396.50,301.63L397.00,301.24L397.50,300.84L398.00,300.45L398.50,300.06L399.00,299.67L399.50,299.29L400.00,298.90L400.50,298.51L401.00,298.13L401.50,297.75L402.00,297.37L402.50,296.99L403.00,296.62L403.50,296.25L404.00,295.88L404.50,295.52L405.00,295.16L405.50,294.81L406.00,294.46L406.50,294.12L407.00,293.78L407.50,293.45L408.00,293.12L408.50,292.80L409.00,292.49L409.50,292.19L410.00,291.89L410.50,291.60L411.00,291.32L411.50,291.04L412.00,290.78L412.50,290.53L413.00,290.28L413.50,290.04L414.00,289.82L414.50,289.60L415.00,289.40L415.50,289.21L416.00,289.02L416.50,288.85L417.00,288.69L417.50,288.54L418.00,288.39L418.50,288.26L419.00,288.14L419.50,288.02L420.00,287.91L420.50,287.81L421.00,287.71L421.50,287.62L422.00,287.54L422.50,287.47L423.00,287.40L423.50,287.33L424.00,287.27L424.50,287.22L425.00,287.17L425.50,287.12L426.00,287.08L426.50,287.04L427.00,287.01L427.50,286.97L428.00,286.94L428.50,286.91L429.00,286.88L429.50,286.85L430.00,286.83L430.50,286.80" stroke="#111" stroke-width="1.15" fill="none"/>
<path d="M236.00,286.80L236.50,286.76L237.00,286.72L237.50,286.68L238.00,286.65L238.50,286.61L239.00,286.57L239.50,286.53L240.00,286.49L240.50,286.45L241.00,286.41L241.50,286.37L242.00,286.34L242.50,286.30L243.00,286.26L243.50,286.22L244.00,286.18L244.50,286.14L245.00,286.10L245.50,286.05L246.00,286.01L246.50,285.97L247.00,285.93L247.50,285.89L248.00,285.85L248.50,285.80L249.00,285.76L249.50,285.72L250.00,285.67L250.50,285.63L251.00,285.59L251.50,285.54L252.00,285.50L252.50,285.45L253.00,285.40L253.50,285.36L254.00,285.31L254.50,285.26L255.00,285.21L255.50,285.16L256.00,285.12L256.50,285.07L257.00,285.02L257.50,284.96L258.00,284.91L258.50,284.86L259.00,284.81L259.50,284.75L260.00,284.70L260.50,284.65L261.00,284.59L261.50,284.53L262.00,284.48L262.50,284.42L263.00,284.36L263.50,284.30L264.00,284.24L264.50,284.18L265.00,284.12L265.50,284.05L266.00,283.99L266.50,283.92L267.00,283.86L267.50,283.79L268.00,283.72L268.50,283.65L269.00,283.58L269.50,283.50L270.00,283.43L270.50,283.35L271.00,283.28L271.50,283.20L272.00,283.12L272.50,283.03L273.00,282.95L273.50,282.87L274.00,282.78L274.50,282.69L275.00,282.60L275.50,282.51L276.00,282.41L276.50,282.32L277.00,282.22L277.50,282.12L278.00,282.01L278.50,281.90L279.00,281.79L279.50,281.67L280.00,281.55L280.50,281.42L281.00,281.29L281.50,281.15L282.00,281.01L282.50,280.86L283.00,280.70L283.50,280.54L284.00,280.36L284.50,280.19L285.00,280.00L285.50,279.81L286.00,279.60L286.50,279.39L287.00,279.17L287.50,278.95L288.00,278.71L288.50,278.47L289.00,278.21L289.50,277.95L290.00,277.68L290.50,277.40L291.00,277.11L291.50,276.81L292.00,276.50L292.50,276.18L293.00,275.86L293.50,275.52L294.00,275.18L294.50,274.82L295.00,274.46L295.50,274.10L296.00,273.72L296.50,273.34L297.00,272.95L297.50,272.56L298.00,272.15L298.50,271.75L299.00,271.34L299.50,270.92L300.00,270.50L300.50,270.08L301.00,269.65L301.50,269.23L302.00,268.81L302.50,268.40L303.00,268.00L303.50,267.62L304.00,267.26L304.50,266.92L305.00,266.60L305.50,266.31L306.00,266.05L306.50,265.81L307.00,265.59L307.50,265.39L308.00,265.21L308.50,265.04L309.00,264.89L309.50,264.74L310.00,264.60L310.50,264.46L311.00,264.33L311.50,264.21L312.00,264.09L312.50,263.98L313.00,263.88L313.50,263.78L314.00,263.70L314.50,263.63L315.00,263.57L315.50,263.52L316.00,263.48L316.50,263.46L317.00,263.45L317.50,263.46L318.00,263.48L318.50,263.52L319.00,263.57L319.50,263.65L320.00,263.73L320.50,263.84L321.00,263.95L321.50,264.08L322.00,264.22L322.50,264.36L323.00,264.52L323.50,264.69L324.00,264.86L324.50,265.04L325.00,265.23L325.50,265.42L326.00,265.62L326.50,265.82L327.00,266.03L327.50,266.26L328.00,266.51L328.50,266.79L329.00,267.09L329.50,267.43L330.00,267.81L330.50,268.23L331.00,268.70L331.50,269.22L332.00,269.79L332.50,270.39L333.00,271.02L333.50,271.67L334.00,272.33L334.50,273.00L335.00,273.65L335.50,274.30L336.00,274.93L336.50,275.54L337.00,276.12L337.50,276.68L338.00,277.20L338.50,277.70L339.00,278.17L339.50,278.60L340.00,279.00L340.50,279.37L341.00,279.72L341.50,280.03L342.00,280.33L342.50,280.60L343.00,280.85L343.50,281.09L344.00,281.31L344.50,281.52L345.00,281.72L345.50,281.92L346.00,282.11L346.50,282.31L347.00,282.50L347.50,282.70L348.00,282.90L348.50,283.11L349.00,283.31L349.50,283.52L350.00,283.74L350.50,283.95L351.00,284.16L351.50,284.37L352.00,284.58L352.50,284.78L353.00,284.99L353.50,285.19L354.00,285.38L354.50,285.58L355.00,285.78L355.50,285.97L356.00,286.17L356.50,286.37L357.00,286.56L357.50,286.76L358.00,286.96L358.50,287.16L359.00,287.36L359.50,287.57L360.00,287.78L360.50,288.00L361.00,288.22L361.50,288.45L362.00,288.69L362.50,288.93L363.00,289.19L363.50,289.45L364.00,289.72L364.50,290.00L365.00,290.30L365.50,290.61L366.00,290.93L366.50,291.26L367.00,291.60L367.50,291.95L368.00,292.31L368.50,292.68L369.00,293.06L369.50,293.45L370.00,293.85L370.50,294.25L371.00,294.66L371.50,295.08L372.00,295.50L372.50,295.93L373.00,296.36L373.50,296.80L374.00,297.23L374.50,297.68L375.00,298.12L375.50,298.56L376.00,299.01L376.50,299.45L377.00,299.90L377.50,300.34L378.00,300.78L378.50,301.21L379.00,301.65L379.50,302.08L380.00,302.50L380.50,302.92L381.00,303.33L381.50,303.74L382.00,304.14L382.50,304.54L383.00,304.93L383.50,305.32L384.00,305.71L384.50,306.09L385.00,306.47L385.50,306.85L386.00,307.22L386.50,307.59L387.00,307.96L387.50,308.33L388.00,308.70L388.50,309.07L389.00,309.43L389.50,309.80L389.50,309.80L390.00,309.34L390.50,308.88L391.00,308.42L391.50,307.97L392.00,307.51L392.50,307.06L393.00,306.60L393.50,306.15L394.00,305.70L394.50,305.25L395.00,304.80L395.50,304.36L396.00,303.92L396.50,303.48L397.00,303.04L397.50,302.61L398.00,302.18L398.50,301.75L399.00,301.33L399.50,300.91L400.00,300.50L400.50,300.09L401.00,299.69L401.50,299.29L402.00,298.89L402.50,298.50L403.00,298.12L403.50,297.74L404.00,297.37L404.50,297.00L405.00,296.64L405.50,296.28L406.00,295.93L406.50,295.59L407.00,295.25L407.50,294.92L408.00,294.59L408.50,294.28L409.00,293.96L409.50,293.66L410.00,293.36L410.50,293.07L411.00,292.79L411.50,292.51L412.00,292.24L412.50,291.98L413.00,291.73L413.50,291.49L414.00,291.25L414.50,291.02L415.00,290.80L415.50,290.59L416.00,290.38L416.50,290.19L417.00,290.00L417.50,289.82L418.00,289.64L418.50,289.48L419.00,289.32L419.50,289.16L420.00,289.01L420.50,288.87L421.00,288.73L421.50,288.60L422.00,288.48L422.50,288.35L423.00,288.23L423.50,288.12L424.00,288.01L424.50,287.90L425.00,287.80L425.50,287.70L426.00,287.60L426.50,287.51L427.00,287.41L427.50,287.32L428.00,287.23L428.50,287.14L429.00,287.06L429.50,286.97L430.00,286.89L430.50,286.80" stroke="#111" stroke-width="1.15" fill="none"/>
<path d="M236.00,329.30L236.50,329.21L237.00,329.11L237.50,329.02L238.00,328.92L238.50,328.81L239.00,328.71L239.50,328.60L240.00,328.48L240.50,328.35L241.00,328.22L241.50,328.08L242.00,327.93L242.50,327.77L243.00,327.60L243.50,327.42L244.00,327.22L244.50,327.01L245.00,326.79L245.50,326.56L246.00,326.32L246.50,326.06L247.00,325.79L247.50,325.51L248.00,325.22L248.50,324.91L249.00,324.59L249.50,324.26L250.00,323.91L250.50,323.56L251.00,323.18L251.50,322.80L252.00,322.41L252.50,322.00L253.00,321.58L253.50,321.15L254.00,320.72L254.50,320.27L255.00,319.81L255.50,319.35L256.00,318.87L256.50,318.39L257.00,317.91L257.50,317.41L258.00,316.91L258.50,316.41L259.00,315.90L259.50,315.39L260.00,314.87L260.50,314.34L261.00,313.82L261.50,313.29L262.00,312.75L262.50,312.21L263.00,311.67L263.50,311.12L264.00,310.57L264.50,310.02L265.00,309.46L265.50,308.90L266.00,308.34L266.50,307.77L267.00,307.20L267.50,306.63L268.00,306.05L268.50,305.48L269.00,304.90L269.50,304.31L270.00,303.73L270.50,303.14L271.00,302.54L271.50,301.95L272.00,301.35L272.50,300.74L273.00,300.13L273.50,299.52L274.00,298.90L274.50,298.28L275.00,297.65L275.50,297.02L276.00,296.38L276.50,295.74L277.00,295.10L277.50,294.45L278.00,293.80L278.50,293.15L279.00,292.50L279.50,291.86L280.00,291.22L280.50,290.60L281.00,289.98L281.50,289.37L282.00,288.78L282.50,288.20L283.00,287.64L283.50,287.10L284.00,286.57L284.50,286.08L285.00,285.60L285.50,285.15L286.00,284.73L286.50,284.33L287.00,283.95L287.50,283.60L288.00,283.27L288.50,282.97L289.00,282.69L289.50,282.43L290.00,282.19L290.50,281.97L291.00,281.77L291.50,281.60L292.00,281.43L292.50,281.29L293.00,281.16L293.50,281.04L294.00,280.94L294.50,280.85L295.00,280.76L295.50,280.69L296.00,280.62L296.50,280.57L297.00,280.51L297.50,280.46L298.00,280.41L298.50,280.37L299.00,280.33L299.50,280.29L300.00,280.26L300.50,280.22L301.00,280.19L301.50,280.17L302.00,280.14L302.50,280.12L303.00,280.10L303.50,280.08L304.00,280.07L304.50,280.05L305.00,280.04L305.50,280.03L306.00,280.03L306.50,280.02L307.00,280.02L307.50,280.03L308.00,280.03L308.50,280.04L309.00,280.06L309.50,280.08L310.00,280.10L310.50,280.13L311.00,280.16L311.50,280.19L312.00,280.23L312.50,280.26L313.00,280.30L313.50,280.34L314.00,280.38L314.50,280.42L315.00,280.45L315.50,280.49L316.00,280.52L316.50,280.54L317.00,280.57L317.50,280.58L318.00,280.60L318.50,280.60L319.00,280.60L319.50,280.60L320.00,280.59L320.50,280.57L321.00,280.55L321.50,280.54L322.00,280.51L322.50,280.49L323.00,280.47L323.50,280.45L324.00,280.43L324.50,280.42L325.00,280.41L325.50,280.40L326.00,280.40L326.50,280.40L327.00,280.41L327.50,280.43L328.00,280.45L328.50,280.48L329.00,280.51L329.50,280.55L330.00,280.59L330.50,280.64L331.00,280.70L331.50,280.76L332.00,280.84L332.50,280.92L333.00,281.01L333.50,281.11L334.00,281.23L334.50,281.36L335.00,281.52L335.50,281.69L336.00,281.88L336.50,282.09L337.00,282.33L337.50,282.59L338.00,282.90L338.50,283.25L339.00,283.65L339.50,284.10L340.00,284.61L340.50,285.17L341.00,285.77L341.50,286.39L342.00,287.02L342.50,287.65L343.00,288.27L343.50,288.87L344.00,289.47L344.50,290.06L345.00,290.66L345.50,291.26L346.00,291.88L346.50,292.53L347.00,293.20L347.50,293.90L348.00,294.64L348.50,295.39L349.00,296.15L349.50,296.92L350.00,297.69L350.50,298.46L351.00,299.21L351.50,299.95L352.00,300.68L352.50,301.40L353.00,302.10L353.50,302.79L354.00,303.48L354.50,304.14L355.00,304.80L355.50,305.44L356.00,306.07L356.50,306.68L357.00,307.28L357.50,307.86L358.00,308.43L358.50,308.98L359.00,309.50L359.50,310.01L360.00,310.50L360.50,310.97L361.00,311.41L361.50,311.84L362.00,312.25L362.50,312.63L363.00,313.00L363.50,313.35L364.00,313.68L364.50,313.99L365.00,314.29L365.50,314.57L366.00,314.83L366.50,315.07L367.00,315.30L367.50,315.51L368.00,315.71L368.50,315.89L369.00,316.06L369.50,316.21L370.00,316.34L370.50,316.46L371.00,316.56L371.50,316.64L372.00,316.71L372.50,316.76L373.00,316.80L373.50,316.81L374.00,316.81L374.50,316.80L375.00,316.76L375.50,316.71L376.00,316.64L376.50,316.56L377.00,316.47L377.50,316.36L378.00,316.25L378.50,316.12L379.00,315.98L379.50,315.83L380.00,315.68L380.50,315.52L381.00,315.35L381.50,315.18L382.00,315.00L382.50,314.82L383.00,314.64L383.50,314.45L384.00,314.27L384.50,314.08L385.00,313.88L385.50,313.69L386.00,313.50L386.50,313.30L387.00,313.10L387.50,312.90L388.00,312.70L388.50,312.50L389.00,312.30L389.50,312.10L389.50,312.10L390.00,312.39L390.50,312.68L391.00,312.97L391.50,313.26L392.00,313.55L392.50,313.84L393.00,314.12L393.50,314.41L394.00,314.70L394.50,314.99L395.00,315.28L395.50,315.56L396.00,315.85L396.50,316.14L397.00,316.42L397.50,316.71L398.00,316.99L398.50,317.28L399.00,317.56L399.50,317.84L400.00,318.12L400.50,318.41L401.00,318.69L401.50,318.97L402.00,319.25L402.50,319.52L403.00,319.80L403.50,320.08L404.00,320.35L404.50,320.63L405.00,320.90L405.50,321.17L406.00,321.44L406.50,321.71L407.00,321.98L407.50,322.25L408.00,322.51L408.50,322.77L409.00,323.03L409.50,323.28L410.00,323.53L410.50,323.78L411.00,324.03L411.50,324.27L412.00,324.50L412.50,324.73L413.00,324.96L413.50,325.18L414.00,325.40L414.50,325.61L415.00,325.82L415.50,326.01L416.00,326.21L416.50,326.39L417.00,326.57L417.50,326.75L418.00,326.91L418.50,327.07L419.00,327.22L419.50,327.37L420.00,327.50L420.50,327.63L421.00,327.74L421.50,327.86L422.00,327.96L422.50,328.06L423.00,328.15L423.50,328.23L424.00,328.31L424.50,328.38L425.00,328.45L425.50,328.51L426.00,328.57L426.50,328.63L427.00,328.68L427.50,328.73L428.00,328.78L428.50,328.83L429.00,328.87L429.50,328.92L430.00,328.96L430.50,329.00" stroke="#111" stroke-width="1.15" fill="none"/>
<path d="M236.00,329.30L236.50,329.26L237.00,329.23L237.50,329.19L238.00,329.14L238.50,329.10L239.00,329.05L239.50,328.99L240.00,328.93L240.50,328.87L241.00,328.79L241.50,328.71L242.00,328.62L242.50,328.51L243.00,328.40L243.50,328.28L244.00,328.14L244.50,327.99L245.00,327.83L245.50,327.66L246.00,327.48L246.50,327.29L247.00,327.09L247.50,326.87L248.00,326.65L248.50,326.42L249.00,326.18L249.50,325.92L250.00,325.66L250.50,325.39L251.00,325.11L251.50,324.82L252.00,324.52L252.50,324.22L253.00,323.91L253.50,323.59L254.00,323.26L254.50,322.93L255.00,322.60L255.50,322.26L256.00,321.92L256.50,321.57L257.00,321.22L257.50,320.87L258.00,320.51L258.50,320.16L259.00,319.80L259.50,319.44L260.00,319.08L260.50,318.73L261.00,318.36L261.50,318.00L262.00,317.64L262.50,317.27L263.00,316.91L263.50,316.54L264.00,316.16L264.50,315.79L265.00,315.41L265.50,315.03L266.00,314.64L266.50,314.25L267.00,313.86L267.50,313.46L268.00,313.06L268.50,312.65L269.00,312.24L269.50,311.82L270.00,311.40L270.50,310.98L271.00,310.55L271.50,310.12L272.00,309.68L272.50,309.24L273.00,308.80L273.50,308.35L274.00,307.90L274.50,307.45L275.00,307.00L275.50,306.54L276.00,306.08L276.50,305.61L277.00,305.15L277.50,304.68L278.00,304.21L278.50,303.74L279.00,303.27L279.50,302.80L280.00,302.33L280.50,301.86L281.00,301.39L281.50,300.92L282.00,300.45L282.50,299.99L283.00,299.52L283.50,299.06L284.00,298.61L284.50,298.15L285.00,297.70L285.50,297.25L286.00,296.81L286.50,296.37L287.00,295.94L287.50,295.51L288.00,295.09L288.50,294.67L289.00,294.26L289.50,293.85L290.00,293.45L290.50,293.06L291.00,292.68L291.50,292.30L292.00,291.93L292.50,291.57L293.00,291.21L293.50,290.87L294.00,290.53L294.50,290.20L295.00,289.88L295.50,289.57L296.00,289.27L296.50,288.97L297.00,288.69L297.50,288.41L298.00,288.13L298.50,287.87L299.00,287.61L299.50,287.36L300.00,287.12L300.50,286.88L301.00,286.65L301.50,286.43L302.00,286.21L302.50,286.00L303.00,285.80L303.50,285.60L304.00,285.41L304.50,285.22L305.00,285.04L305.50,284.85L306.00,284.67L306.50,284.49L307.00,284.31L307.50,284.13L308.00,283.95L308.50,283.77L309.00,283.58L309.50,283.39L310.00,283.20L310.50,283.00L311.00,282.80L311.50,282.60L312.00,282.40L312.50,282.21L313.00,282.04L313.50,281.87L314.00,281.73L314.50,281.60L315.00,281.50L315.50,281.43L316.00,281.38L316.50,281.36L317.00,281.36L317.50,281.39L318.00,281.44L318.50,281.52L319.00,281.63L319.50,281.75L320.00,281.90L320.50,282.07L321.00,282.26L321.50,282.47L322.00,282.70L322.50,282.94L323.00,283.20L323.50,283.46L324.00,283.74L324.50,284.02L325.00,284.30L325.50,284.59L326.00,284.87L326.50,285.16L327.00,285.44L327.50,285.73L328.00,286.02L328.50,286.32L329.00,286.62L329.50,286.93L330.00,287.24L330.50,287.57L331.00,287.90L331.50,288.25L332.00,288.60L332.50,288.97L333.00,289.35L333.50,289.74L334.00,290.13L334.50,290.54L335.00,290.96L335.50,291.39L336.00,291.83L336.50,292.28L337.00,292.74L337.50,293.21L338.00,293.68L338.50,294.17L339.00,294.66L339.50,295.15L340.00,295.65L340.50,296.16L341.00,296.68L341.50,297.19L342.00,297.71L342.50,298.24L343.00,298.76L343.50,299.29L344.00,299.82L344.50,300.35L345.00,300.88L345.50,301.41L346.00,301.94L346.50,302.47L347.00,303.00L347.50,303.53L348.00,304.05L348.50,304.57L349.00,305.08L349.50,305.59L350.00,306.09L350.50,306.58L351.00,307.06L351.50,307.54L352.00,308.00L352.50,308.45L353.00,308.89L353.50,309.32L354.00,309.74L354.50,310.14L355.00,310.53L355.50,310.91L356.00,311.28L356.50,311.63L357.00,311.98L357.50,312.30L358.00,312.62L358.50,312.92L359.00,313.21L359.50,313.48L360.00,313.74L360.50,313.99L361.00,314.23L361.50,314.46L362.00,314.67L362.50,314.88L363.00,315.07L363.50,315.25L364.00,315.43L364.50,315.60L365.00,315.75L365.50,315.90L366.00,316.04L366.50,316.17L367.00,316.30L367.50,316.42L368.00,316.53L368.50,316.63L369.00,316.73L369.50,316.82L370.00,316.89L370.50,316.96L371.00,317.02L371.50,317.07L372.00,317.10L372.50,317.13L373.00,317.14L373.50,317.14L374.00,317.12L374.50,317.09L375.00,317.05L375.50,317.00L376.00,316.93L376.50,316.85L377.00,316.75L377.50,316.65L378.00,316.54L378.50,316.41L379.00,316.28L379.50,316.13L380.00,315.98L380.50,315.82L381.00,315.66L381.50,315.48L382.00,315.30L382.50,315.11L383.00,314.92L383.50,314.72L384.00,314.52L384.50,314.32L385.00,314.10L385.50,313.89L386.00,313.67L386.50,313.45L387.00,313.23L387.50,313.01L388.00,312.78L388.50,312.56L389.00,312.33L389.50,312.10L389.50,312.10L390.00,312.41L390.50,312.71L391.00,313.02L391.50,313.32L392.00,313.63L392.50,313.93L393.00,314.24L393.50,314.54L394.00,314.84L394.50,315.15L395.00,315.45L395.50,315.75L396.00,316.05L396.50,316.35L397.00,316.65L397.50,316.95L398.00,317.25L398.50,317.55L399.00,317.84L399.50,318.14L400.00,318.43L400.50,318.72L401.00,319.02L401.50,319.31L402.00,319.60L402.50,319.88L403.00,320.17L403.50,320.45L404.00,320.74L404.50,321.02L405.00,321.30L405.50,321.58L406.00,321.86L406.50,322.13L407.00,322.40L407.50,322.67L408.00,322.94L408.50,323.20L409.00,323.46L409.50,323.72L410.00,323.97L410.50,324.22L411.00,324.47L411.50,324.71L412.00,324.94L412.50,325.17L413.00,325.40L413.50,325.62L414.00,325.84L414.50,326.05L415.00,326.25L415.50,326.45L416.00,326.64L416.50,326.82L417.00,327.00L417.50,327.17L418.00,327.33L418.50,327.48L419.00,327.63L419.50,327.77L420.00,327.90L420.50,328.02L421.00,328.14L421.50,328.24L422.00,328.34L422.50,328.43L423.00,328.52L423.50,328.60L424.00,328.67L424.50,328.74L425.00,328.80L425.50,328.86L426.00,328.92L426.50,328.97L427.00,329.02L427.50,329.06L428.00,329.11L428.50,329.15L429.00,329.19L429.50,329.23L430.00,329.26L430.50,329.30" stroke="#111" stroke-width="1.15" fill="none"/>
</g>
<path d="M470.00,263.70L470.50,263.59L471.00,263.49L471.50,263.38L472.00,263.27L472.50,263.17L473.00,263.06L473.50,262.95L474.01,262.83L474.51,262.72L475.01,262.61L475.51,262.49L476.01,262.37L476.51,262.25L477.01,262.12L477.51,261.99L478.01,261.86L478.51,261.72L479.01,261.59L479.51,261.44L480.01,261.30L480.51,261.15L481.01,260.99L481.51,260.83L482.02,260.67L482.52,260.50L483.02,260.33L483.52,260.15L484.02,259.98L484.52,259.79L485.02,259.61L485.52,259.42L486.02,259.23L486.52,259.03L487.02,258.84L487.52,258.63L488.02,258.43L488.52,258.22L489.02,258.01L489.53,257.80L490.03,257.59L490.53,257.37L491.03,257.15L491.53,256.93L492.03,256.71L492.53,256.48L493.03,256.26L493.53,256.03L494.03,255.80L494.53,255.57L495.03,255.34L495.53,255.10L496.03,254.87L496.53,254.64L497.03,254.40L497.54,254.16L498.04,253.93L498.54,253.69L499.04,253.46L499.54,253.22L500.04,252.98L500.54,252.75L501.04,252.51L501.54,252.27L502.04,252.04L502.54,251.80L503.04,251.57L503.54,251.33L504.04,251.10L504.54,250.86L505.05,250.63L505.55,250.39L506.05,250.16L506.55,249.92L507.05,249.69L507.55,249.45L508.05,249.22L508.55,248.98L509.05,248.75L509.55,248.51L510.05,248.28L510.55,248.04L511.05,247.80L511.55,247.57L512.05,247.33L512.55,247.10L513.06,246.86L513.56,246.63L514.06,246.39L514.56,246.16L515.06,245.92L515.56,245.68L516.06,245.45L516.56,245.21L517.06,244.98L517.56,244.74L518.06,244.51L518.56,244.27L519.06,244.04L519.56,243.80L520.06,243.57L520.57,243.34L521.07,243.10L521.57,242.87L522.07,242.64L522.57,242.42L523.07,242.19L523.57,241.97L524.07,241.76L524.57,241.55L525.07,241.35L525.57,241.15L526.07,240.96L526.57,240.77L527.07,240.60L527.57,240.43L528.07,240.28L528.58,240.13L529.08,239.99L529.58,239.87L530.08,239.75L530.58,239.64L531.08,239.54L531.58,239.45L532.08,239.36L532.58,239.29L533.08,239.23L533.58,239.17L534.08,239.12L534.58,239.08L535.08,239.05L535.58,239.02L536.09,239.01L536.59,239.00L537.09,239.00L537.59,239.00L538.09,239.01L538.59,239.04L539.09,239.06L539.59,239.10L540.09,239.15L540.59,239.20L541.09,239.26L541.59,239.34L542.09,239.42L542.59,239.50L543.09,239.60L543.59,239.71L544.10,239.82L544.60,239.93L545.10,240.05L545.60,240.18L546.10,240.30L546.60,240.44L547.10,240.57L547.60,240.70" stroke="#111" stroke-width="1.15" fill="none"/>
<path d="M470.00,263.70L470.50,263.70L471.00,263.71L471.50,263.71L472.00,263.71L472.50,263.71L473.00,263.71L473.50,263.70L474.01,263.70L474.51,263.69L475.01,263.68L475.51,263.67L476.01,263.66L476.51,263.64L477.01,263.62L477.51,263.59L478.01,263.56L478.51,263.53L479.01,263.49L479.51,263.45L480.01,263.40L480.51,263.35L481.01,263.29L481.51,263.22L482.02,263.15L482.52,263.08L483.02,263.00L483.52,262.92L484.02,262.84L484.52,262.75L485.02,262.66L485.52,262.56L486.02,262.46L486.52,262.36L487.02,262.26L487.52,262.15L488.02,262.04L488.52,261.93L489.02,261.82L489.53,261.71L490.03,261.59L490.53,261.48L491.03,261.36L491.53,261.24L492.03,261.12L492.53,261.00L493.03,260.88L493.53,260.76L494.03,260.63L494.53,260.51L495.03,260.38L495.53,260.25L496.03,260.12L496.53,259.98L497.03,259.85L497.54,259.71L498.04,259.57L498.54,259.43L499.04,259.28L499.54,259.14L500.04,258.99L500.54,258.84L501.04,258.68L501.54,258.53L502.04,258.37L502.54,258.21L503.04,258.05L503.54,257.88L504.04,257.71L504.54,257.55L505.05,257.37L505.55,257.20L506.05,257.03L506.55,256.85L507.05,256.68L507.55,256.50L508.05,256.32L508.55,256.13L509.05,255.95L509.55,255.77L510.05,255.58L510.55,255.39L511.05,255.21L511.55,255.02L512.05,254.83L512.55,254.63L513.06,254.44L513.56,254.25L514.06,254.05L514.56,253.85L515.06,253.65L515.56,253.45L516.06,253.25L516.56,253.05L517.06,252.84L517.56,252.63L518.06,252.42L518.56,252.21L519.06,252.00L519.56,251.79L520.06,251.57L520.57,251.35L521.07,251.13L521.57,250.91L522.07,250.69L522.57,250.47L523.07,250.25L523.57,250.02L524.07,249.80L524.57,249.57L525.07,249.35L525.57,249.13L526.07,248.90L526.57,248.68L527.07,248.46L527.57,248.24L528.07,248.02L528.58,247.80L529.08,247.59L529.58,247.38L530.08,247.17L530.58,246.96L531.08,246.76L531.58,246.55L532.08,246.35L532.58,246.16L533.08,245.96L533.58,245.77L534.08,245.57L534.58,245.38L535.08,245.19L535.58,245.01L536.09,244.82L536.59,244.64L537.09,244.45L537.59,244.27L538.09,244.09L538.59,243.91L539.09,243.73L539.59,243.55L540.09,243.37L540.59,243.19L541.09,243.01L541.59,242.83L542.09,242.65L542.59,242.47L543.09,242.30L543.59,242.12L544.10,241.94L544.60,241.76L545.10,241.59L545.60,241.41L546.10,241.23L546.60,241.05L547.10,240.88L547.60,240.70" stroke="#111" stroke-width="1.15" fill="none"/>
<path d="M470.00,299.30L470.50,299.17L471.00,299.05L471.50,298.92L472.00,298.80L472.50,298.67L473.00,298.54L473.50,298.41L474.01,298.28L474.51,298.15L475.01,298.02L475.51,297.89L476.01,297.76L476.51,297.62L477.01,297.48L477.51,297.34L478.01,297.20L478.51,297.06L479.01,296.92L479.51,296.77L480.01,296.62L480.51,296.47L481.01,296.31L481.51,296.16L482.02,295.99L482.52,295.83L483.02,295.67L483.52,295.50L484.02,295.32L484.52,295.15L485.02,294.97L485.52,294.79L486.02,294.61L486.52,294.42L487.02,294.23L487.52,294.03L488.02,293.84L488.52,293.64L489.02,293.44L489.53,293.23L490.03,293.02L490.53,292.81L491.03,292.60L491.53,292.38L492.03,292.16L492.53,291.94L493.03,291.72L493.53,291.49L494.03,291.26L494.53,291.02L495.03,290.78L495.53,290.54L496.03,290.30L496.53,290.06L497.03,289.81L497.54,289.56L498.04,289.30L498.54,289.05L499.04,288.79L499.54,288.53L500.04,288.26L500.54,288.00L501.04,287.73L501.54,287.46L502.04,287.19L502.54,286.92L503.04,286.64L503.54,286.36L504.04,286.08L504.54,285.80L505.05,285.52L505.55,285.23L506.05,284.95L506.55,284.66L507.05,284.37L507.55,284.08L508.05,283.79L508.55,283.50L509.05,283.21L509.55,282.91L510.05,282.61L510.55,282.32L511.05,282.02L511.55,281.72L512.05,281.42L512.55,281.12L513.06,280.82L513.56,280.52L514.06,280.22L514.56,279.91L515.06,279.61L515.56,279.30L516.06,279.00L516.56,278.69L517.06,278.39L517.56,278.08L518.06,277.77L518.56,277.47L519.06,277.16L519.56,276.85L520.06,276.55L520.57,276.24L521.07,275.93L521.57,275.63L522.07,275.32L522.57,275.01L523.07,274.71L523.57,274.40L524.07,274.10L524.57,273.80L525.07,273.49L525.57,273.19L526.07,272.89L526.57,272.59L527.07,272.29L527.57,271.99L528.07,271.70L528.58,271.40L529.08,271.11L529.58,270.82L530.08,270.53L530.58,270.24L531.08,269.96L531.58,269.67L532.08,269.39L532.58,269.11L533.08,268.84L533.58,268.58L534.08,268.32L534.58,268.07L535.08,267.83L535.58,267.59L536.09,267.37L536.59,267.16L537.09,266.97L537.59,266.78L538.09,266.61L538.59,266.46L539.09,266.31L539.59,266.18L540.09,266.05L540.59,265.94L541.09,265.83L541.59,265.73L542.09,265.64L542.59,265.56L543.09,265.49L543.59,265.42L544.10,265.35L544.60,265.29L545.10,265.24L545.60,265.19L546.10,265.14L546.60,265.09L547.10,265.05L547.60,265.00" stroke="#111" stroke-width="1.15" fill="none"/>
<path d="M470.00,299.30L470.50,299.29L471.00,299.27L471.50,299.26L472.00,299.25L472.50,299.23L473.00,299.21L473.50,299.20L474.01,299.17L474.51,299.15L475.01,299.13L475.51,299.10L476.01,299.07L476.51,299.04L477.01,299.00L477.51,298.96L478.01,298.92L478.51,298.87L479.01,298.82L479.51,298.76L480.01,298.70L480.51,298.63L481.01,298.56L481.51,298.48L482.02,298.40L482.52,298.31L483.02,298.21L483.52,298.11L484.02,298.00L484.52,297.89L485.02,297.77L485.52,297.65L486.02,297.52L486.52,297.39L487.02,297.26L487.52,297.12L488.02,296.98L488.52,296.84L489.02,296.69L489.53,296.54L490.03,296.39L490.53,296.23L491.03,296.08L491.53,295.92L492.03,295.76L492.53,295.60L493.03,295.44L493.53,295.28L494.03,295.11L494.53,294.95L495.03,294.79L495.53,294.63L496.03,294.47L496.53,294.31L497.03,294.14L497.54,293.98L498.04,293.82L498.54,293.66L499.04,293.51L499.54,293.35L500.04,293.19L500.54,293.03L501.04,292.87L501.54,292.71L502.04,292.55L502.54,292.40L503.04,292.24L503.54,292.08L504.04,291.93L504.54,291.77L505.05,291.61L505.55,291.45L506.05,291.30L506.55,291.14L507.05,290.99L507.55,290.83L508.05,290.67L508.55,290.51L509.05,290.35L509.55,290.18L510.05,290.01L510.55,289.83L511.05,289.65L511.55,289.45L512.05,289.25L512.55,289.03L513.06,288.81L513.56,288.57L514.06,288.32L514.56,288.06L515.06,287.77L515.56,287.48L516.06,287.16L516.56,286.83L517.06,286.47L517.56,286.10L518.06,285.70L518.56,285.28L519.06,284.84L519.56,284.37L520.06,283.87L520.57,283.34L521.07,282.79L521.57,282.20L522.07,281.59L522.57,280.94L523.07,280.28L523.57,279.61L524.07,278.92L524.57,278.23L525.07,277.54L525.57,276.85L526.07,276.17L526.57,275.51L527.07,274.86L527.57,274.24L528.07,273.63L528.58,273.05L529.08,272.49L529.58,271.96L530.08,271.45L530.58,270.98L531.08,270.53L531.58,270.12L532.08,269.74L532.58,269.39L533.08,269.06L533.58,268.76L534.08,268.48L534.58,268.22L535.08,267.98L535.58,267.76L536.09,267.55L536.59,267.35L537.09,267.17L537.59,266.99L538.09,266.82L538.59,266.66L539.09,266.51L539.59,266.37L540.09,266.23L540.59,266.11L541.09,265.99L541.59,265.87L542.09,265.77L542.59,265.67L543.09,265.58L543.59,265.50L544.10,265.42L544.60,265.35L545.10,265.29L545.60,265.23L546.10,265.17L546.60,265.11L547.10,265.05L547.60,265.00" stroke="#111" stroke-width="1.15" fill="none"/>
<path d="M470.00,363.00L470.50,362.93L471.00,362.87L471.50,362.80L472.00,362.72L472.50,362.64L473.00,362.54L473.50,362.44L474.01,362.33L474.51,362.20L475.01,362.06L475.51,361.90L476.01,361.72L476.51,361.53L477.01,361.31L477.51,361.06L478.01,360.79L478.51,360.50L479.01,360.18L479.51,359.83L480.01,359.46L480.51,359.07L481.01,358.65L481.51,358.22L482.02,357.76L482.52,357.29L483.02,356.79L483.52,356.29L484.02,355.76L484.52,355.22L485.02,354.67L485.52,354.10L486.02,353.53L486.52,352.94L487.02,352.34L487.52,351.73L488.02,351.12L488.52,350.49L489.02,349.85L489.53,349.20L490.03,348.54L490.53,347.88L491.03,347.20L491.53,346.51L492.03,345.81L492.53,345.10L493.03,344.38L493.53,343.65L494.03,342.91L494.53,342.16L495.03,341.40L495.53,340.62L496.03,339.84L496.53,339.05L497.03,338.24L497.54,337.43L498.04,336.60L498.54,335.77L499.04,334.93L499.54,334.07L500.04,333.21L500.54,332.33L501.04,331.45L501.54,330.56L502.04,329.66L502.54,328.75L503.04,327.83L503.54,326.90L504.04,325.96L504.54,325.02L505.05,324.07L505.55,323.11L506.05,322.14L506.55,321.17L507.05,320.19L507.55,319.20L508.05,318.21L508.55,317.21L509.05,316.20L509.55,315.19L510.05,314.18L510.55,313.16L511.05,312.15L511.55,311.13L512.05,310.12L512.55,309.10L513.06,308.09L513.56,307.08L514.06,306.08L514.56,305.09L515.06,304.12L515.56,303.18L516.06,302.26L516.56,301.37L517.06,300.52L517.56,299.71L518.06,298.95L518.56,298.23L519.06,297.57L519.56,296.96L520.06,296.39L520.57,295.87L521.07,295.38L521.57,294.94L522.07,294.52L522.57,294.14L523.07,293.79L523.57,293.46L524.07,293.16L524.57,292.87L525.07,292.60L525.57,292.35L526.07,292.12L526.57,291.90L527.07,291.69L527.57,291.50L528.07,291.33L528.58,291.17L529.08,291.03L529.58,290.90L530.08,290.78L530.58,290.68L531.08,290.60L531.58,290.52L532.08,290.46L532.58,290.41L533.08,290.37L533.58,290.34L534.08,290.32L534.58,290.31L535.08,290.30L535.58,290.30L536.09,290.31L536.59,290.32L537.09,290.33L537.59,290.35L538.09,290.38L538.59,290.41L539.09,290.44L539.59,290.48L540.09,290.52L540.59,290.56L541.09,290.61L541.59,290.66L542.09,290.71L542.59,290.77L543.09,290.82L543.59,290.88L544.10,290.94L544.60,291.01L545.10,291.07L545.60,291.13L546.10,291.20L546.60,291.27L547.10,291.33L547.60,291.40" stroke="#111" stroke-width="1.15" fill="none"/>
<path d="M470.00,363.00L470.50,362.96L471.00,362.92L471.50,362.88L472.00,362.84L472.50,362.79L473.00,362.74L473.50,362.68L474.01,362.62L474.51,362.55L475.01,362.47L475.51,362.39L476.01,362.29L476.51,362.18L477.01,362.07L477.51,361.94L478.01,361.80L478.51,361.64L479.01,361.47L479.51,361.29L480.01,361.09L480.51,360.88L481.01,360.66L481.51,360.42L482.02,360.17L482.52,359.91L483.02,359.64L483.52,359.35L484.02,359.04L484.52,358.73L485.02,358.40L485.52,358.06L486.02,357.70L486.52,357.34L487.02,356.96L487.52,356.56L488.02,356.16L488.52,355.74L489.02,355.31L489.53,354.87L490.03,354.41L490.53,353.94L491.03,353.46L491.53,352.97L492.03,352.47L492.53,351.95L493.03,351.42L493.53,350.88L494.03,350.33L494.53,349.76L495.03,349.18L495.53,348.59L496.03,347.99L496.53,347.38L497.03,346.76L497.54,346.12L498.04,345.47L498.54,344.81L499.04,344.15L499.54,343.47L500.04,342.79L500.54,342.09L501.04,341.39L501.54,340.69L502.04,339.98L502.54,339.26L503.04,338.54L503.54,337.82L504.04,337.09L504.54,336.36L505.05,335.63L505.55,334.90L506.05,334.17L506.55,333.43L507.05,332.70L507.55,331.98L508.05,331.25L508.55,330.52L509.05,329.80L509.55,329.08L510.05,328.37L510.55,327.66L511.05,326.95L511.55,326.24L512.05,325.53L512.55,324.83L513.06,324.13L513.56,323.44L514.06,322.74L514.56,322.05L515.06,321.37L515.56,320.68L516.06,320.00L516.56,319.33L517.06,318.65L517.56,317.98L518.06,317.32L518.56,316.65L519.06,315.99L519.56,315.34L520.06,314.69L520.57,314.04L521.07,313.40L521.57,312.76L522.07,312.13L522.57,311.51L523.07,310.89L523.57,310.28L524.07,309.68L524.57,309.08L525.07,308.49L525.57,307.91L526.07,307.34L526.57,306.78L527.07,306.23L527.57,305.69L528.07,305.16L528.58,304.63L529.08,304.12L529.58,303.62L530.08,303.13L530.58,302.66L531.08,302.19L531.58,301.73L532.08,301.29L532.58,300.85L533.08,300.42L533.58,300.01L534.08,299.60L534.58,299.20L535.08,298.81L535.58,298.44L536.09,298.06L536.59,297.70L537.09,297.35L537.59,297.01L538.09,296.67L538.59,296.34L539.09,296.02L539.59,295.71L540.09,295.40L540.59,295.10L541.09,294.81L541.59,294.52L542.09,294.24L542.59,293.97L543.09,293.70L543.59,293.43L544.10,293.17L544.60,292.91L545.10,292.66L545.60,292.40L546.10,292.15L546.60,291.90L547.10,291.65L547.60,291.40" stroke="#111" stroke-width="1.15" fill="none"/>
<defs>
<linearGradient id="hmblue" x1="0" y1="208" x2="0" y2="254" gradientUnits="userSpaceOnUse"><stop offset="0" stop-color="#4a6ef0"/><stop offset="0.4" stop-color="#587af0"/><stop offset="0.65" stop-color="#7a96f2"/><stop offset="0.85" stop-color="#b4c4f6"/><stop offset="1" stop-color="#ffffff"/></linearGradient>
<linearGradient id="cbar" x1="0" y1="0" x2="0" y2="1"><stop offset="0.0109" stop-color="#ff0000"/><stop offset="0.1203" stop-color="#f23c3c"/><stop offset="0.2297" stop-color="#f47272"/><stop offset="0.3391" stop-color="#f8aaaa"/><stop offset="0.4485" stop-color="#fde4e4"/><stop offset="0.5031" stop-color="#ffffff"/><stop offset="0.5578" stop-color="#eaeefc"/><stop offset="0.6672" stop-color="#c4d0f8"/><stop offset="0.7766" stop-color="#90a8f4"/><stop offset="0.8860" stop-color="#5a7cf0"/><stop offset="0.9954" stop-color="#1f50f0"/></linearGradient>
<linearGradient id="hmblue2" x1="548" y1="208" x2="623" y2="253" gradientUnits="userSpaceOnUse"><stop offset="0" stop-color="#4068f0" stop-opacity="0.35"/><stop offset="1" stop-color="#a0b4f6" stop-opacity="0.35"/></linearGradient>
<filter id="bl1" x="-20%" y="-20%" width="140%" height="140%"><feGaussianBlur stdDeviation="1.2"/></filter>
<filter id="bl2" x="-20%" y="-20%" width="140%" height="140%"><feGaussianBlur stdDeviation="2.5"/></filter>
<filter id="bl05" x="-20%" y="-20%" width="140%" height="140%"><feGaussianBlur stdDeviation="0.6"/></filter>
<clipPath id="hmclip"><rect x="548.2" y="208.2" width="74.2" height="155"/></clipPath>
</defs>
<g clip-path="url(#hmclip)">
<rect x="548" y="208" width="75" height="156" fill="#f6a8a8"/>
<rect x="548" y="287" width="75" height="28" fill="#f48282" filter="url(#bl2)"/>
<path d="M548,322 C556,333 566,349 580,353.5 C592,356 604,346 622,322 L622,316 C600,318 570,318 548,318 Z" fill="#fcd8d8" filter="url(#bl2)"/>
<path d="M548,340.8 C558,346 568,351 578,353.6 C588,356 600,352 606,346 C612,339 617,330 622,321.7" stroke="#f39292" stroke-width="2.6" fill="none" filter="url(#bl1)"/>
<path d="M550,330 C565,326 585,321 602,317" stroke="#f59c9c" stroke-width="1.5" fill="none" filter="url(#bl1)"/>
<path d="M548,236 C560,237 580,241 600,247 C612,251 618,253 623,254.5 L623,268 C614,266 606,262 596,256 C588,251 578,246 560,242 C554,241 550,240.5 548,240.5 Z" fill="#fbd4d4" filter="url(#bl2)"/>
<path d="M598,256 C606,262 612,264 623,265 L623,276 L612,276 C606,273 601,266 598,256 Z" fill="#fde6e6" filter="url(#bl2)"/>
<path d="M566,244 C578,251 588,262 596,272 C599,276 602,278.5 606,279.2" stroke="#f5a4a4" stroke-width="4.5" fill="none" filter="url(#bl2)"/>
<path d="M570,247 C580,254 588,263 596,273 C599,276.5 602,278.5 606,279.2" stroke="#f49494" stroke-width="1.6" fill="none" filter="url(#bl1)"/>
<path d="M548,208 L623,208 L623,253.5 C615,251.5 608,248.5 600,245.8 C585,240.8 570,237 560,235.6 C555,235 551,234.8 548,234.8 Z" fill="url(#hmblue)"/>
<path d="M548,208 L623,208 L623,253.5 C615,251.5 608,248.5 600,245.8 C585,240.8 570,237 560,235.6 C555,235 551,234.8 548,234.8 Z" fill="url(#hmblue2)"/>
<path d="M548,234.8 C551,234.8 555,235 560,235.6 C570,237 585,240.8 600,245.8 C608,248.5 615,251.5 623,253.5" stroke="#ffffff" stroke-width="2.6" fill="none" filter="url(#bl1)"/>
<path d="M590,276 C598,278.5 606,279 623,279.3" stroke="#f24848" stroke-width="3.4" fill="none" filter="url(#bl1)"/>
<path d="M606,279.1 C612,279.1 617,279.2 623,279.3" stroke="#ee1818" stroke-width="1.6" fill="none" filter="url(#bl05)"/>
<path d="M600,285.5 C607,282 615,281.5 623,281.8 L623,296.5 C614,295.5 606,292 600,285.5 Z" fill="#f4f6fd" filter="url(#bl05)"/>
<path d="M548,292.3 C570,292.5 590,294 605,296.5 C612,298 618,299.4 623,299.8" stroke="#f03a3a" stroke-width="3.4" fill="none" filter="url(#bl1)"/>
<path d="M560,298 C585,298.3 605,299.2 623,300" stroke="#f24848" stroke-width="5" fill="none" filter="url(#bl2)"/>
<path d="M548,305 C575,305 600,304.5 623,304" stroke="#f8b8b8" stroke-width="1.6" fill="none" filter="url(#bl05)"/>
<path d="M548,313.7 C575,312.5 600,310.5 623,309" stroke="#f25c5c" stroke-width="3" fill="none" filter="url(#bl1)"/>
</g>
<line x1="619.5" y1="233.5" x2="622.3" y2="233.5" stroke="#333" stroke-width="0.8"/>
<line x1="619.5" y1="259.4" x2="622.3" y2="259.4" stroke="#333" stroke-width="0.8"/>
<line x1="619.5" y1="285.3" x2="622.3" y2="285.3" stroke="#333" stroke-width="0.8"/>
<line x1="619.5" y1="311.4" x2="622.3" y2="311.4" stroke="#333" stroke-width="0.8"/>
<line x1="619.5" y1="337.5" x2="622.3" y2="337.5" stroke="#333" stroke-width="0.8"/>
<line x1="548.2" y1="363.1" x2="622.4" y2="363.1" stroke="#555" stroke-width="0.9"/>
<line x1="622.4" y1="208.2" x2="622.4" y2="363.1" stroke="#888" stroke-width="0.6"/>
<rect x="625.9" y="207.9" width="7.8" height="155.6" fill="url(#cbar)" stroke="#555" stroke-width="0.6"/>
<text x="639" y="212.1" font-size="7.2" font-weight="normal" font-style="normal" text-anchor="start" fill="#222" >8</text>
<text x="639" y="229.12" font-size="7.2" font-weight="normal" font-style="normal" text-anchor="start" fill="#222" >7</text>
<line x1="626" y1="226.6" x2="627.8" y2="226.6" stroke="#444" stroke-width="0.7"/>
<line x1="631.8" y1="226.6" x2="633.6" y2="226.6" stroke="#444" stroke-width="0.7"/>
<text x="639" y="246.14" font-size="7.2" font-weight="normal" font-style="normal" text-anchor="start" fill="#222" >6</text>
<line x1="626" y1="243.6" x2="627.8" y2="243.6" stroke="#444" stroke-width="0.7"/>
<line x1="631.8" y1="243.6" x2="633.6" y2="243.6" stroke="#444" stroke-width="0.7"/>
<text x="639" y="263.15999999999997" font-size="7.2" font-weight="normal" font-style="normal" text-anchor="start" fill="#222" >5</text>
<line x1="626" y1="260.7" x2="627.8" y2="260.7" stroke="#444" stroke-width="0.7"/>
<line x1="631.8" y1="260.7" x2="633.6" y2="260.7" stroke="#444" stroke-width="0.7"/>
<text x="639" y="280.18" font-size="7.2" font-weight="normal" font-style="normal" text-anchor="start" fill="#222" >4</text>
<line x1="626" y1="277.7" x2="627.8" y2="277.7" stroke="#444" stroke-width="0.7"/>
<line x1="631.8" y1="277.7" x2="633.6" y2="277.7" stroke="#444" stroke-width="0.7"/>
<text x="639" y="297.2" font-size="7.2" font-weight="normal" font-style="normal" text-anchor="start" fill="#222" >3</text>
<line x1="626" y1="294.7" x2="627.8" y2="294.7" stroke="#444" stroke-width="0.7"/>
<line x1="631.8" y1="294.7" x2="633.6" y2="294.7" stroke="#444" stroke-width="0.7"/>
<text x="639" y="314.22" font-size="7.2" font-weight="normal" font-style="normal" text-anchor="start" fill="#222" >2</text>
<line x1="626" y1="311.7" x2="627.8" y2="311.7" stroke="#444" stroke-width="0.7"/>
<line x1="631.8" y1="311.7" x2="633.6" y2="311.7" stroke="#444" stroke-width="0.7"/>
<text x="639" y="331.24" font-size="7.2" font-weight="normal" font-style="normal" text-anchor="start" fill="#222" >1</text>
<line x1="626" y1="328.7" x2="627.8" y2="328.7" stroke="#444" stroke-width="0.7"/>
<line x1="631.8" y1="328.7" x2="633.6" y2="328.7" stroke="#444" stroke-width="0.7"/>
<text x="639" y="348.26" font-size="7.2" font-weight="normal" font-style="normal" text-anchor="start" fill="#222" >0</text>
<line x1="626" y1="345.8" x2="627.8" y2="345.8" stroke="#444" stroke-width="0.7"/>
<line x1="631.8" y1="345.8" x2="633.6" y2="345.8" stroke="#444" stroke-width="0.7"/>
<text x="637.5" y="365.28" font-size="7.2" font-weight="normal" font-style="normal" text-anchor="start" fill="#222" >-1</text>
<line x1="622.5" y1="279.3" x2="640.5" y2="279.3" stroke="#6b2db8" stroke-width="1.8"/>
<path d="M618.5,279.3 L624.5,276.3 L624.5,282.3 Z" fill="#6b2db8"/>
<line x1="622.5" y1="299.4" x2="640.5" y2="299.4" stroke="#6b2db8" stroke-width="1.8"/>
<path d="M618.5,299.4 L624.5,296.4 L624.5,302.4 Z" fill="#6b2db8"/>
<text x="539" y="374.5" font-size="8.5">Γ / Γ</text>
<line x1="551" y1="366.5" x2="557" y2="366.5" stroke="#000" stroke-width="0.7"/>
<text x="614.5" y="374" font-size="8.5" font-weight="normal" font-style="normal" text-anchor="start" fill="#000" >M</text>
<line x1="614.8" y1="365.6" x2="622" y2="365.6" stroke="#000" stroke-width="0.7"/>
<defs>
<pattern id="latp" x="0" y="0" width="2.598" height="4.5" patternUnits="userSpaceOnUse">
<rect width="2.598" height="4.5" fill="#ffffff"/>
<path d="M0,0 L0,1.5 L1.299,2.25 L1.299,3.75 L0,4.5 M1.299,2.25 L2.598,1.5 L2.598,0 M1.299,3.75 L2.598,4.5" stroke="#aaaaaa" stroke-width="0.42" fill="none"/>
<circle cx="0" cy="0" r="0.58" fill="#a4d058"/><circle cx="2.598" cy="0" r="0.62" fill="#a2ce52"/>
<circle cx="0" cy="4.5" r="0.58" fill="#a4d058"/><circle cx="2.598" cy="4.5" r="0.62" fill="#a2ce52"/>
<circle cx="0" cy="1.5" r="0.45" fill="#8c8c94"/><circle cx="2.598" cy="1.5" r="0.45" fill="#8c8c94"/>
<circle cx="1.299" cy="2.25" r="0.45" fill="#8c8c94"/>
<circle cx="1.299" cy="3.75" r="0.5" fill="#b4d47c"/>
</pattern>
</defs>
<path d="M461.4,60.3 L534.5,20.9 L607.6,60.3 L534.5,99.7 Z" fill="url(#latp)"/>
<path d="M541.2,105.0 L611.0,64.6 L680.8,105.0 L611.0,145.4 Z" fill="url(#latp)"/>
<path d="M466.5,149.6 L535.4,110.4 L604.3,149.6 L535.4,188.8 Z" fill="url(#latp)"/>
<circle cx="529.10" cy="47.02" r="1.15" fill="#dc3422"/><circle cx="531.80" cy="47.02" r="1.15" fill="#dc3422"/><circle cx="537.20" cy="47.02" r="1.15" fill="#dc3422"/><circle cx="539.90" cy="47.02" r="1.15" fill="#dc3422"/><circle cx="525.05" cy="49.36" r="1.15" fill="#dc3422"/><circle cx="527.75" cy="49.36" r="1.15" fill="#dc3422"/><circle cx="533.15" cy="49.36" r="1.15" fill="#dc3422"/><circle cx="535.85" cy="49.36" r="1.15" fill="#dc3422"/><circle cx="541.25" cy="49.36" r="1.15" fill="#dc3422"/><circle cx="543.95" cy="49.36" r="1.15" fill="#dc3422"/><circle cx="529.10" cy="51.70" r="1.15" fill="#dc3422"/><circle cx="531.80" cy="51.70" r="1.15" fill="#dc3422"/><circle cx="537.20" cy="51.70" r="1.15" fill="#dc3422"/><circle cx="539.90" cy="51.70" r="1.15" fill="#dc3422"/><circle cx="545.30" cy="51.70" r="1.15" fill="#dc3422"/><circle cx="525.05" cy="54.04" r="1.15" fill="#dc3422"/><circle cx="527.75" cy="54.04" r="1.15" fill="#dc3422"/><circle cx="533.15" cy="54.04" r="1.15" fill="#dc3422"/><circle cx="535.85" cy="54.04" r="1.15" fill="#dc3422"/><circle cx="541.25" cy="54.04" r="1.15" fill="#dc3422"/><circle cx="543.95" cy="54.04" r="1.15" fill="#dc3422"/><circle cx="529.10" cy="56.38" r="1.15" fill="#dc3422"/><circle cx="531.80" cy="56.38" r="1.15" fill="#dc3422"/><circle cx="537.20" cy="56.38" r="1.15" fill="#dc3422"/><circle cx="539.90" cy="56.38" r="1.15" fill="#dc3422"/>
<circle cx="529.10" cy="64.22" r="1.15" fill="#dc3422"/><circle cx="531.80" cy="64.22" r="1.15" fill="#dc3422"/><circle cx="537.20" cy="64.22" r="1.15" fill="#dc3422"/><circle cx="539.90" cy="64.22" r="1.15" fill="#dc3422"/><circle cx="525.05" cy="66.56" r="1.15" fill="#dc3422"/><circle cx="533.15" cy="66.56" r="1.15" fill="#dc3422"/><circle cx="535.85" cy="66.56" r="1.15" fill="#dc3422"/><circle cx="541.25" cy="66.56" r="1.15" fill="#dc3422"/><circle cx="523.70" cy="68.90" r="1.15" fill="#dc3422"/><circle cx="529.10" cy="68.90" r="1.15" fill="#dc3422"/><circle cx="531.80" cy="68.90" r="1.15" fill="#dc3422"/><circle cx="537.20" cy="68.90" r="1.15" fill="#dc3422"/><circle cx="545.30" cy="68.90" r="1.15" fill="#dc3422"/><circle cx="525.05" cy="71.24" r="1.15" fill="#dc3422"/><circle cx="527.75" cy="71.24" r="1.15" fill="#dc3422"/><circle cx="533.15" cy="71.24" r="1.15" fill="#dc3422"/><circle cx="535.85" cy="71.24" r="1.15" fill="#dc3422"/><circle cx="541.25" cy="71.24" r="1.15" fill="#dc3422"/><circle cx="543.95" cy="71.24" r="1.15" fill="#dc3422"/><circle cx="529.10" cy="73.58" r="1.15" fill="#dc3422"/><circle cx="531.80" cy="73.58" r="1.15" fill="#dc3422"/><circle cx="537.20" cy="73.58" r="1.15" fill="#dc3422"/>





<circle cx="529.10" cy="24.82" r="1.15" fill="#dc3422"/><circle cx="537.20" cy="24.82" r="1.15" fill="#dc3422"/><circle cx="539.90" cy="24.82" r="1.15" fill="#dc3422"/><circle cx="525.05" cy="27.16" r="1.15" fill="#dc3422"/><circle cx="533.15" cy="27.16" r="1.15" fill="#dc3422"/><circle cx="535.85" cy="27.16" r="1.15" fill="#dc3422"/><circle cx="541.25" cy="27.16" r="1.15" fill="#dc3422"/><circle cx="543.95" cy="27.16" r="1.15" fill="#dc3422"/><circle cx="523.70" cy="29.50" r="1.15" fill="#dc3422"/><circle cx="529.10" cy="29.50" r="1.15" fill="#dc3422"/><circle cx="531.80" cy="29.50" r="1.15" fill="#dc3422"/><circle cx="537.20" cy="29.50" r="1.15" fill="#dc3422"/><circle cx="539.90" cy="29.50" r="1.15" fill="#dc3422"/><circle cx="525.05" cy="31.84" r="1.15" fill="#dc3422"/><circle cx="527.75" cy="31.84" r="1.15" fill="#dc3422"/><circle cx="533.15" cy="31.84" r="1.15" fill="#dc3422"/><circle cx="535.85" cy="31.84" r="1.15" fill="#dc3422"/><circle cx="541.25" cy="31.84" r="1.15" fill="#dc3422"/><circle cx="543.95" cy="31.84" r="1.15" fill="#dc3422"/><circle cx="529.10" cy="34.18" r="1.15" fill="#dc3422"/><circle cx="531.80" cy="34.18" r="1.15" fill="#dc3422"/><circle cx="537.20" cy="34.18" r="1.15" fill="#dc3422"/><circle cx="539.90" cy="34.18" r="1.15" fill="#dc3422"/>
<circle cx="529.10" cy="86.42" r="1.15" fill="#dc3422"/><circle cx="531.80" cy="86.42" r="1.15" fill="#dc3422"/><circle cx="537.20" cy="86.42" r="1.15" fill="#dc3422"/><circle cx="525.05" cy="88.76" r="1.15" fill="#dc3422"/><circle cx="533.15" cy="88.76" r="1.15" fill="#dc3422"/><circle cx="535.85" cy="88.76" r="1.15" fill="#dc3422"/><circle cx="541.25" cy="88.76" r="1.15" fill="#dc3422"/><circle cx="543.95" cy="88.76" r="1.15" fill="#dc3422"/><circle cx="523.70" cy="91.10" r="1.15" fill="#dc3422"/><circle cx="529.10" cy="91.10" r="1.15" fill="#dc3422"/><circle cx="531.80" cy="91.10" r="1.15" fill="#dc3422"/><circle cx="537.20" cy="91.10" r="1.15" fill="#dc3422"/><circle cx="539.90" cy="91.10" r="1.15" fill="#dc3422"/><circle cx="545.30" cy="91.10" r="1.15" fill="#dc3422"/><circle cx="525.05" cy="93.44" r="1.15" fill="#dc3422"/><circle cx="533.15" cy="93.44" r="1.15" fill="#dc3422"/><circle cx="535.85" cy="93.44" r="1.15" fill="#dc3422"/><circle cx="541.25" cy="93.44" r="1.15" fill="#dc3422"/><circle cx="543.95" cy="93.44" r="1.15" fill="#dc3422"/><circle cx="529.10" cy="95.78" r="1.15" fill="#dc3422"/><circle cx="531.80" cy="95.78" r="1.15" fill="#dc3422"/><circle cx="537.20" cy="95.78" r="1.15" fill="#dc3422"/><circle cx="539.90" cy="95.78" r="1.15" fill="#dc3422"/>


<circle cx="495.25" cy="44.52" r="1.15" fill="#dc3422"/><circle cx="500.65" cy="44.52" r="1.15" fill="#dc3422"/><circle cx="503.35" cy="44.52" r="1.15" fill="#dc3422"/><circle cx="488.50" cy="46.86" r="1.15" fill="#dc3422"/><circle cx="491.20" cy="46.86" r="1.15" fill="#dc3422"/><circle cx="499.30" cy="46.86" r="1.15" fill="#dc3422"/><circle cx="504.70" cy="46.86" r="1.15" fill="#dc3422"/><circle cx="507.40" cy="46.86" r="1.15" fill="#dc3422"/><circle cx="487.15" cy="49.20" r="1.15" fill="#dc3422"/><circle cx="492.55" cy="49.20" r="1.15" fill="#dc3422"/><circle cx="495.25" cy="49.20" r="1.15" fill="#dc3422"/><circle cx="500.65" cy="49.20" r="1.15" fill="#dc3422"/><circle cx="503.35" cy="49.20" r="1.15" fill="#dc3422"/><circle cx="508.75" cy="49.20" r="1.15" fill="#dc3422"/><circle cx="488.50" cy="51.54" r="1.15" fill="#dc3422"/><circle cx="491.20" cy="51.54" r="1.15" fill="#dc3422"/><circle cx="496.60" cy="51.54" r="1.15" fill="#dc3422"/><circle cx="499.30" cy="51.54" r="1.15" fill="#dc3422"/><circle cx="504.70" cy="51.54" r="1.15" fill="#dc3422"/><circle cx="507.40" cy="51.54" r="1.15" fill="#dc3422"/><circle cx="492.55" cy="53.88" r="1.15" fill="#dc3422"/><circle cx="495.25" cy="53.88" r="1.15" fill="#dc3422"/><circle cx="500.65" cy="53.88" r="1.15" fill="#dc3422"/>

<circle cx="565.65" cy="44.52" r="1.15" fill="#dc3422"/><circle cx="568.35" cy="44.52" r="1.15" fill="#dc3422"/><circle cx="573.75" cy="44.52" r="1.15" fill="#dc3422"/><circle cx="576.45" cy="44.52" r="1.15" fill="#dc3422"/><circle cx="561.60" cy="46.86" r="1.15" fill="#dc3422"/><circle cx="564.30" cy="46.86" r="1.15" fill="#dc3422"/><circle cx="569.70" cy="46.86" r="1.15" fill="#dc3422"/><circle cx="572.40" cy="46.86" r="1.15" fill="#dc3422"/><circle cx="577.80" cy="46.86" r="1.15" fill="#dc3422"/><circle cx="580.50" cy="46.86" r="1.15" fill="#dc3422"/><circle cx="560.25" cy="49.20" r="1.15" fill="#dc3422"/><circle cx="565.65" cy="49.20" r="1.15" fill="#dc3422"/><circle cx="568.35" cy="49.20" r="1.15" fill="#dc3422"/><circle cx="573.75" cy="49.20" r="1.15" fill="#dc3422"/><circle cx="576.45" cy="49.20" r="1.15" fill="#dc3422"/><circle cx="581.85" cy="49.20" r="1.15" fill="#dc3422"/><circle cx="561.60" cy="51.54" r="1.15" fill="#dc3422"/><circle cx="564.30" cy="51.54" r="1.15" fill="#dc3422"/><circle cx="569.70" cy="51.54" r="1.15" fill="#dc3422"/><circle cx="572.40" cy="51.54" r="1.15" fill="#dc3422"/><circle cx="577.80" cy="51.54" r="1.15" fill="#dc3422"/><circle cx="580.50" cy="51.54" r="1.15" fill="#dc3422"/><circle cx="565.65" cy="53.88" r="1.15" fill="#dc3422"/><circle cx="568.35" cy="53.88" r="1.15" fill="#dc3422"/><circle cx="573.75" cy="53.88" r="1.15" fill="#dc3422"/><circle cx="576.45" cy="53.88" r="1.15" fill="#dc3422"/>
<circle cx="492.55" cy="66.72" r="1.15" fill="#dc3422"/><circle cx="495.25" cy="66.72" r="1.15" fill="#dc3422"/><circle cx="500.65" cy="66.72" r="1.15" fill="#dc3422"/><circle cx="503.35" cy="66.72" r="1.15" fill="#dc3422"/><circle cx="488.50" cy="69.06" r="1.15" fill="#dc3422"/><circle cx="491.20" cy="69.06" r="1.15" fill="#dc3422"/><circle cx="496.60" cy="69.06" r="1.15" fill="#dc3422"/><circle cx="499.30" cy="69.06" r="1.15" fill="#dc3422"/><circle cx="504.70" cy="69.06" r="1.15" fill="#dc3422"/><circle cx="507.40" cy="69.06" r="1.15" fill="#dc3422"/><circle cx="487.15" cy="71.40" r="1.15" fill="#dc3422"/><circle cx="492.55" cy="71.40" r="1.15" fill="#dc3422"/><circle cx="495.25" cy="71.40" r="1.15" fill="#dc3422"/><circle cx="500.65" cy="71.40" r="1.15" fill="#dc3422"/><circle cx="503.35" cy="71.40" r="1.15" fill="#dc3422"/><circle cx="508.75" cy="71.40" r="1.15" fill="#dc3422"/><circle cx="488.50" cy="73.74" r="1.15" fill="#dc3422"/><circle cx="491.20" cy="73.74" r="1.15" fill="#dc3422"/><circle cx="496.60" cy="73.74" r="1.15" fill="#dc3422"/><circle cx="499.30" cy="73.74" r="1.15" fill="#dc3422"/><circle cx="504.70" cy="73.74" r="1.15" fill="#dc3422"/><circle cx="507.40" cy="73.74" r="1.15" fill="#dc3422"/><circle cx="492.55" cy="76.08" r="1.15" fill="#dc3422"/><circle cx="495.25" cy="76.08" r="1.15" fill="#dc3422"/><circle cx="500.65" cy="76.08" r="1.15" fill="#dc3422"/><circle cx="503.35" cy="76.08" r="1.15" fill="#dc3422"/>

<circle cx="568.35" cy="66.72" r="1.15" fill="#dc3422"/><circle cx="573.75" cy="66.72" r="1.15" fill="#dc3422"/><circle cx="561.60" cy="69.06" r="1.15" fill="#dc3422"/><circle cx="569.70" cy="69.06" r="1.15" fill="#dc3422"/><circle cx="580.50" cy="69.06" r="1.15" fill="#dc3422"/><circle cx="560.25" cy="71.40" r="1.15" fill="#dc3422"/><circle cx="565.65" cy="71.40" r="1.15" fill="#dc3422"/><circle cx="568.35" cy="71.40" r="1.15" fill="#dc3422"/><circle cx="573.75" cy="71.40" r="1.15" fill="#dc3422"/><circle cx="576.45" cy="71.40" r="1.15" fill="#dc3422"/><circle cx="581.85" cy="71.40" r="1.15" fill="#dc3422"/><circle cx="561.60" cy="73.74" r="1.15" fill="#dc3422"/><circle cx="564.30" cy="73.74" r="1.15" fill="#dc3422"/><circle cx="569.70" cy="73.74" r="1.15" fill="#dc3422"/><circle cx="572.40" cy="73.74" r="1.15" fill="#dc3422"/><circle cx="577.80" cy="73.74" r="1.15" fill="#dc3422"/><circle cx="580.50" cy="73.74" r="1.15" fill="#dc3422"/><circle cx="565.65" cy="76.08" r="1.15" fill="#dc3422"/><circle cx="568.35" cy="76.08" r="1.15" fill="#dc3422"/><circle cx="576.45" cy="76.08" r="1.15" fill="#dc3422"/>

<circle cx="604.25" cy="97.99" r="1.15" fill="#2030d8"/><circle cx="609.65" cy="97.99" r="1.15" fill="#2030d8"/><circle cx="612.35" cy="97.99" r="1.15" fill="#2030d8"/><circle cx="617.75" cy="97.99" r="1.15" fill="#2030d8"/><circle cx="605.60" cy="100.32" r="1.15" fill="#2030d8"/><circle cx="608.30" cy="100.32" r="1.15" fill="#2030d8"/><circle cx="613.70" cy="100.32" r="1.15" fill="#2030d8"/><circle cx="616.40" cy="100.32" r="1.15" fill="#2030d8"/><circle cx="601.55" cy="102.66" r="1.15" fill="#2030d8"/><circle cx="609.65" cy="102.66" r="1.15" fill="#2030d8"/><circle cx="612.35" cy="102.66" r="1.15" fill="#2030d8"/><circle cx="617.75" cy="102.66" r="1.15" fill="#2030d8"/><circle cx="620.45" cy="102.66" r="1.15" fill="#2030d8"/><circle cx="605.60" cy="105.00" r="1.15" fill="#2030d8"/><circle cx="608.30" cy="105.00" r="1.15" fill="#2030d8"/><circle cx="613.70" cy="105.00" r="1.15" fill="#2030d8"/><circle cx="616.40" cy="105.00" r="1.15" fill="#2030d8"/><circle cx="601.55" cy="107.34" r="1.15" fill="#2030d8"/><circle cx="604.25" cy="107.34" r="1.15" fill="#2030d8"/><circle cx="609.65" cy="107.34" r="1.15" fill="#2030d8"/><circle cx="612.35" cy="107.34" r="1.15" fill="#2030d8"/><circle cx="620.45" cy="107.34" r="1.15" fill="#2030d8"/><circle cx="605.60" cy="109.68" r="1.15" fill="#2030d8"/><circle cx="608.30" cy="109.68" r="1.15" fill="#2030d8"/><circle cx="613.70" cy="109.68" r="1.15" fill="#2030d8"/><circle cx="616.40" cy="109.68" r="1.15" fill="#2030d8"/><circle cx="604.25" cy="112.01" r="1.15" fill="#2030d8"/><circle cx="609.65" cy="112.01" r="1.15" fill="#2030d8"/><circle cx="612.35" cy="112.01" r="1.15" fill="#2030d8"/><circle cx="617.75" cy="112.01" r="1.15" fill="#2030d8"/>
<circle cx="547.95" cy="102.66" r="1.15" fill="#2030d8"/><circle cx="550.65" cy="102.66" r="1.15" fill="#2030d8"/><circle cx="543.90" cy="105.00" r="1.15" fill="#2030d8"/><circle cx="546.60" cy="105.00" r="1.15" fill="#2030d8"/><circle cx="547.95" cy="107.34" r="1.15" fill="#2030d8"/><circle cx="550.65" cy="107.34" r="1.15" fill="#2030d8"/>
<circle cx="671.35" cy="102.66" r="1.15" fill="#2030d8"/><circle cx="674.05" cy="102.66" r="1.15" fill="#2030d8"/><circle cx="678.10" cy="105.00" r="1.15" fill="#2030d8"/><circle cx="671.35" cy="107.34" r="1.15" fill="#2030d8"/><circle cx="674.05" cy="107.34" r="1.15" fill="#2030d8"/>
<circle cx="609.65" cy="66.94" r="1.15" fill="#2030d8"/><circle cx="612.35" cy="66.94" r="1.15" fill="#2030d8"/><circle cx="605.60" cy="69.28" r="1.15" fill="#2030d8"/><circle cx="608.30" cy="69.28" r="1.15" fill="#2030d8"/><circle cx="613.70" cy="69.28" r="1.15" fill="#2030d8"/><circle cx="616.40" cy="69.28" r="1.15" fill="#2030d8"/><circle cx="604.25" cy="71.61" r="1.15" fill="#2030d8"/><circle cx="609.65" cy="71.61" r="1.15" fill="#2030d8"/><circle cx="612.35" cy="71.61" r="1.15" fill="#2030d8"/><circle cx="617.75" cy="71.61" r="1.15" fill="#2030d8"/>
<circle cx="604.25" cy="138.39" r="1.15" fill="#2030d8"/><circle cx="609.65" cy="138.39" r="1.15" fill="#2030d8"/><circle cx="612.35" cy="138.39" r="1.15" fill="#2030d8"/><circle cx="617.75" cy="138.39" r="1.15" fill="#2030d8"/><circle cx="605.60" cy="140.72" r="1.15" fill="#2030d8"/><circle cx="608.30" cy="140.72" r="1.15" fill="#2030d8"/><circle cx="613.70" cy="140.72" r="1.15" fill="#2030d8"/><circle cx="616.40" cy="140.72" r="1.15" fill="#2030d8"/><circle cx="609.65" cy="143.06" r="1.15" fill="#2030d8"/><circle cx="612.35" cy="143.06" r="1.15" fill="#2030d8"/>
<circle cx="581.50" cy="83.32" r="1.15" fill="#2030d8"/><circle cx="577.45" cy="85.66" r="1.15" fill="#2030d8"/><circle cx="582.85" cy="85.66" r="1.15" fill="#2030d8"/><circle cx="585.55" cy="85.66" r="1.15" fill="#2030d8"/><circle cx="573.40" cy="88.00" r="1.15" fill="#2030d8"/><circle cx="578.80" cy="88.00" r="1.15" fill="#2030d8"/><circle cx="581.50" cy="88.00" r="1.15" fill="#2030d8"/><circle cx="569.35" cy="90.34" r="1.15" fill="#2030d8"/><circle cx="574.75" cy="90.34" r="1.15" fill="#2030d8"/><circle cx="577.45" cy="90.34" r="1.15" fill="#2030d8"/><circle cx="582.85" cy="90.34" r="1.15" fill="#2030d8"/><circle cx="585.55" cy="90.34" r="1.15" fill="#2030d8"/><circle cx="570.70" cy="92.68" r="1.15" fill="#2030d8"/><circle cx="573.40" cy="92.68" r="1.15" fill="#2030d8"/><circle cx="581.50" cy="92.68" r="1.15" fill="#2030d8"/><circle cx="569.35" cy="95.01" r="1.15" fill="#2030d8"/><circle cx="574.75" cy="95.01" r="1.15" fill="#2030d8"/><circle cx="577.45" cy="95.01" r="1.15" fill="#2030d8"/><circle cx="582.85" cy="95.01" r="1.15" fill="#2030d8"/>
<circle cx="640.50" cy="83.32" r="1.15" fill="#2030d8"/><circle cx="636.45" cy="85.66" r="1.15" fill="#2030d8"/><circle cx="639.15" cy="85.66" r="1.15" fill="#2030d8"/><circle cx="644.55" cy="85.66" r="1.15" fill="#2030d8"/><circle cx="640.50" cy="88.00" r="1.15" fill="#2030d8"/><circle cx="643.20" cy="88.00" r="1.15" fill="#2030d8"/><circle cx="648.60" cy="88.00" r="1.15" fill="#2030d8"/><circle cx="636.45" cy="90.34" r="1.15" fill="#2030d8"/><circle cx="639.15" cy="90.34" r="1.15" fill="#2030d8"/><circle cx="644.55" cy="90.34" r="1.15" fill="#2030d8"/><circle cx="647.25" cy="90.34" r="1.15" fill="#2030d8"/><circle cx="652.65" cy="90.34" r="1.15" fill="#2030d8"/><circle cx="640.50" cy="92.68" r="1.15" fill="#2030d8"/><circle cx="643.20" cy="92.68" r="1.15" fill="#2030d8"/><circle cx="648.60" cy="92.68" r="1.15" fill="#2030d8"/><circle cx="651.30" cy="92.68" r="1.15" fill="#2030d8"/><circle cx="639.15" cy="95.01" r="1.15" fill="#2030d8"/><circle cx="644.55" cy="95.01" r="1.15" fill="#2030d8"/><circle cx="647.25" cy="95.01" r="1.15" fill="#2030d8"/><circle cx="652.65" cy="95.01" r="1.15" fill="#2030d8"/>
<circle cx="569.35" cy="114.99" r="1.15" fill="#2030d8"/><circle cx="574.75" cy="114.99" r="1.15" fill="#2030d8"/><circle cx="577.45" cy="114.99" r="1.15" fill="#2030d8"/><circle cx="582.85" cy="114.99" r="1.15" fill="#2030d8"/><circle cx="573.40" cy="117.32" r="1.15" fill="#2030d8"/><circle cx="578.80" cy="117.32" r="1.15" fill="#2030d8"/><circle cx="581.50" cy="117.32" r="1.15" fill="#2030d8"/><circle cx="569.35" cy="119.66" r="1.15" fill="#2030d8"/><circle cx="574.75" cy="119.66" r="1.15" fill="#2030d8"/><circle cx="577.45" cy="119.66" r="1.15" fill="#2030d8"/><circle cx="582.85" cy="119.66" r="1.15" fill="#2030d8"/><circle cx="585.55" cy="119.66" r="1.15" fill="#2030d8"/><circle cx="578.80" cy="122.00" r="1.15" fill="#2030d8"/><circle cx="581.50" cy="122.00" r="1.15" fill="#2030d8"/><circle cx="577.45" cy="124.34" r="1.15" fill="#2030d8"/><circle cx="582.85" cy="124.34" r="1.15" fill="#2030d8"/><circle cx="585.55" cy="124.34" r="1.15" fill="#2030d8"/><circle cx="581.50" cy="126.68" r="1.15" fill="#2030d8"/>
<circle cx="639.15" cy="114.99" r="1.15" fill="#2030d8"/><circle cx="644.55" cy="114.99" r="1.15" fill="#2030d8"/><circle cx="647.25" cy="114.99" r="1.15" fill="#2030d8"/><circle cx="652.65" cy="114.99" r="1.15" fill="#2030d8"/><circle cx="640.50" cy="117.32" r="1.15" fill="#2030d8"/><circle cx="643.20" cy="117.32" r="1.15" fill="#2030d8"/><circle cx="648.60" cy="117.32" r="1.15" fill="#2030d8"/><circle cx="651.30" cy="117.32" r="1.15" fill="#2030d8"/><circle cx="636.45" cy="119.66" r="1.15" fill="#2030d8"/><circle cx="639.15" cy="119.66" r="1.15" fill="#2030d8"/><circle cx="647.25" cy="119.66" r="1.15" fill="#2030d8"/><circle cx="652.65" cy="119.66" r="1.15" fill="#2030d8"/><circle cx="640.50" cy="122.00" r="1.15" fill="#2030d8"/><circle cx="643.20" cy="122.00" r="1.15" fill="#2030d8"/><circle cx="648.60" cy="122.00" r="1.15" fill="#2030d8"/><circle cx="636.45" cy="124.34" r="1.15" fill="#2030d8"/><circle cx="639.15" cy="124.34" r="1.15" fill="#2030d8"/><circle cx="644.55" cy="124.34" r="1.15" fill="#2030d8"/><circle cx="640.50" cy="126.68" r="1.15" fill="#2030d8"/>
<circle cx="525.35" cy="137.91" r="1.15" fill="#36d236"/><circle cx="528.05" cy="137.91" r="1.15" fill="#36d236"/><circle cx="524.00" cy="140.25" r="1.15" fill="#36d236"/><circle cx="529.40" cy="140.25" r="1.15" fill="#36d236"/><circle cx="525.35" cy="142.59" r="1.15" fill="#36d236"/><circle cx="528.05" cy="142.59" r="1.15" fill="#36d236"/><circle cx="521.30" cy="144.92" r="1.15" fill="#36d236"/><circle cx="524.00" cy="144.92" r="1.15" fill="#36d236"/><circle cx="529.40" cy="144.92" r="1.15" fill="#36d236"/><circle cx="532.10" cy="144.92" r="1.15" fill="#36d236"/><circle cx="519.95" cy="147.26" r="1.15" fill="#36d236"/><circle cx="533.45" cy="147.26" r="1.15" fill="#36d236"/><circle cx="521.30" cy="149.60" r="1.15" fill="#36d236"/><circle cx="524.00" cy="149.60" r="1.15" fill="#36d236"/><circle cx="529.40" cy="149.60" r="1.15" fill="#36d236"/><circle cx="519.95" cy="151.94" r="1.15" fill="#36d236"/><circle cx="533.45" cy="151.94" r="1.15" fill="#36d236"/><circle cx="521.30" cy="154.28" r="1.15" fill="#36d236"/><circle cx="524.00" cy="154.28" r="1.15" fill="#36d236"/><circle cx="529.40" cy="154.28" r="1.15" fill="#36d236"/><circle cx="532.10" cy="154.28" r="1.15" fill="#36d236"/><circle cx="525.35" cy="156.61" r="1.15" fill="#36d236"/><circle cx="528.05" cy="156.61" r="1.15" fill="#36d236"/><circle cx="524.00" cy="158.95" r="1.15" fill="#36d236"/><circle cx="529.40" cy="158.95" r="1.15" fill="#36d236"/><circle cx="525.35" cy="161.29" r="1.15" fill="#36d236"/><circle cx="528.05" cy="161.29" r="1.15" fill="#36d236"/>
<circle cx="542.75" cy="137.91" r="1.15" fill="#36d236"/><circle cx="545.45" cy="137.91" r="1.15" fill="#36d236"/><circle cx="541.40" cy="140.25" r="1.15" fill="#36d236"/><circle cx="542.75" cy="142.59" r="1.15" fill="#36d236"/><circle cx="545.45" cy="142.59" r="1.15" fill="#36d236"/><circle cx="538.70" cy="144.92" r="1.15" fill="#36d236"/><circle cx="541.40" cy="144.92" r="1.15" fill="#36d236"/><circle cx="546.80" cy="144.92" r="1.15" fill="#36d236"/><circle cx="549.50" cy="144.92" r="1.15" fill="#36d236"/><circle cx="537.35" cy="147.26" r="1.15" fill="#36d236"/><circle cx="550.85" cy="147.26" r="1.15" fill="#36d236"/><circle cx="538.70" cy="149.60" r="1.15" fill="#36d236"/><circle cx="541.40" cy="149.60" r="1.15" fill="#36d236"/><circle cx="546.80" cy="149.60" r="1.15" fill="#36d236"/><circle cx="537.35" cy="151.94" r="1.15" fill="#36d236"/><circle cx="550.85" cy="151.94" r="1.15" fill="#36d236"/><circle cx="538.70" cy="154.28" r="1.15" fill="#36d236"/><circle cx="541.40" cy="154.28" r="1.15" fill="#36d236"/><circle cx="546.80" cy="154.28" r="1.15" fill="#36d236"/><circle cx="542.75" cy="156.61" r="1.15" fill="#36d236"/><circle cx="545.45" cy="156.61" r="1.15" fill="#36d236"/><circle cx="541.40" cy="158.95" r="1.15" fill="#36d236"/><circle cx="546.80" cy="158.95" r="1.15" fill="#36d236"/><circle cx="542.75" cy="161.29" r="1.15" fill="#36d236"/><circle cx="545.45" cy="161.29" r="1.15" fill="#36d236"/>

<circle cx="477.90" cy="144.92" r="1.15" fill="#36d236"/><circle cx="480.60" cy="144.92" r="1.15" fill="#36d236"/><circle cx="481.95" cy="147.26" r="1.15" fill="#36d236"/><circle cx="469.80" cy="149.60" r="1.15" fill="#36d236"/><circle cx="472.50" cy="149.60" r="1.15" fill="#36d236"/><circle cx="477.90" cy="149.60" r="1.15" fill="#36d236"/><circle cx="480.60" cy="149.60" r="1.15" fill="#36d236"/><circle cx="481.95" cy="151.94" r="1.15" fill="#36d236"/><circle cx="477.90" cy="154.28" r="1.15" fill="#36d236"/><circle cx="480.60" cy="154.28" r="1.15" fill="#36d236"/>
<circle cx="590.20" cy="144.92" r="1.15" fill="#36d236"/><circle cx="592.90" cy="144.92" r="1.15" fill="#36d236"/><circle cx="588.85" cy="147.26" r="1.15" fill="#36d236"/><circle cx="590.20" cy="149.60" r="1.15" fill="#36d236"/><circle cx="592.90" cy="149.60" r="1.15" fill="#36d236"/><circle cx="598.30" cy="149.60" r="1.15" fill="#36d236"/><circle cx="601.00" cy="149.60" r="1.15" fill="#36d236"/><circle cx="588.85" cy="151.94" r="1.15" fill="#36d236"/><circle cx="590.20" cy="154.28" r="1.15" fill="#36d236"/><circle cx="592.90" cy="154.28" r="1.15" fill="#36d236"/>

<circle cx="529.40" cy="115.08" r="1.15" fill="#36d236"/><circle cx="532.10" cy="115.08" r="1.15" fill="#36d236"/><circle cx="525.35" cy="117.41" r="1.15" fill="#36d236"/><circle cx="528.05" cy="117.41" r="1.15" fill="#36d236"/><circle cx="524.00" cy="119.75" r="1.15" fill="#36d236"/><circle cx="529.40" cy="119.75" r="1.15" fill="#36d236"/><circle cx="525.35" cy="122.09" r="1.15" fill="#36d236"/><circle cx="528.05" cy="122.09" r="1.15" fill="#36d236"/>
<circle cx="537.35" cy="112.74" r="1.15" fill="#36d236"/><circle cx="541.40" cy="115.08" r="1.15" fill="#36d236"/><circle cx="542.75" cy="117.41" r="1.15" fill="#36d236"/><circle cx="545.45" cy="117.41" r="1.15" fill="#36d236"/><circle cx="541.40" cy="119.75" r="1.15" fill="#36d236"/><circle cx="546.80" cy="119.75" r="1.15" fill="#36d236"/><circle cx="542.75" cy="122.09" r="1.15" fill="#36d236"/><circle cx="545.45" cy="122.09" r="1.15" fill="#36d236"/>
<circle cx="525.35" cy="177.11" r="1.15" fill="#36d236"/><circle cx="528.05" cy="177.11" r="1.15" fill="#36d236"/><circle cx="529.40" cy="179.45" r="1.15" fill="#36d236"/><circle cx="525.35" cy="181.79" r="1.15" fill="#36d236"/><circle cx="528.05" cy="181.79" r="1.15" fill="#36d236"/><circle cx="529.40" cy="184.12" r="1.15" fill="#36d236"/><circle cx="532.10" cy="184.12" r="1.15" fill="#36d236"/><circle cx="533.45" cy="186.46" r="1.15" fill="#36d236"/>
<circle cx="542.75" cy="177.11" r="1.15" fill="#36d236"/><circle cx="545.45" cy="177.11" r="1.15" fill="#36d236"/><circle cx="541.40" cy="179.45" r="1.15" fill="#36d236"/><circle cx="546.80" cy="179.45" r="1.15" fill="#36d236"/><circle cx="542.75" cy="181.79" r="1.15" fill="#36d236"/><circle cx="545.45" cy="181.79" r="1.15" fill="#36d236"/><circle cx="538.70" cy="184.12" r="1.15" fill="#36d236"/><circle cx="541.40" cy="184.12" r="1.15" fill="#36d236"/><circle cx="537.35" cy="186.46" r="1.15" fill="#36d236"/>
<circle cx="494.95" cy="136.18" r="1.15" fill="#36d236"/><circle cx="497.65" cy="136.18" r="1.15" fill="#36d236"/><circle cx="490.90" cy="138.51" r="1.15" fill="#36d236"/><circle cx="493.60" cy="138.51" r="1.15" fill="#36d236"/><circle cx="489.55" cy="140.85" r="1.15" fill="#36d236"/><circle cx="494.95" cy="140.85" r="1.15" fill="#36d236"/><circle cx="490.90" cy="143.19" r="1.15" fill="#36d236"/><circle cx="493.60" cy="143.19" r="1.15" fill="#36d236"/>
<circle cx="512.35" cy="126.82" r="1.15" fill="#36d236"/><circle cx="515.05" cy="126.82" r="1.15" fill="#36d236"/><circle cx="516.40" cy="129.16" r="1.15" fill="#36d236"/><circle cx="504.25" cy="131.50" r="1.15" fill="#36d236"/><circle cx="506.95" cy="131.50" r="1.15" fill="#36d236"/><circle cx="512.35" cy="131.50" r="1.15" fill="#36d236"/><circle cx="515.05" cy="131.50" r="1.15" fill="#36d236"/><circle cx="502.90" cy="133.84" r="1.15" fill="#36d236"/><circle cx="516.40" cy="133.84" r="1.15" fill="#36d236"/><circle cx="504.25" cy="136.18" r="1.15" fill="#36d236"/><circle cx="506.95" cy="136.18" r="1.15" fill="#36d236"/><circle cx="512.35" cy="136.18" r="1.15" fill="#36d236"/><circle cx="515.05" cy="136.18" r="1.15" fill="#36d236"/><circle cx="508.30" cy="138.51" r="1.15" fill="#36d236"/><circle cx="511.00" cy="138.51" r="1.15" fill="#36d236"/><circle cx="506.95" cy="140.85" r="1.15" fill="#36d236"/><circle cx="512.35" cy="140.85" r="1.15" fill="#36d236"/><circle cx="508.30" cy="143.19" r="1.15" fill="#36d236"/><circle cx="511.00" cy="143.19" r="1.15" fill="#36d236"/>
<circle cx="555.75" cy="126.82" r="1.15" fill="#36d236"/><circle cx="558.45" cy="126.82" r="1.15" fill="#36d236"/><circle cx="554.40" cy="129.16" r="1.15" fill="#36d236"/><circle cx="555.75" cy="131.50" r="1.15" fill="#36d236"/><circle cx="558.45" cy="131.50" r="1.15" fill="#36d236"/><circle cx="563.85" cy="131.50" r="1.15" fill="#36d236"/><circle cx="566.55" cy="131.50" r="1.15" fill="#36d236"/><circle cx="554.40" cy="133.84" r="1.15" fill="#36d236"/><circle cx="567.90" cy="133.84" r="1.15" fill="#36d236"/><circle cx="555.75" cy="136.18" r="1.15" fill="#36d236"/><circle cx="558.45" cy="136.18" r="1.15" fill="#36d236"/><circle cx="563.85" cy="136.18" r="1.15" fill="#36d236"/><circle cx="566.55" cy="136.18" r="1.15" fill="#36d236"/><circle cx="559.80" cy="138.51" r="1.15" fill="#36d236"/><circle cx="562.50" cy="138.51" r="1.15" fill="#36d236"/><circle cx="558.45" cy="140.85" r="1.15" fill="#36d236"/><circle cx="563.85" cy="140.85" r="1.15" fill="#36d236"/><circle cx="559.80" cy="143.19" r="1.15" fill="#36d236"/><circle cx="562.50" cy="143.19" r="1.15" fill="#36d236"/>
<circle cx="571.80" cy="133.84" r="1.15" fill="#36d236"/><circle cx="573.15" cy="136.18" r="1.15" fill="#36d236"/><circle cx="575.85" cy="136.18" r="1.15" fill="#36d236"/><circle cx="577.20" cy="138.51" r="1.15" fill="#36d236"/><circle cx="579.90" cy="138.51" r="1.15" fill="#36d236"/><circle cx="575.85" cy="140.85" r="1.15" fill="#36d236"/><circle cx="581.25" cy="140.85" r="1.15" fill="#36d236"/><circle cx="579.90" cy="143.19" r="1.15" fill="#36d236"/>
<circle cx="490.90" cy="156.01" r="1.15" fill="#36d236"/><circle cx="493.60" cy="156.01" r="1.15" fill="#36d236"/><circle cx="489.55" cy="158.35" r="1.15" fill="#36d236"/><circle cx="490.90" cy="160.69" r="1.15" fill="#36d236"/><circle cx="493.60" cy="160.69" r="1.15" fill="#36d236"/><circle cx="494.95" cy="163.02" r="1.15" fill="#36d236"/><circle cx="497.65" cy="163.02" r="1.15" fill="#36d236"/><circle cx="499.00" cy="165.36" r="1.15" fill="#36d236"/>
<circle cx="508.30" cy="156.01" r="1.15" fill="#36d236"/><circle cx="511.00" cy="156.01" r="1.15" fill="#36d236"/><circle cx="506.95" cy="158.35" r="1.15" fill="#36d236"/><circle cx="512.35" cy="158.35" r="1.15" fill="#36d236"/><circle cx="508.30" cy="160.69" r="1.15" fill="#36d236"/><circle cx="511.00" cy="160.69" r="1.15" fill="#36d236"/><circle cx="504.25" cy="163.02" r="1.15" fill="#36d236"/><circle cx="506.95" cy="163.02" r="1.15" fill="#36d236"/><circle cx="512.35" cy="163.02" r="1.15" fill="#36d236"/><circle cx="515.05" cy="163.02" r="1.15" fill="#36d236"/><circle cx="502.90" cy="165.36" r="1.15" fill="#36d236"/><circle cx="516.40" cy="165.36" r="1.15" fill="#36d236"/><circle cx="504.25" cy="167.70" r="1.15" fill="#36d236"/><circle cx="506.95" cy="167.70" r="1.15" fill="#36d236"/><circle cx="515.05" cy="167.70" r="1.15" fill="#36d236"/><circle cx="516.40" cy="170.04" r="1.15" fill="#36d236"/><circle cx="512.35" cy="172.38" r="1.15" fill="#36d236"/><circle cx="515.05" cy="172.38" r="1.15" fill="#36d236"/>
<circle cx="559.80" cy="156.01" r="1.15" fill="#36d236"/><circle cx="562.50" cy="156.01" r="1.15" fill="#36d236"/><circle cx="558.45" cy="158.35" r="1.15" fill="#36d236"/><circle cx="563.85" cy="158.35" r="1.15" fill="#36d236"/><circle cx="559.80" cy="160.69" r="1.15" fill="#36d236"/><circle cx="555.75" cy="163.02" r="1.15" fill="#36d236"/><circle cx="558.45" cy="163.02" r="1.15" fill="#36d236"/><circle cx="563.85" cy="163.02" r="1.15" fill="#36d236"/><circle cx="566.55" cy="163.02" r="1.15" fill="#36d236"/><circle cx="554.40" cy="165.36" r="1.15" fill="#36d236"/><circle cx="567.90" cy="165.36" r="1.15" fill="#36d236"/><circle cx="558.45" cy="167.70" r="1.15" fill="#36d236"/><circle cx="563.85" cy="167.70" r="1.15" fill="#36d236"/><circle cx="566.55" cy="167.70" r="1.15" fill="#36d236"/><circle cx="554.40" cy="170.04" r="1.15" fill="#36d236"/><circle cx="558.45" cy="172.38" r="1.15" fill="#36d236"/>
<circle cx="577.20" cy="156.01" r="1.15" fill="#36d236"/><circle cx="579.90" cy="156.01" r="1.15" fill="#36d236"/><circle cx="575.85" cy="158.35" r="1.15" fill="#36d236"/><circle cx="581.25" cy="158.35" r="1.15" fill="#36d236"/><circle cx="577.20" cy="160.69" r="1.15" fill="#36d236"/><circle cx="579.90" cy="160.69" r="1.15" fill="#36d236"/><circle cx="573.15" cy="163.02" r="1.15" fill="#36d236"/><circle cx="575.85" cy="163.02" r="1.15" fill="#36d236"/><circle cx="571.80" cy="165.36" r="1.15" fill="#36d236"/>
<ellipse cx="534.7" cy="50.5" rx="12.2" ry="8.2" fill="none" stroke="#1c3a92" stroke-width="1.1"/>
<ellipse cx="534.8" cy="68.5" rx="12.4" ry="8.1" fill="none" stroke="#1c3a92" stroke-width="1.1"/>
<ellipse cx="526.9" cy="149.5" rx="8.5" ry="12.2" fill="none" stroke="#1c3a92" stroke-width="1.1"/>
<ellipse cx="544.2" cy="149.5" rx="8.7" ry="12.2" fill="none" stroke="#1c3a92" stroke-width="1.1"/>
<circle cx="611.5" cy="105" r="13.4" fill="none" stroke="#e82222" stroke-width="1.2"/>
<ellipse cx="535.4" cy="12.9" rx="11.1" ry="9.9" fill="none" stroke="#ee2020" stroke-width="1.3" stroke-dasharray="2.8,1.8"/>
<text x="528.7" y="16.9" font-size="8.8" font-weight="normal" font-style="normal" text-anchor="start" fill="#ee2020" >AA</text>
<circle cx="480.6" cy="58.8" r="7.2" fill="none" stroke="#111" stroke-width="1.15" stroke-dasharray="2.6,1.5"/>
<circle cx="513.4" cy="58.8" r="7.2" fill="none" stroke="#111" stroke-width="1.15" stroke-dasharray="2.6,1.5"/>
<circle cx="555.6" cy="58.4" r="7.2" fill="none" stroke="#111" stroke-width="1.15" stroke-dasharray="2.6,1.5"/>
<circle cx="588.4" cy="58.4" r="7.2" fill="none" stroke="#111" stroke-width="1.15" stroke-dasharray="2.6,1.5"/>
<circle cx="518.3" cy="37.3" r="7.2" fill="none" stroke="#111" stroke-width="1.15" stroke-dasharray="2.6,1.5"/>
<circle cx="548.4" cy="35.2" r="7.2" fill="none" stroke="#111" stroke-width="1.15" stroke-dasharray="2.6,1.5"/>
<circle cx="518.3" cy="79.5" r="7.2" fill="none" stroke="#111" stroke-width="1.15" stroke-dasharray="2.6,1.5"/>
<circle cx="550.5" cy="80.5" r="7.2" fill="none" stroke="#111" stroke-width="1.15" stroke-dasharray="2.6,1.5"/>
<text x="511.2" y="40.4" font-size="8.4" font-weight="bold" font-style="normal" text-anchor="start" fill="#000" >AB</text>
<text x="458" y="35.8" font-size="8.8" font-style="italic">p<tspan font-size="6.2" dy="1.8">y</tspan><tspan dy="-1.8">-like</tspan></text>
<text x="645" y="81.8" font-size="8.8" font-style="italic">p<tspan font-size="6.2" dy="1.8">z</tspan><tspan dy="-1.8">-like</tspan></text>
<text x="460.6" y="129.4" font-size="8.8" font-style="italic">p<tspan font-size="6.2" dy="1.8">x</tspan><tspan dy="-1.8">-like</tspan></text>
</svg></body></html>
